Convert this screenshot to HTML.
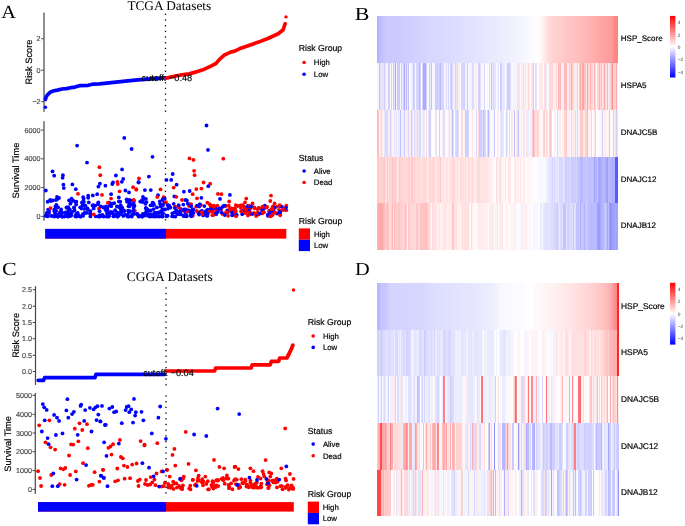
<!DOCTYPE html><html><head><meta charset="utf-8"><style>html,body{margin:0;padding:0;background:#fff;}svg{display:block;will-change:transform;text-rendering:geometricPrecision;}</style></head><body><svg width="685" height="526" viewBox="0 0 685 526">
<rect width="685" height="526" fill="#fff"/>
<defs><filter id="hblur" x="-2%" y="-2%" width="104%" height="104%"><feGaussianBlur stdDeviation="0.45 0"/></filter></defs>
<text transform="translate(1.2,18.3) scale(1.1,1)" font-size="18.5" font-family="Liberation Serif, serif" fill="#000">A</text>
<text x="169.3" y="10" font-size="13.3" font-family="Liberation Serif, serif" fill="#000" text-anchor="middle" >TCGA Datasets</text>
<rect x="43.4" y="12.5" width="1.2" height="99.3" fill="#444"/>
<rect x="41.2" y="38.2" width="2.5" height="1" fill="#444"/>
<text x="40.6" y="41.29" font-size="7.2" font-family="Liberation Sans, sans-serif" fill="#4d4d4d" text-anchor="end"  stroke="#4d4d4d" stroke-width="0.18">2</text>
<rect x="41.2" y="69.7" width="2.5" height="1" fill="#444"/>
<text x="40.6" y="72.79" font-size="7.2" font-family="Liberation Sans, sans-serif" fill="#4d4d4d" text-anchor="end"  stroke="#4d4d4d" stroke-width="0.18">0</text>
<rect x="41.2" y="101.2" width="2.5" height="1" fill="#444"/>
<text x="40.6" y="104.29" font-size="7.2" font-family="Liberation Sans, sans-serif" fill="#4d4d4d" text-anchor="end"  stroke="#4d4d4d" stroke-width="0.18">&#8722;2</text>
<text transform="translate(31.6,62) rotate(-90)" font-size="9.3" font-family="Liberation Sans, sans-serif" fill="#000" stroke="#000" stroke-width="0.18" text-anchor="middle">Risk Score</text>
<g fill="#000"><rect x="164.85" y="13.65" width="1.3" height="1.3"/><rect x="164.85" y="19.35" width="1.3" height="1.3"/><rect x="164.85" y="25.05" width="1.3" height="1.3"/><rect x="164.85" y="30.75" width="1.3" height="1.3"/><rect x="164.85" y="36.45" width="1.3" height="1.3"/><rect x="164.85" y="42.15" width="1.3" height="1.3"/><rect x="164.85" y="47.85" width="1.3" height="1.3"/><rect x="164.85" y="53.55" width="1.3" height="1.3"/><rect x="164.85" y="59.25" width="1.3" height="1.3"/><rect x="164.85" y="64.95" width="1.3" height="1.3"/><rect x="164.85" y="70.65" width="1.3" height="1.3"/><rect x="164.85" y="76.35" width="1.3" height="1.3"/><rect x="164.85" y="82.05" width="1.3" height="1.3"/><rect x="164.85" y="87.75" width="1.3" height="1.3"/><rect x="164.85" y="93.45" width="1.3" height="1.3"/><rect x="164.85" y="99.15" width="1.3" height="1.3"/><rect x="164.85" y="104.85" width="1.3" height="1.3"/><rect x="164.85" y="110.55" width="1.3" height="1.3"/></g>
<polyline points="45.4,99.5 46.1,96.9 47.9,94.3 50.5,92.1 54,90.8 57.5,90.1 61.9,89 66.3,88.6 70.7,87.7 75,87.1 79.4,85.7 88.2,85.3 92.6,84.2 99.6,83.8 116,82.2 135,80.2 154,78.6 164.8,78" fill="none" stroke="#0000ff" stroke-width="3.7" stroke-linejoin="round" stroke-linecap="round"/>
<g fill="#0000ff"><circle cx="45.4" cy="107.2" r="1.7"/></g>
<polyline points="166.3,78.2 171.7,76.8 179.9,75.2 189.2,73.9 197.4,71.5 204.4,69.2 211.4,65.9 216.1,63.4 219.6,59.3 224.2,55.2 230.1,52.3 234.7,51.1 239.4,48.8 248.7,45.5 258.5,42.1 268.4,38.2 278.2,33.7 283.2,29.7 285.1,23.8" fill="none" stroke="#ff0000" stroke-width="3.7" stroke-linejoin="round" stroke-linecap="round"/>
<g fill="#ff0000"><circle cx="286" cy="16.9" r="1.7"/></g>
<text x="166.9" y="81.4" font-size="9.2" font-family="Liberation Sans, sans-serif" fill="#000" text-anchor="middle"  stroke="#000" stroke-width="0.18">cutoff: &#8722;0.48</text>
<rect x="43.4" y="121.2" width="1.2" height="99.5" fill="#444"/>
<rect x="41.2" y="129.5" width="2.5" height="1" fill="#444"/>
<text x="40.6" y="132.59" font-size="7.2" font-family="Liberation Sans, sans-serif" fill="#4d4d4d" text-anchor="end"  stroke="#4d4d4d" stroke-width="0.18">6000</text>
<rect x="41.2" y="158.3" width="2.5" height="1" fill="#444"/>
<text x="40.6" y="161.39" font-size="7.2" font-family="Liberation Sans, sans-serif" fill="#4d4d4d" text-anchor="end"  stroke="#4d4d4d" stroke-width="0.18">4000</text>
<rect x="41.2" y="187.1" width="2.5" height="1" fill="#444"/>
<text x="40.6" y="190.19" font-size="7.2" font-family="Liberation Sans, sans-serif" fill="#4d4d4d" text-anchor="end"  stroke="#4d4d4d" stroke-width="0.18">2000</text>
<rect x="41.2" y="215.9" width="2.5" height="1" fill="#444"/>
<text x="40.6" y="218.99" font-size="7.2" font-family="Liberation Sans, sans-serif" fill="#4d4d4d" text-anchor="end"  stroke="#4d4d4d" stroke-width="0.18">0</text>
<text transform="translate(19.4,170.6) rotate(-90)" font-size="9.3" font-family="Liberation Sans, sans-serif" fill="#000" stroke="#000" stroke-width="0.18" text-anchor="middle">Survival Time</text>
<g><circle cx="70.99" cy="202.09" r="1.9" fill="#0000ff"/><circle cx="161.07" cy="211.08" r="1.9" fill="#0000ff"/><circle cx="83.79" cy="201.75" r="1.9" fill="#0000ff"/><circle cx="120.25" cy="201.75" r="1.9" fill="#0000ff"/><circle cx="217.06" cy="210.34" r="1.9" fill="#0000ff"/><circle cx="158.92" cy="216.5" r="1.9" fill="#0000ff"/><circle cx="128.37" cy="216.58" r="1.9" fill="#0000ff"/><circle cx="212.51" cy="211.67" r="1.9" fill="#ff0000"/><circle cx="98.31" cy="202.37" r="1.9" fill="#0000ff"/><circle cx="256.15" cy="215.99" r="1.9" fill="#ff0000"/><circle cx="76.07" cy="216.6" r="1.9" fill="#0000ff"/><circle cx="222.44" cy="213.88" r="1.9" fill="#ff0000"/><circle cx="176.6" cy="184.7" r="1.9" fill="#0000ff"/><circle cx="199.26" cy="206.53" r="1.9" fill="#0000ff"/><circle cx="81.85" cy="202.6" r="1.9" fill="#0000ff"/><circle cx="83.19" cy="204.08" r="1.9" fill="#0000ff"/><circle cx="134.02" cy="204.96" r="1.9" fill="#0000ff"/><circle cx="234.32" cy="208.55" r="1.9" fill="#ff0000"/><circle cx="182" cy="200" r="1.9" fill="#ff0000"/><circle cx="246.16" cy="210.87" r="1.9" fill="#0000ff"/><circle cx="257.54" cy="213.96" r="1.9" fill="#0000ff"/><circle cx="221.4" cy="194.2" r="1.9" fill="#ff0000"/><circle cx="277" cy="206.7" r="1.9" fill="#ff0000"/><circle cx="232.06" cy="215.3" r="1.9" fill="#0000ff"/><circle cx="229.2" cy="201.5" r="1.9" fill="#ff0000"/><circle cx="137.07" cy="213.95" r="1.9" fill="#0000ff"/><circle cx="61.77" cy="212.44" r="1.9" fill="#0000ff"/><circle cx="185.38" cy="212.36" r="1.9" fill="#0000ff"/><circle cx="118.93" cy="201.39" r="1.9" fill="#0000ff"/><circle cx="177.8" cy="214.03" r="1.9" fill="#0000ff"/><circle cx="274.6" cy="203.5" r="1.9" fill="#ff0000"/><circle cx="249.36" cy="210.85" r="1.9" fill="#ff0000"/><circle cx="120.71" cy="213.89" r="1.9" fill="#0000ff"/><circle cx="108.64" cy="216.55" r="1.9" fill="#0000ff"/><circle cx="163.5" cy="197.1" r="1.9" fill="#ff0000"/><circle cx="145.88" cy="208.31" r="1.9" fill="#0000ff"/><circle cx="68.09" cy="216.53" r="1.9" fill="#0000ff"/><circle cx="156.07" cy="216.35" r="1.9" fill="#0000ff"/><circle cx="240.4" cy="205.35" r="1.9" fill="#ff0000"/><circle cx="60.17" cy="212.19" r="1.9" fill="#0000ff"/><circle cx="154.06" cy="204.74" r="1.9" fill="#0000ff"/><circle cx="80.91" cy="216.52" r="1.9" fill="#0000ff"/><circle cx="83.14" cy="201.31" r="1.9" fill="#0000ff"/><circle cx="267.89" cy="214.61" r="1.9" fill="#0000ff"/><circle cx="74.1" cy="207.35" r="1.9" fill="#0000ff"/><circle cx="68.29" cy="207.2" r="1.9" fill="#0000ff"/><circle cx="109.88" cy="213.76" r="1.9" fill="#0000ff"/><circle cx="76.21" cy="204.55" r="1.9" fill="#0000ff"/><circle cx="129.3" cy="202.2" r="1.9" fill="#ff0000"/><circle cx="283.61" cy="209.42" r="1.9" fill="#ff0000"/><circle cx="249.03" cy="213.1" r="1.9" fill="#ff0000"/><circle cx="269.95" cy="213.79" r="1.9" fill="#ff0000"/><circle cx="68.23" cy="215.68" r="1.9" fill="#0000ff"/><circle cx="118.91" cy="215.35" r="1.9" fill="#0000ff"/><circle cx="93.63" cy="208.42" r="1.9" fill="#0000ff"/><circle cx="143" cy="197" r="1.9" fill="#0000ff"/><circle cx="191.11" cy="204.83" r="1.9" fill="#0000ff"/><circle cx="270.38" cy="215.89" r="1.9" fill="#0000ff"/><circle cx="225.55" cy="205.84" r="1.9" fill="#0000ff"/><circle cx="93.37" cy="205.24" r="1.9" fill="#0000ff"/><circle cx="203.18" cy="215.39" r="1.9" fill="#0000ff"/><circle cx="215.45" cy="208.18" r="1.9" fill="#0000ff"/><circle cx="51.53" cy="216.01" r="1.9" fill="#0000ff"/><circle cx="206.65" cy="212.61" r="1.9" fill="#ff0000"/><circle cx="206.87" cy="215.68" r="1.9" fill="#0000ff"/><circle cx="247.89" cy="205.98" r="1.9" fill="#0000ff"/><circle cx="215.09" cy="208.19" r="1.9" fill="#0000ff"/><circle cx="108.76" cy="216.22" r="1.9" fill="#0000ff"/><circle cx="87.54" cy="208.42" r="1.9" fill="#0000ff"/><circle cx="128.1" cy="210.74" r="1.9" fill="#0000ff"/><circle cx="235.6" cy="215.5" r="1.9" fill="#ff0000"/><circle cx="89.92" cy="213.17" r="1.9" fill="#0000ff"/><circle cx="131.77" cy="204.72" r="1.9" fill="#0000ff"/><circle cx="139" cy="178.4" r="1.9" fill="#ff0000"/><circle cx="75.8" cy="189.2" r="1.9" fill="#0000ff"/><circle cx="88.2" cy="197.8" r="1.9" fill="#0000ff"/><circle cx="54.23" cy="209.75" r="1.9" fill="#0000ff"/><circle cx="82.43" cy="205.52" r="1.9" fill="#0000ff"/><circle cx="171.2" cy="179.9" r="1.9" fill="#0000ff"/><circle cx="263.44" cy="208.9" r="1.9" fill="#0000ff"/><circle cx="59" cy="198" r="1.9" fill="#0000ff"/><circle cx="247.54" cy="210.1" r="1.9" fill="#ff0000"/><circle cx="145.91" cy="207.84" r="1.9" fill="#0000ff"/><circle cx="87.96" cy="209.97" r="1.9" fill="#0000ff"/><circle cx="244.57" cy="207.23" r="1.9" fill="#ff0000"/><circle cx="216.15" cy="214.19" r="1.9" fill="#0000ff"/><circle cx="116.78" cy="215.22" r="1.9" fill="#0000ff"/><circle cx="280.37" cy="206.17" r="1.9" fill="#0000ff"/><circle cx="234.51" cy="212.85" r="1.9" fill="#0000ff"/><circle cx="207.88" cy="213.55" r="1.9" fill="#ff0000"/><circle cx="147.77" cy="214.62" r="1.9" fill="#0000ff"/><circle cx="68.38" cy="210.01" r="1.9" fill="#0000ff"/><circle cx="120.77" cy="205.48" r="1.9" fill="#0000ff"/><circle cx="231.31" cy="208.54" r="1.9" fill="#0000ff"/><circle cx="210.73" cy="206.85" r="1.9" fill="#ff0000"/><circle cx="193.32" cy="209.51" r="1.9" fill="#0000ff"/><circle cx="95.86" cy="216.44" r="1.9" fill="#0000ff"/><circle cx="102.97" cy="215.77" r="1.9" fill="#0000ff"/><circle cx="69.91" cy="209.71" r="1.9" fill="#0000ff"/><circle cx="183.96" cy="216.17" r="1.9" fill="#0000ff"/><circle cx="152.24" cy="205.22" r="1.9" fill="#0000ff"/><circle cx="117.8" cy="184" r="1.9" fill="#ff0000"/><circle cx="160.5" cy="189.4" r="1.9" fill="#ff0000"/><circle cx="56" cy="200" r="1.9" fill="#0000ff"/><circle cx="209.3" cy="211.77" r="1.9" fill="#ff0000"/><circle cx="180.5" cy="208.85" r="1.9" fill="#0000ff"/><circle cx="152.5" cy="156.8" r="1.9" fill="#0000ff"/><circle cx="270.2" cy="211.92" r="1.9" fill="#0000ff"/><circle cx="138.63" cy="216.59" r="1.9" fill="#0000ff"/><circle cx="227.28" cy="210.51" r="1.9" fill="#0000ff"/><circle cx="77.67" cy="212.84" r="1.9" fill="#0000ff"/><circle cx="194.1" cy="170.8" r="1.9" fill="#ff0000"/><circle cx="259.3" cy="208.1" r="1.9" fill="#ff0000"/><circle cx="206.5" cy="125.5" r="1.9" fill="#0000ff"/><circle cx="130.49" cy="200.35" r="1.9" fill="#0000ff"/><circle cx="147.6" cy="209.47" r="1.9" fill="#0000ff"/><circle cx="123.33" cy="215.95" r="1.9" fill="#0000ff"/><circle cx="74.54" cy="210.38" r="1.9" fill="#0000ff"/><circle cx="112.76" cy="212.54" r="1.9" fill="#0000ff"/><circle cx="264" cy="212.33" r="1.9" fill="#ff0000"/><circle cx="242.23" cy="214.15" r="1.9" fill="#0000ff"/><circle cx="121.8" cy="181.8" r="1.9" fill="#0000ff"/><circle cx="140.3" cy="201.58" r="1.9" fill="#0000ff"/><circle cx="183.32" cy="204.56" r="1.9" fill="#0000ff"/><circle cx="57.58" cy="216.55" r="1.9" fill="#0000ff"/><circle cx="117.15" cy="212.3" r="1.9" fill="#0000ff"/><circle cx="80.18" cy="207.28" r="1.9" fill="#0000ff"/><circle cx="124.3" cy="137.9" r="1.9" fill="#0000ff"/><circle cx="191.91" cy="214.84" r="1.9" fill="#0000ff"/><circle cx="147.88" cy="215.75" r="1.9" fill="#0000ff"/><circle cx="281.78" cy="206.67" r="1.9" fill="#0000ff"/><circle cx="124.34" cy="211.05" r="1.9" fill="#0000ff"/><circle cx="98.4" cy="186.6" r="1.9" fill="#0000ff"/><circle cx="119.6" cy="191.3" r="1.9" fill="#ff0000"/><circle cx="272.96" cy="206.74" r="1.9" fill="#0000ff"/><circle cx="118.8" cy="197.4" r="1.9" fill="#0000ff"/><circle cx="186.8" cy="200.5" r="1.9" fill="#0000ff"/><circle cx="273.35" cy="206.52" r="1.9" fill="#ff0000"/><circle cx="58.19" cy="216.58" r="1.9" fill="#0000ff"/><circle cx="49.09" cy="212.99" r="1.9" fill="#0000ff"/><circle cx="47.48" cy="215.45" r="1.9" fill="#0000ff"/><circle cx="107.22" cy="207.43" r="1.9" fill="#0000ff"/><circle cx="246.3" cy="198.6" r="1.9" fill="#ff0000"/><circle cx="187.93" cy="210.43" r="1.9" fill="#0000ff"/><circle cx="113.97" cy="215.98" r="1.9" fill="#0000ff"/><circle cx="193.4" cy="159.9" r="1.9" fill="#ff0000"/><circle cx="56.75" cy="215.12" r="1.9" fill="#0000ff"/><circle cx="282.69" cy="209.69" r="1.9" fill="#ff0000"/><circle cx="213.85" cy="207.47" r="1.9" fill="#ff0000"/><circle cx="109.2" cy="214.1" r="1.9" fill="#0000ff"/><circle cx="211.87" cy="206.01" r="1.9" fill="#ff0000"/><circle cx="257.77" cy="209.18" r="1.9" fill="#ff0000"/><circle cx="76.36" cy="201.71" r="1.9" fill="#0000ff"/><circle cx="263.08" cy="208.74" r="1.9" fill="#0000ff"/><circle cx="264.86" cy="205.6" r="1.9" fill="#0000ff"/><circle cx="196.15" cy="206.64" r="1.9" fill="#ff0000"/><circle cx="99.9" cy="183.7" r="1.9" fill="#0000ff"/><circle cx="217.9" cy="193.9" r="1.9" fill="#ff0000"/><circle cx="144" cy="199" r="1.9" fill="#0000ff"/><circle cx="162.62" cy="216.59" r="1.9" fill="#0000ff"/><circle cx="280" cy="212.8" r="1.9" fill="#0000ff"/><circle cx="78" cy="193.8" r="1.9" fill="#ff0000"/><circle cx="258.71" cy="214.56" r="1.9" fill="#ff0000"/><circle cx="161.53" cy="205.17" r="1.9" fill="#0000ff"/><circle cx="133.86" cy="200.69" r="1.9" fill="#0000ff"/><circle cx="161.22" cy="216.41" r="1.9" fill="#0000ff"/><circle cx="189.7" cy="191" r="1.9" fill="#0000ff"/><circle cx="234.62" cy="212.3" r="1.9" fill="#0000ff"/><circle cx="138.6" cy="182.2" r="1.9" fill="#0000ff"/><circle cx="269.74" cy="210.6" r="1.9" fill="#0000ff"/><circle cx="152.64" cy="202.77" r="1.9" fill="#0000ff"/><circle cx="220" cy="198.9" r="1.9" fill="#0000ff"/><circle cx="272.35" cy="215.24" r="1.9" fill="#ff0000"/><circle cx="131.85" cy="216.53" r="1.9" fill="#0000ff"/><circle cx="178.77" cy="207.39" r="1.9" fill="#ff0000"/><circle cx="83.2" cy="197.1" r="1.9" fill="#0000ff"/><circle cx="215.74" cy="211.49" r="1.9" fill="#ff0000"/><circle cx="125.1" cy="214.75" r="1.9" fill="#0000ff"/><circle cx="196.3" cy="189.1" r="1.9" fill="#ff0000"/><circle cx="76.52" cy="215.45" r="1.9" fill="#ff0000"/><circle cx="55.6" cy="206.6" r="1.9" fill="#ff0000"/><circle cx="243.2" cy="210.64" r="1.9" fill="#0000ff"/><circle cx="111.42" cy="212.11" r="1.9" fill="#0000ff"/><circle cx="168.03" cy="208.72" r="1.9" fill="#0000ff"/><circle cx="258.73" cy="207.78" r="1.9" fill="#ff0000"/><circle cx="271" cy="195.6" r="1.9" fill="#ff0000"/><circle cx="249.83" cy="214.2" r="1.9" fill="#ff0000"/><circle cx="262.06" cy="210.28" r="1.9" fill="#0000ff"/><circle cx="190.3" cy="211.71" r="1.9" fill="#0000ff"/><circle cx="146.31" cy="211.24" r="1.9" fill="#0000ff"/><circle cx="62.27" cy="216.58" r="1.9" fill="#0000ff"/><circle cx="68.7" cy="215.79" r="1.9" fill="#0000ff"/><circle cx="106.19" cy="210.68" r="1.9" fill="#0000ff"/><circle cx="100.3" cy="175.2" r="1.9" fill="#ff0000"/><circle cx="158" cy="195.2" r="1.9" fill="#0000ff"/><circle cx="217.46" cy="210.74" r="1.9" fill="#ff0000"/><circle cx="127.6" cy="214.92" r="1.9" fill="#0000ff"/><circle cx="56.34" cy="204.98" r="1.9" fill="#0000ff"/><circle cx="142.85" cy="213.88" r="1.9" fill="#0000ff"/><circle cx="112.34" cy="213.26" r="1.9" fill="#0000ff"/><circle cx="75.32" cy="216.05" r="1.9" fill="#0000ff"/><circle cx="111.26" cy="206.2" r="1.9" fill="#0000ff"/><circle cx="95.35" cy="205.55" r="1.9" fill="#0000ff"/><circle cx="242.51" cy="205.06" r="1.9" fill="#ff0000"/><circle cx="284.56" cy="209.37" r="1.9" fill="#0000ff"/><circle cx="88.2" cy="195.7" r="1.9" fill="#0000ff"/><circle cx="148.9" cy="176.6" r="1.9" fill="#0000ff"/><circle cx="273.23" cy="209.36" r="1.9" fill="#ff0000"/><circle cx="157.2" cy="197.1" r="1.9" fill="#ff0000"/><circle cx="49.06" cy="210.38" r="1.9" fill="#0000ff"/><circle cx="186.85" cy="211.88" r="1.9" fill="#0000ff"/><circle cx="97.2" cy="194.2" r="1.9" fill="#0000ff"/><circle cx="113.46" cy="216.28" r="1.9" fill="#0000ff"/><circle cx="159.85" cy="201.29" r="1.9" fill="#0000ff"/><circle cx="78.05" cy="214.65" r="1.9" fill="#0000ff"/><circle cx="252.6" cy="203.5" r="1.9" fill="#ff0000"/><circle cx="47.62" cy="215.98" r="1.9" fill="#0000ff"/><circle cx="64.61" cy="212.86" r="1.9" fill="#0000ff"/><circle cx="168.99" cy="205.3" r="1.9" fill="#0000ff"/><circle cx="98.14" cy="204.1" r="1.9" fill="#0000ff"/><circle cx="82.75" cy="214.21" r="1.9" fill="#0000ff"/><circle cx="78.58" cy="216.17" r="1.9" fill="#0000ff"/><circle cx="254.3" cy="207.3" r="1.9" fill="#ff0000"/><circle cx="231.6" cy="210.8" r="1.9" fill="#ff0000"/><circle cx="112.34" cy="203.66" r="1.9" fill="#0000ff"/><circle cx="173.58" cy="216.38" r="1.9" fill="#0000ff"/><circle cx="128.07" cy="216.54" r="1.9" fill="#0000ff"/><circle cx="186.13" cy="215.81" r="1.9" fill="#0000ff"/><circle cx="140.74" cy="216.12" r="1.9" fill="#0000ff"/><circle cx="166.4" cy="179.9" r="1.9" fill="#0000ff"/><circle cx="92.53" cy="205.51" r="1.9" fill="#0000ff"/><circle cx="149.8" cy="216.58" r="1.9" fill="#0000ff"/><circle cx="221.08" cy="209.57" r="1.9" fill="#ff0000"/><circle cx="153.73" cy="209.04" r="1.9" fill="#0000ff"/><circle cx="48.04" cy="209.6" r="1.9" fill="#0000ff"/><circle cx="209.5" cy="204.1" r="1.9" fill="#ff0000"/><circle cx="162.87" cy="199.81" r="1.9" fill="#0000ff"/><circle cx="190.92" cy="204.1" r="1.9" fill="#ff0000"/><circle cx="227.79" cy="212.16" r="1.9" fill="#0000ff"/><circle cx="109.3" cy="202.7" r="1.9" fill="#0000ff"/><circle cx="59.42" cy="213.66" r="1.9" fill="#0000ff"/><circle cx="56.27" cy="210.78" r="1.9" fill="#0000ff"/><circle cx="90.39" cy="216.46" r="1.9" fill="#0000ff"/><circle cx="262.13" cy="213.42" r="1.9" fill="#ff0000"/><circle cx="232.86" cy="214.74" r="1.9" fill="#0000ff"/><circle cx="55.39" cy="213.36" r="1.9" fill="#0000ff"/><circle cx="223.3" cy="158.7" r="1.9" fill="#ff0000"/><circle cx="63.8" cy="188.1" r="1.9" fill="#0000ff"/><circle cx="231.47" cy="208.32" r="1.9" fill="#ff0000"/><circle cx="146.51" cy="202.07" r="1.9" fill="#0000ff"/><circle cx="111.1" cy="194.2" r="1.9" fill="#0000ff"/><circle cx="156.26" cy="216.47" r="1.9" fill="#0000ff"/><circle cx="90.4" cy="213.77" r="1.9" fill="#0000ff"/><circle cx="264.49" cy="206.62" r="1.9" fill="#0000ff"/><circle cx="185.4" cy="200" r="1.9" fill="#0000ff"/><circle cx="136.4" cy="189.4" r="1.9" fill="#ff0000"/><circle cx="70.68" cy="214.04" r="1.9" fill="#0000ff"/><circle cx="129.27" cy="203.92" r="1.9" fill="#0000ff"/><circle cx="285.92" cy="207.22" r="1.9" fill="#ff0000"/><circle cx="99.01" cy="208.53" r="1.9" fill="#ff0000"/><circle cx="64.32" cy="216.6" r="1.9" fill="#0000ff"/><circle cx="73.99" cy="207.92" r="1.9" fill="#0000ff"/><circle cx="267.86" cy="215.76" r="1.9" fill="#0000ff"/><circle cx="201.4" cy="188.6" r="1.9" fill="#ff0000"/><circle cx="201.95" cy="210.88" r="1.9" fill="#0000ff"/><circle cx="267.1" cy="206.89" r="1.9" fill="#ff0000"/><circle cx="207.28" cy="213.33" r="1.9" fill="#ff0000"/><circle cx="134.9" cy="210.79" r="1.9" fill="#ff0000"/><circle cx="114.16" cy="203.2" r="1.9" fill="#0000ff"/><circle cx="128.83" cy="212.01" r="1.9" fill="#0000ff"/><circle cx="222.79" cy="206.75" r="1.9" fill="#0000ff"/><circle cx="115.9" cy="175.5" r="1.9" fill="#0000ff"/><circle cx="111.23" cy="212.24" r="1.9" fill="#0000ff"/><circle cx="87" cy="162.6" r="1.9" fill="#0000ff"/><circle cx="164.2" cy="202.77" r="1.9" fill="#0000ff"/><circle cx="142.24" cy="216.52" r="1.9" fill="#0000ff"/><circle cx="62.6" cy="177.8" r="1.9" fill="#0000ff"/><circle cx="153.8" cy="216.49" r="1.9" fill="#0000ff"/><circle cx="286.34" cy="210.2" r="1.9" fill="#ff0000"/><circle cx="156.95" cy="207.46" r="1.9" fill="#0000ff"/><circle cx="133.1" cy="187.2" r="1.9" fill="#ff0000"/><circle cx="150.8" cy="190.1" r="1.9" fill="#0000ff"/><circle cx="62.9" cy="175.2" r="1.9" fill="#0000ff"/><circle cx="192.91" cy="215.83" r="1.9" fill="#ff0000"/><circle cx="175.36" cy="216.55" r="1.9" fill="#0000ff"/><circle cx="192.23" cy="210.85" r="1.9" fill="#0000ff"/><circle cx="136.2" cy="189.5" r="1.9" fill="#ff0000"/><circle cx="72.4" cy="184.4" r="1.9" fill="#0000ff"/><circle cx="207.35" cy="215.69" r="1.9" fill="#0000ff"/><circle cx="250.44" cy="208.22" r="1.9" fill="#ff0000"/><circle cx="270.27" cy="213.22" r="1.9" fill="#0000ff"/><circle cx="103.75" cy="216.59" r="1.9" fill="#0000ff"/><circle cx="245.64" cy="208.11" r="1.9" fill="#0000ff"/><circle cx="274.68" cy="207.65" r="1.9" fill="#0000ff"/><circle cx="153.37" cy="214.99" r="1.9" fill="#0000ff"/><circle cx="69.71" cy="216.16" r="1.9" fill="#0000ff"/><circle cx="136.94" cy="213.88" r="1.9" fill="#0000ff"/><circle cx="133.57" cy="202.09" r="1.9" fill="#0000ff"/><circle cx="199.61" cy="204.44" r="1.9" fill="#0000ff"/><circle cx="132.52" cy="214.12" r="1.9" fill="#0000ff"/><circle cx="48" cy="215.4" r="1.9" fill="#ff0000"/><circle cx="161.34" cy="212.09" r="1.9" fill="#0000ff"/><circle cx="57" cy="197" r="1.9" fill="#0000ff"/><circle cx="256.79" cy="213.88" r="1.9" fill="#0000ff"/><circle cx="45.57" cy="215.92" r="1.9" fill="#0000ff"/><circle cx="236.79" cy="214.98" r="1.9" fill="#0000ff"/><circle cx="75.44" cy="216" r="1.9" fill="#0000ff"/><circle cx="141.82" cy="201.61" r="1.9" fill="#0000ff"/><circle cx="221.73" cy="212.59" r="1.9" fill="#0000ff"/><circle cx="249.37" cy="211.22" r="1.9" fill="#0000ff"/><circle cx="120.18" cy="214.2" r="1.9" fill="#0000ff"/><circle cx="279.01" cy="209.85" r="1.9" fill="#ff0000"/><circle cx="172.13" cy="216.32" r="1.9" fill="#0000ff"/><circle cx="109.54" cy="212.32" r="1.9" fill="#0000ff"/><circle cx="138.53" cy="215.44" r="1.9" fill="#0000ff"/><circle cx="233.77" cy="212.31" r="1.9" fill="#ff0000"/><circle cx="257.61" cy="212.58" r="1.9" fill="#ff0000"/><circle cx="54.49" cy="211.52" r="1.9" fill="#0000ff"/><circle cx="277.08" cy="213.48" r="1.9" fill="#0000ff"/><circle cx="115.18" cy="214.98" r="1.9" fill="#0000ff"/><circle cx="270.3" cy="201" r="1.9" fill="#ff0000"/><circle cx="70.38" cy="203.71" r="1.9" fill="#0000ff"/><circle cx="142.19" cy="216.54" r="1.9" fill="#0000ff"/><circle cx="219.29" cy="208.1" r="1.9" fill="#0000ff"/><circle cx="99.35" cy="215.4" r="1.9" fill="#0000ff"/><circle cx="232.9" cy="209.94" r="1.9" fill="#ff0000"/><circle cx="269.07" cy="211.32" r="1.9" fill="#ff0000"/><circle cx="127.04" cy="201.71" r="1.9" fill="#0000ff"/><circle cx="273.18" cy="210.35" r="1.9" fill="#0000ff"/><circle cx="167.57" cy="205.09" r="1.9" fill="#0000ff"/><circle cx="245.48" cy="213.11" r="1.9" fill="#ff0000"/><circle cx="120.69" cy="213.27" r="1.9" fill="#0000ff"/><circle cx="162.67" cy="199.35" r="1.9" fill="#0000ff"/><circle cx="71.08" cy="213.76" r="1.9" fill="#0000ff"/><circle cx="225.25" cy="206.08" r="1.9" fill="#ff0000"/><circle cx="272.3" cy="213.77" r="1.9" fill="#ff0000"/><circle cx="70.94" cy="215.44" r="1.9" fill="#0000ff"/><circle cx="200.92" cy="205.09" r="1.9" fill="#ff0000"/><circle cx="212.4" cy="208.04" r="1.9" fill="#ff0000"/><circle cx="109.67" cy="205.54" r="1.9" fill="#0000ff"/><circle cx="235.79" cy="211.13" r="1.9" fill="#ff0000"/><circle cx="217.26" cy="205.58" r="1.9" fill="#ff0000"/><circle cx="237.82" cy="206" r="1.9" fill="#ff0000"/><circle cx="113.87" cy="216.34" r="1.9" fill="#0000ff"/><circle cx="205.46" cy="211.51" r="1.9" fill="#0000ff"/><circle cx="76.51" cy="216.47" r="1.9" fill="#0000ff"/><circle cx="254.87" cy="213.9" r="1.9" fill="#ff0000"/><circle cx="177.06" cy="213.98" r="1.9" fill="#ff0000"/><circle cx="83.18" cy="215.78" r="1.9" fill="#0000ff"/><circle cx="50.89" cy="201.05" r="1.9" fill="#0000ff"/><circle cx="68.82" cy="216.19" r="1.9" fill="#0000ff"/><circle cx="271.5" cy="211.28" r="1.9" fill="#0000ff"/><circle cx="155.12" cy="215.96" r="1.9" fill="#0000ff"/><circle cx="212.32" cy="215.21" r="1.9" fill="#ff0000"/><circle cx="112.3" cy="184" r="1.9" fill="#0000ff"/><circle cx="53.72" cy="215.79" r="1.9" fill="#0000ff"/><circle cx="235.8" cy="205.1" r="1.9" fill="#ff0000"/><circle cx="150.69" cy="214.17" r="1.9" fill="#0000ff"/><circle cx="212.59" cy="208.32" r="1.9" fill="#0000ff"/><circle cx="102.45" cy="214.98" r="1.9" fill="#0000ff"/><circle cx="162.93" cy="205.13" r="1.9" fill="#0000ff"/><circle cx="144.94" cy="213.65" r="1.9" fill="#0000ff"/><circle cx="62.29" cy="216.27" r="1.9" fill="#0000ff"/><circle cx="249.52" cy="205.99" r="1.9" fill="#ff0000"/><circle cx="133.85" cy="213.88" r="1.9" fill="#0000ff"/><circle cx="92.8" cy="195.4" r="1.9" fill="#0000ff"/><circle cx="117.4" cy="181.8" r="1.9" fill="#ff0000"/><circle cx="247.85" cy="207.85" r="1.9" fill="#0000ff"/><circle cx="102" cy="194.9" r="1.9" fill="#ff0000"/><circle cx="83.61" cy="198.52" r="1.9" fill="#0000ff"/><circle cx="245" cy="202.4" r="1.9" fill="#ff0000"/><circle cx="120.78" cy="209.16" r="1.9" fill="#0000ff"/><circle cx="58.03" cy="207.23" r="1.9" fill="#0000ff"/><circle cx="153.15" cy="203.05" r="1.9" fill="#0000ff"/><circle cx="75.48" cy="201.9" r="1.9" fill="#0000ff"/><circle cx="266.33" cy="207.63" r="1.9" fill="#ff0000"/><circle cx="70.98" cy="215.55" r="1.9" fill="#0000ff"/><circle cx="105.4" cy="185.7" r="1.9" fill="#0000ff"/><circle cx="188.98" cy="210.37" r="1.9" fill="#0000ff"/><circle cx="189" cy="205.9" r="1.9" fill="#ff0000"/><circle cx="65.71" cy="212.46" r="1.9" fill="#0000ff"/><circle cx="210.05" cy="209.41" r="1.9" fill="#0000ff"/><circle cx="280.22" cy="215.26" r="1.9" fill="#ff0000"/><circle cx="85.53" cy="205.63" r="1.9" fill="#0000ff"/><circle cx="207.41" cy="209.56" r="1.9" fill="#0000ff"/><circle cx="80.04" cy="216.53" r="1.9" fill="#0000ff"/><circle cx="105.58" cy="208.41" r="1.9" fill="#0000ff"/><circle cx="141.08" cy="216.15" r="1.9" fill="#0000ff"/><circle cx="162.65" cy="213.99" r="1.9" fill="#0000ff"/><circle cx="162.67" cy="209.11" r="1.9" fill="#0000ff"/><circle cx="193.35" cy="213.02" r="1.9" fill="#0000ff"/><circle cx="54.42" cy="216.59" r="1.9" fill="#0000ff"/><circle cx="125.4" cy="190.5" r="1.9" fill="#0000ff"/><circle cx="199.92" cy="204.3" r="1.9" fill="#0000ff"/><circle cx="210.85" cy="205.28" r="1.9" fill="#ff0000"/><circle cx="259.97" cy="213.28" r="1.9" fill="#0000ff"/><circle cx="226.09" cy="212.24" r="1.9" fill="#ff0000"/><circle cx="201.08" cy="211.78" r="1.9" fill="#ff0000"/><circle cx="150.92" cy="210.33" r="1.9" fill="#0000ff"/><circle cx="213.74" cy="214.83" r="1.9" fill="#ff0000"/><circle cx="107.54" cy="209.5" r="1.9" fill="#0000ff"/><circle cx="46.79" cy="212.86" r="1.9" fill="#0000ff"/><circle cx="245.84" cy="208.72" r="1.9" fill="#0000ff"/><circle cx="100.72" cy="206.3" r="1.9" fill="#0000ff"/><circle cx="119.04" cy="207.02" r="1.9" fill="#0000ff"/><circle cx="67.55" cy="215.96" r="1.9" fill="#0000ff"/><circle cx="164.99" cy="209.46" r="1.9" fill="#0000ff"/><circle cx="63.4" cy="184.7" r="1.9" fill="#0000ff"/><circle cx="123.64" cy="210.07" r="1.9" fill="#0000ff"/><circle cx="172.7" cy="174" r="1.9" fill="#0000ff"/><circle cx="213.79" cy="206.77" r="1.9" fill="#ff0000"/><circle cx="71.96" cy="211.89" r="1.9" fill="#0000ff"/><circle cx="181.66" cy="210.66" r="1.9" fill="#ff0000"/><circle cx="117.31" cy="216.6" r="1.9" fill="#0000ff"/><circle cx="180.94" cy="214.3" r="1.9" fill="#0000ff"/><circle cx="154.28" cy="212.89" r="1.9" fill="#0000ff"/><circle cx="99.4" cy="167.2" r="1.9" fill="#ff0000"/><circle cx="197.05" cy="205.53" r="1.9" fill="#0000ff"/><circle cx="81.47" cy="208.59" r="1.9" fill="#0000ff"/><circle cx="164.72" cy="198.66" r="1.9" fill="#0000ff"/><circle cx="189.5" cy="158.4" r="1.9" fill="#ff0000"/><circle cx="275.02" cy="212.63" r="1.9" fill="#ff0000"/><circle cx="229.95" cy="208.72" r="1.9" fill="#ff0000"/><circle cx="190.7" cy="214.57" r="1.9" fill="#0000ff"/><circle cx="145.53" cy="203.77" r="1.9" fill="#0000ff"/><circle cx="170.48" cy="207.51" r="1.9" fill="#0000ff"/><circle cx="242.9" cy="205.6" r="1.9" fill="#ff0000"/><circle cx="127.3" cy="215.99" r="1.9" fill="#0000ff"/><circle cx="208" cy="149.9" r="1.9" fill="#0000ff"/><circle cx="283.81" cy="209.49" r="1.9" fill="#0000ff"/><circle cx="210.2" cy="183.7" r="1.9" fill="#ff0000"/><circle cx="272.3" cy="209.2" r="1.9" fill="#0000ff"/><circle cx="52.5" cy="171.4" r="1.9" fill="#0000ff"/><circle cx="141.98" cy="200.04" r="1.9" fill="#0000ff"/><circle cx="270.12" cy="212.33" r="1.9" fill="#0000ff"/><circle cx="209.25" cy="211.58" r="1.9" fill="#ff0000"/><circle cx="254.58" cy="208.3" r="1.9" fill="#ff0000"/><circle cx="247.55" cy="209.71" r="1.9" fill="#ff0000"/><circle cx="162.85" cy="213.18" r="1.9" fill="#0000ff"/><circle cx="145.91" cy="198.87" r="1.9" fill="#0000ff"/><circle cx="184.27" cy="209.4" r="1.9" fill="#0000ff"/><circle cx="68.99" cy="200.34" r="1.9" fill="#0000ff"/><circle cx="253.91" cy="212.79" r="1.9" fill="#ff0000"/><circle cx="204.35" cy="206.08" r="1.9" fill="#0000ff"/><circle cx="200.95" cy="211.35" r="1.9" fill="#0000ff"/><circle cx="173.71" cy="203.84" r="1.9" fill="#0000ff"/><circle cx="148.68" cy="210.98" r="1.9" fill="#0000ff"/><circle cx="183.44" cy="209.89" r="1.9" fill="#0000ff"/><circle cx="272.2" cy="209.15" r="1.9" fill="#ff0000"/><circle cx="116.91" cy="206.45" r="1.9" fill="#0000ff"/><circle cx="247.61" cy="210.3" r="1.9" fill="#0000ff"/><circle cx="168.4" cy="205.58" r="1.9" fill="#0000ff"/><circle cx="138.5" cy="182.5" r="1.9" fill="#0000ff"/><circle cx="123.2" cy="178.9" r="1.9" fill="#0000ff"/><circle cx="76.17" cy="213.94" r="1.9" fill="#0000ff"/><circle cx="122.17" cy="207.58" r="1.9" fill="#0000ff"/><circle cx="164.42" cy="209.56" r="1.9" fill="#0000ff"/><circle cx="233.39" cy="209.36" r="1.9" fill="#ff0000"/><circle cx="77.1" cy="145.6" r="1.9" fill="#0000ff"/><circle cx="86.34" cy="212.91" r="1.9" fill="#0000ff"/><circle cx="279.92" cy="211.74" r="1.9" fill="#0000ff"/><circle cx="158.52" cy="212.51" r="1.9" fill="#0000ff"/><circle cx="201.62" cy="212.31" r="1.9" fill="#ff0000"/><circle cx="207.15" cy="213.23" r="1.9" fill="#0000ff"/><circle cx="224.02" cy="205.61" r="1.9" fill="#0000ff"/><circle cx="199.06" cy="214.51" r="1.9" fill="#0000ff"/><circle cx="59.6" cy="215.64" r="1.9" fill="#0000ff"/><circle cx="230.85" cy="210.38" r="1.9" fill="#ff0000"/><circle cx="55.91" cy="214.81" r="1.9" fill="#0000ff"/><circle cx="129.3" cy="206.38" r="1.9" fill="#0000ff"/><circle cx="201.4" cy="197.8" r="1.9" fill="#0000ff"/><circle cx="155.94" cy="212.96" r="1.9" fill="#0000ff"/><circle cx="247.94" cy="215.46" r="1.9" fill="#ff0000"/><circle cx="192.45" cy="209.49" r="1.9" fill="#0000ff"/><circle cx="220.6" cy="208.64" r="1.9" fill="#0000ff"/><circle cx="280.55" cy="211.21" r="1.9" fill="#ff0000"/><circle cx="228.06" cy="215.75" r="1.9" fill="#ff0000"/><circle cx="179.85" cy="214.35" r="1.9" fill="#0000ff"/><circle cx="100.15" cy="215.37" r="1.9" fill="#0000ff"/><circle cx="227.25" cy="212.55" r="1.9" fill="#ff0000"/><circle cx="47.64" cy="201.74" r="1.9" fill="#0000ff"/><circle cx="229.9" cy="194.9" r="1.9" fill="#0000ff"/><circle cx="131.6" cy="149" r="1.9" fill="#0000ff"/><circle cx="133.34" cy="210.81" r="1.9" fill="#0000ff"/><circle cx="98.14" cy="203.97" r="1.9" fill="#0000ff"/><circle cx="271.53" cy="209.26" r="1.9" fill="#ff0000"/><circle cx="217.88" cy="211.88" r="1.9" fill="#0000ff"/><circle cx="61.02" cy="213.16" r="1.9" fill="#0000ff"/><circle cx="115.13" cy="210.21" r="1.9" fill="#0000ff"/><circle cx="194.6" cy="175.2" r="1.9" fill="#ff0000"/><circle cx="55.51" cy="206.7" r="1.9" fill="#0000ff"/><circle cx="216.19" cy="213.48" r="1.9" fill="#0000ff"/><circle cx="263.33" cy="212.3" r="1.9" fill="#ff0000"/><circle cx="133.58" cy="207.95" r="1.9" fill="#0000ff"/><circle cx="57.49" cy="198.9" r="1.9" fill="#0000ff"/><circle cx="183.48" cy="215.73" r="1.9" fill="#0000ff"/><circle cx="45.8" cy="190.5" r="1.9" fill="#0000ff"/><circle cx="105.93" cy="206.48" r="1.9" fill="#0000ff"/><circle cx="62.33" cy="216.57" r="1.9" fill="#0000ff"/><circle cx="262.6" cy="206.73" r="1.9" fill="#ff0000"/><circle cx="150.58" cy="205.37" r="1.9" fill="#0000ff"/><circle cx="177.57" cy="214.19" r="1.9" fill="#0000ff"/><circle cx="174.48" cy="212.29" r="1.9" fill="#0000ff"/><circle cx="67.57" cy="212.16" r="1.9" fill="#0000ff"/><circle cx="146.67" cy="214.14" r="1.9" fill="#0000ff"/><circle cx="50.5" cy="208.1" r="1.9" fill="#ff0000"/><circle cx="198.08" cy="212.35" r="1.9" fill="#0000ff"/><circle cx="61.15" cy="209.42" r="1.9" fill="#0000ff"/><circle cx="186.39" cy="216.27" r="1.9" fill="#0000ff"/><circle cx="175.03" cy="206.65" r="1.9" fill="#ff0000"/><circle cx="52.9" cy="200.29" r="1.9" fill="#0000ff"/><circle cx="129.27" cy="199.89" r="1.9" fill="#0000ff"/><circle cx="187" cy="211.53" r="1.9" fill="#ff0000"/><circle cx="55.08" cy="209.52" r="1.9" fill="#0000ff"/><circle cx="130.84" cy="216.11" r="1.9" fill="#0000ff"/><circle cx="180.03" cy="211.59" r="1.9" fill="#0000ff"/><circle cx="67.16" cy="213.15" r="1.9" fill="#0000ff"/><circle cx="60.67" cy="213.47" r="1.9" fill="#0000ff"/><circle cx="186.82" cy="215.92" r="1.9" fill="#0000ff"/><circle cx="106.75" cy="216.6" r="1.9" fill="#0000ff"/><circle cx="120.28" cy="212.49" r="1.9" fill="#0000ff"/><circle cx="251.11" cy="206.51" r="1.9" fill="#0000ff"/><circle cx="178.65" cy="205.22" r="1.9" fill="#0000ff"/><circle cx="249.7" cy="212.3" r="1.9" fill="#ff0000"/><circle cx="236.06" cy="216.33" r="1.9" fill="#ff0000"/><circle cx="286.36" cy="205.63" r="1.9" fill="#ff0000"/><circle cx="142.98" cy="202.07" r="1.9" fill="#0000ff"/><circle cx="174.92" cy="208.11" r="1.9" fill="#0000ff"/><circle cx="147.23" cy="210.15" r="1.9" fill="#0000ff"/><circle cx="130.18" cy="211.03" r="1.9" fill="#0000ff"/><circle cx="191.07" cy="206.18" r="1.9" fill="#0000ff"/><circle cx="107.08" cy="213.52" r="1.9" fill="#0000ff"/><circle cx="161.23" cy="211.94" r="1.9" fill="#0000ff"/><circle cx="103.13" cy="207.24" r="1.9" fill="#0000ff"/><circle cx="113" cy="182.5" r="1.9" fill="#0000ff"/><circle cx="174.4" cy="196.4" r="1.9" fill="#0000ff"/><circle cx="231.99" cy="212.57" r="1.9" fill="#0000ff"/><circle cx="118.93" cy="206.53" r="1.9" fill="#0000ff"/><circle cx="129" cy="192.4" r="1.9" fill="#0000ff"/><circle cx="191.19" cy="216.33" r="1.9" fill="#0000ff"/><circle cx="187.88" cy="203.68" r="1.9" fill="#0000ff"/><circle cx="246.02" cy="210.1" r="1.9" fill="#ff0000"/><circle cx="69.22" cy="213.51" r="1.9" fill="#0000ff"/><circle cx="160.12" cy="212.66" r="1.9" fill="#0000ff"/><circle cx="108.88" cy="213.42" r="1.9" fill="#0000ff"/><circle cx="203.6" cy="182.5" r="1.9" fill="#ff0000"/><circle cx="202.8" cy="214.12" r="1.9" fill="#ff0000"/><circle cx="71.57" cy="198.56" r="1.9" fill="#0000ff"/><circle cx="111.1" cy="198.6" r="1.9" fill="#ff0000"/><circle cx="105.22" cy="208.98" r="1.9" fill="#0000ff"/><circle cx="197" cy="198.3" r="1.9" fill="#ff0000"/><circle cx="284.72" cy="209.14" r="1.9" fill="#0000ff"/><circle cx="179.97" cy="213.01" r="1.9" fill="#0000ff"/><circle cx="121.8" cy="211.84" r="1.9" fill="#0000ff"/><circle cx="50.12" cy="199.89" r="1.9" fill="#0000ff"/><circle cx="185.71" cy="209.37" r="1.9" fill="#0000ff"/><circle cx="151.56" cy="216.33" r="1.9" fill="#0000ff"/><circle cx="139.9" cy="216.37" r="1.9" fill="#0000ff"/><circle cx="240.88" cy="208.02" r="1.9" fill="#ff0000"/><circle cx="158.34" cy="213" r="1.9" fill="#0000ff"/><circle cx="244.76" cy="208.76" r="1.9" fill="#ff0000"/><circle cx="173.7" cy="187.6" r="1.9" fill="#ff0000"/><circle cx="167.6" cy="215.77" r="1.9" fill="#0000ff"/><circle cx="176.39" cy="210.6" r="1.9" fill="#0000ff"/><circle cx="196.73" cy="210.9" r="1.9" fill="#ff0000"/><circle cx="160.71" cy="206.48" r="1.9" fill="#0000ff"/><circle cx="192.7" cy="194.2" r="1.9" fill="#ff0000"/><circle cx="137.84" cy="214.85" r="1.9" fill="#0000ff"/><circle cx="129.71" cy="203.39" r="1.9" fill="#0000ff"/><circle cx="280.06" cy="212.04" r="1.9" fill="#0000ff"/><circle cx="90.53" cy="211.07" r="1.9" fill="#0000ff"/><circle cx="213.8" cy="205.6" r="1.9" fill="#ff0000"/><circle cx="272.69" cy="214.05" r="1.9" fill="#ff0000"/><circle cx="285.7" cy="207.8" r="1.9" fill="#0000ff"/><circle cx="183.9" cy="191.7" r="1.9" fill="#0000ff"/><circle cx="66.46" cy="207.51" r="1.9" fill="#0000ff"/><circle cx="117.82" cy="216.59" r="1.9" fill="#0000ff"/><circle cx="224.76" cy="215.01" r="1.9" fill="#0000ff"/><circle cx="159.99" cy="203.82" r="1.9" fill="#0000ff"/><circle cx="166.38" cy="216.26" r="1.9" fill="#0000ff"/><circle cx="121.83" cy="209.88" r="1.9" fill="#0000ff"/><circle cx="191.37" cy="215.09" r="1.9" fill="#0000ff"/><circle cx="99.56" cy="211.25" r="1.9" fill="#0000ff"/><circle cx="93.79" cy="214.5" r="1.9" fill="#ff0000"/><circle cx="270.33" cy="216.31" r="1.9" fill="#ff0000"/><circle cx="99.85" cy="216.59" r="1.9" fill="#0000ff"/><circle cx="102.28" cy="216.11" r="1.9" fill="#0000ff"/><circle cx="228.8" cy="205.74" r="1.9" fill="#ff0000"/><circle cx="128.95" cy="212.43" r="1.9" fill="#0000ff"/><circle cx="88.78" cy="202.4" r="1.9" fill="#0000ff"/><circle cx="47.78" cy="216.33" r="1.9" fill="#0000ff"/><circle cx="133.7" cy="200" r="1.9" fill="#ff0000"/><circle cx="176.3" cy="196.8" r="1.9" fill="#ff0000"/><circle cx="84.56" cy="212.94" r="1.9" fill="#0000ff"/><circle cx="121.85" cy="211.96" r="1.9" fill="#0000ff"/><circle cx="107.9" cy="202.7" r="1.9" fill="#ff0000"/><circle cx="126.6" cy="199.3" r="1.9" fill="#0000ff"/><circle cx="241.12" cy="211.38" r="1.9" fill="#ff0000"/><circle cx="205.18" cy="213.18" r="1.9" fill="#0000ff"/><circle cx="98.76" cy="216.55" r="1.9" fill="#0000ff"/><circle cx="134.46" cy="205.92" r="1.9" fill="#0000ff"/><circle cx="122.1" cy="169.4" r="1.9" fill="#0000ff"/><circle cx="172.37" cy="213.33" r="1.9" fill="#0000ff"/><circle cx="283.94" cy="209.27" r="1.9" fill="#ff0000"/><circle cx="128.53" cy="206.22" r="1.9" fill="#0000ff"/><circle cx="279.57" cy="205.08" r="1.9" fill="#ff0000"/><circle cx="84.57" cy="208.89" r="1.9" fill="#0000ff"/><circle cx="272.6" cy="208.69" r="1.9" fill="#ff0000"/><circle cx="67.35" cy="216.24" r="1.9" fill="#0000ff"/><circle cx="54.2" cy="175.7" r="1.9" fill="#0000ff"/><circle cx="235.06" cy="208.19" r="1.9" fill="#ff0000"/><circle cx="46.77" cy="214.54" r="1.9" fill="#0000ff"/><circle cx="208.3" cy="186.2" r="1.9" fill="#0000ff"/><circle cx="144.65" cy="215.72" r="1.9" fill="#0000ff"/><circle cx="73.24" cy="200.54" r="1.9" fill="#0000ff"/><circle cx="66.56" cy="214.37" r="1.9" fill="#0000ff"/><circle cx="207.3" cy="202.7" r="1.9" fill="#ff0000"/><circle cx="178.06" cy="211.57" r="1.9" fill="#0000ff"/><circle cx="218.66" cy="209.25" r="1.9" fill="#0000ff"/><circle cx="166" cy="202.2" r="1.9" fill="#ff0000"/><circle cx="252.04" cy="214.11" r="1.9" fill="#0000ff"/><circle cx="144.9" cy="190.1" r="1.9" fill="#0000ff"/></g>
<g fill="#000"><rect x="164.85" y="122.25" width="1.3" height="1.3"/><rect x="164.85" y="127.95" width="1.3" height="1.3"/><rect x="164.85" y="133.65" width="1.3" height="1.3"/><rect x="164.85" y="139.35" width="1.3" height="1.3"/><rect x="164.85" y="145.05" width="1.3" height="1.3"/><rect x="164.85" y="150.75" width="1.3" height="1.3"/><rect x="164.85" y="156.45" width="1.3" height="1.3"/><rect x="164.85" y="162.15" width="1.3" height="1.3"/><rect x="164.85" y="167.85" width="1.3" height="1.3"/><rect x="164.85" y="173.55" width="1.3" height="1.3"/><rect x="164.85" y="179.25" width="1.3" height="1.3"/><rect x="164.85" y="184.95" width="1.3" height="1.3"/><rect x="164.85" y="190.65" width="1.3" height="1.3"/><rect x="164.85" y="196.35" width="1.3" height="1.3"/><rect x="164.85" y="202.05" width="1.3" height="1.3"/><rect x="164.85" y="207.75" width="1.3" height="1.3"/><rect x="164.85" y="213.45" width="1.3" height="1.3"/><rect x="164.85" y="219.15" width="1.3" height="1.3"/></g>
<rect x="45.3" y="228.9" width="241.0" height="9.7" fill="#ff0000"/>
<rect x="45.3" y="228.9" width="120.7" height="9.7" fill="#0000ff"/>
<text x="298.7" y="51.2" font-size="8.7" font-family="Liberation Sans, sans-serif" fill="#000" text-anchor="start"  stroke="#000" stroke-width="0.18">Risk Group</text>
<circle cx="304.1" cy="62.5" r="1.8" fill="#ff0000"/>
<text x="313.8" y="65.3" font-size="7.8" font-family="Liberation Sans, sans-serif" fill="#000" text-anchor="start"  stroke="#000" stroke-width="0.18">High</text>
<circle cx="304.1" cy="74.2" r="1.8" fill="#0000ff"/>
<text x="313.8" y="77" font-size="7.8" font-family="Liberation Sans, sans-serif" fill="#000" text-anchor="start"  stroke="#000" stroke-width="0.18">Low</text>
<text x="298.7" y="160.8" font-size="8.7" font-family="Liberation Sans, sans-serif" fill="#000" text-anchor="start"  stroke="#000" stroke-width="0.18">Status</text>
<circle cx="304.1" cy="171" r="1.8" fill="#0000ff"/>
<text x="313.8" y="173.8" font-size="7.8" font-family="Liberation Sans, sans-serif" fill="#000" text-anchor="start"  stroke="#000" stroke-width="0.18">Alive</text>
<circle cx="304.1" cy="182.5" r="1.8" fill="#ff0000"/>
<text x="313.8" y="185.3" font-size="7.8" font-family="Liberation Sans, sans-serif" fill="#000" text-anchor="start"  stroke="#000" stroke-width="0.18">Dead</text>
<text x="298.8" y="223.8" font-size="8.7" font-family="Liberation Sans, sans-serif" fill="#000" text-anchor="start"  stroke="#000" stroke-width="0.18">Risk Group</text>
<rect x="298.8" y="228.4" width="11.2" height="11.35" fill="#ff0000"/>
<rect x="298.8" y="239.75" width="11.2" height="11.35" fill="#0000ff"/>
<text x="313.9" y="236.88" font-size="7.8" font-family="Liberation Sans, sans-serif" fill="#000" text-anchor="start"  stroke="#000" stroke-width="0.18">High</text>
<text x="313.9" y="248.23" font-size="7.8" font-family="Liberation Sans, sans-serif" fill="#000" text-anchor="start"  stroke="#000" stroke-width="0.18">Low</text>
<text transform="translate(1.9,275.2) scale(1.19,1)" font-size="18.5" font-family="Liberation Serif, serif" fill="#000">C</text>
<text x="169.8" y="281.3" font-size="13.4" font-family="Liberation Serif, serif" fill="#000" text-anchor="middle" >CGGA Datasets</text>
<rect x="34.9" y="286.2" width="1.2" height="98.7" fill="#444"/>
<rect x="32.7" y="289.2" width="2.5" height="1" fill="#444"/>
<text x="32.1" y="292.29" font-size="7.2" font-family="Liberation Sans, sans-serif" fill="#4d4d4d" text-anchor="end"  stroke="#4d4d4d" stroke-width="0.18">2.5</text>
<rect x="32.7" y="305.7" width="2.5" height="1" fill="#444"/>
<text x="32.1" y="308.79" font-size="7.2" font-family="Liberation Sans, sans-serif" fill="#4d4d4d" text-anchor="end"  stroke="#4d4d4d" stroke-width="0.18">2.0</text>
<rect x="32.7" y="322" width="2.5" height="1" fill="#444"/>
<text x="32.1" y="325.09" font-size="7.2" font-family="Liberation Sans, sans-serif" fill="#4d4d4d" text-anchor="end"  stroke="#4d4d4d" stroke-width="0.18">1.5</text>
<rect x="32.7" y="338.2" width="2.5" height="1" fill="#444"/>
<text x="32.1" y="341.29" font-size="7.2" font-family="Liberation Sans, sans-serif" fill="#4d4d4d" text-anchor="end"  stroke="#4d4d4d" stroke-width="0.18">1.0</text>
<rect x="32.7" y="354.8" width="2.5" height="1" fill="#444"/>
<text x="32.1" y="357.89" font-size="7.2" font-family="Liberation Sans, sans-serif" fill="#4d4d4d" text-anchor="end"  stroke="#4d4d4d" stroke-width="0.18">0.5</text>
<rect x="32.7" y="371" width="2.5" height="1" fill="#444"/>
<text x="32.1" y="374.09" font-size="7.2" font-family="Liberation Sans, sans-serif" fill="#4d4d4d" text-anchor="end"  stroke="#4d4d4d" stroke-width="0.18">0.0</text>
<text transform="translate(19.3,335.4) rotate(-90)" font-size="9.3" font-family="Liberation Sans, sans-serif" fill="#000" stroke="#000" stroke-width="0.18" text-anchor="middle">Risk Score</text>
<g fill="#000"><rect x="165.35" y="287.25" width="1.3" height="1.3"/><rect x="165.35" y="292.95" width="1.3" height="1.3"/><rect x="165.35" y="298.65" width="1.3" height="1.3"/><rect x="165.35" y="304.35" width="1.3" height="1.3"/><rect x="165.35" y="310.05" width="1.3" height="1.3"/><rect x="165.35" y="315.75" width="1.3" height="1.3"/><rect x="165.35" y="321.45" width="1.3" height="1.3"/><rect x="165.35" y="327.15" width="1.3" height="1.3"/><rect x="165.35" y="332.85" width="1.3" height="1.3"/><rect x="165.35" y="338.55" width="1.3" height="1.3"/><rect x="165.35" y="344.25" width="1.3" height="1.3"/><rect x="165.35" y="349.95" width="1.3" height="1.3"/><rect x="165.35" y="355.65" width="1.3" height="1.3"/><rect x="165.35" y="361.35" width="1.3" height="1.3"/><rect x="165.35" y="367.05" width="1.3" height="1.3"/><rect x="165.35" y="372.75" width="1.3" height="1.3"/><rect x="165.35" y="378.45" width="1.3" height="1.3"/><rect x="165.35" y="384.15" width="1.3" height="1.3"/></g>
<polyline points="38.2,380.3 43.6,380.3 44.6,377.6 95,377.6 96,374.3 164.8,374.3" fill="none" stroke="#0000ff" stroke-width="3.7" stroke-linejoin="round" stroke-linecap="round"/>
<polyline points="166.6,371 214.6,371 215.6,368 251.2,368 252.2,364.8 270.3,364.8 271.3,361.3 278.7,361.3 279.7,358 287,358 288.6,354.6" fill="none" stroke="#ff0000" stroke-width="3.7" stroke-linejoin="round" stroke-linecap="round"/>
<g fill="#ff0000"><circle cx="288.6" cy="354.6" r="1.95"/><circle cx="289.4" cy="353" r="1.95"/><circle cx="290.1" cy="351.4" r="1.95"/><circle cx="290.9" cy="349.9" r="1.95"/><circle cx="291.6" cy="348.5" r="1.95"/><circle cx="292.2" cy="346.9" r="1.95"/><circle cx="292.8" cy="345.3" r="1.95"/></g>
<g fill="#ff0000"><circle cx="293.5" cy="290" r="1.7"/></g>
<text x="168.5" y="376.2" font-size="9.2" font-family="Liberation Sans, sans-serif" fill="#000" text-anchor="middle"  stroke="#000" stroke-width="0.18">cutoff: &#8722;0.04</text>
<rect x="34.7" y="393" width="1.2" height="100.9" fill="#444"/>
<rect x="32.5" y="394.8" width="2.5" height="1" fill="#444"/>
<text x="31.9" y="397.89" font-size="7.2" font-family="Liberation Sans, sans-serif" fill="#4d4d4d" text-anchor="end"  stroke="#4d4d4d" stroke-width="0.18">5000</text>
<rect x="32.5" y="413.9" width="2.5" height="1" fill="#444"/>
<text x="31.9" y="416.99" font-size="7.2" font-family="Liberation Sans, sans-serif" fill="#4d4d4d" text-anchor="end"  stroke="#4d4d4d" stroke-width="0.18">4000</text>
<rect x="32.5" y="432.5" width="2.5" height="1" fill="#444"/>
<text x="31.9" y="435.59" font-size="7.2" font-family="Liberation Sans, sans-serif" fill="#4d4d4d" text-anchor="end"  stroke="#4d4d4d" stroke-width="0.18">3000</text>
<rect x="32.5" y="451.2" width="2.5" height="1" fill="#444"/>
<text x="31.9" y="454.29" font-size="7.2" font-family="Liberation Sans, sans-serif" fill="#4d4d4d" text-anchor="end"  stroke="#4d4d4d" stroke-width="0.18">2000</text>
<rect x="32.5" y="470.1" width="2.5" height="1" fill="#444"/>
<text x="31.9" y="473.19" font-size="7.2" font-family="Liberation Sans, sans-serif" fill="#4d4d4d" text-anchor="end"  stroke="#4d4d4d" stroke-width="0.18">1000</text>
<rect x="32.5" y="488.9" width="2.5" height="1" fill="#444"/>
<text x="31.9" y="491.99" font-size="7.2" font-family="Liberation Sans, sans-serif" fill="#4d4d4d" text-anchor="end"  stroke="#4d4d4d" stroke-width="0.18">0</text>
<text transform="translate(11.2,443.9) rotate(-90)" font-size="9.3" font-family="Liberation Sans, sans-serif" fill="#000" stroke="#000" stroke-width="0.18" text-anchor="middle">Survival Time</text>
<g><circle cx="216.36" cy="480.17" r="1.9" fill="#ff0000"/><circle cx="71.1" cy="444.4" r="1.9" fill="#ff0000"/><circle cx="252.01" cy="487.04" r="1.9" fill="#ff0000"/><circle cx="156.5" cy="473.5" r="1.9" fill="#ff0000"/><circle cx="212.58" cy="481.24" r="1.9" fill="#ff0000"/><circle cx="180.44" cy="488.01" r="1.9" fill="#ff0000"/><circle cx="228.4" cy="478.53" r="1.9" fill="#ff0000"/><circle cx="51.2" cy="475" r="1.9" fill="#ff0000"/><circle cx="261.19" cy="487.25" r="1.9" fill="#ff0000"/><circle cx="293.19" cy="488.27" r="1.9" fill="#ff0000"/><circle cx="207.75" cy="481.23" r="1.9" fill="#ff0000"/><circle cx="189.24" cy="488.41" r="1.9" fill="#ff0000"/><circle cx="83.1" cy="463.2" r="1.9" fill="#ff0000"/><circle cx="202.51" cy="482.45" r="1.9" fill="#ff0000"/><circle cx="147.6" cy="485" r="1.9" fill="#ff0000"/><circle cx="217.71" cy="480.69" r="1.9" fill="#ff0000"/><circle cx="152.3" cy="482.4" r="1.9" fill="#ff0000"/><circle cx="275.59" cy="481.04" r="1.9" fill="#ff0000"/><circle cx="111.5" cy="454.6" r="1.9" fill="#ff0000"/><circle cx="266.97" cy="484.15" r="1.9" fill="#ff0000"/><circle cx="224.67" cy="483.65" r="1.9" fill="#ff0000"/><circle cx="181.5" cy="480.3" r="1.9" fill="#ff0000"/><circle cx="138.5" cy="486" r="1.9" fill="#ff0000"/><circle cx="108.4" cy="447.8" r="1.9" fill="#ff0000"/><circle cx="168.5" cy="485" r="1.9" fill="#ff0000"/><circle cx="258" cy="476.8" r="1.9" fill="#ff0000"/><circle cx="55.1" cy="449.6" r="1.9" fill="#ff0000"/><circle cx="182.9" cy="485.42" r="1.9" fill="#ff0000"/><circle cx="75.8" cy="471.4" r="1.9" fill="#ff0000"/><circle cx="263.5" cy="474" r="1.9" fill="#ff0000"/><circle cx="245.27" cy="479.75" r="1.9" fill="#ff0000"/><circle cx="118" cy="480.3" r="1.9" fill="#ff0000"/><circle cx="172.5" cy="454.9" r="1.9" fill="#ff0000"/><circle cx="242.36" cy="483" r="1.9" fill="#ff0000"/><circle cx="223.1" cy="477.9" r="1.9" fill="#ff0000"/><circle cx="63.3" cy="469.3" r="1.9" fill="#ff0000"/><circle cx="228.5" cy="485" r="1.9" fill="#ff0000"/><circle cx="289.9" cy="474" r="1.9" fill="#ff0000"/><circle cx="120.9" cy="457" r="1.9" fill="#ff0000"/><circle cx="144.5" cy="445.4" r="1.9" fill="#ff0000"/><circle cx="271.3" cy="473.5" r="1.9" fill="#ff0000"/><circle cx="190.45" cy="489.45" r="1.9" fill="#ff0000"/><circle cx="259.07" cy="487.65" r="1.9" fill="#ff0000"/><circle cx="224.1" cy="468.3" r="1.9" fill="#ff0000"/><circle cx="255.14" cy="483.54" r="1.9" fill="#ff0000"/><circle cx="239.07" cy="484.93" r="1.9" fill="#ff0000"/><circle cx="82.3" cy="430" r="1.9" fill="#ff0000"/><circle cx="205.3" cy="476.6" r="1.9" fill="#ff0000"/><circle cx="70.1" cy="475" r="1.9" fill="#ff0000"/><circle cx="198" cy="477.9" r="1.9" fill="#ff0000"/><circle cx="206.37" cy="483.89" r="1.9" fill="#ff0000"/><circle cx="64.6" cy="484.8" r="1.9" fill="#ff0000"/><circle cx="243.28" cy="483.24" r="1.9" fill="#ff0000"/><circle cx="119.9" cy="440" r="1.9" fill="#ff0000"/><circle cx="202.19" cy="479.18" r="1.9" fill="#ff0000"/><circle cx="87.8" cy="448.2" r="1.9" fill="#ff0000"/><circle cx="137.9" cy="481" r="1.9" fill="#ff0000"/><circle cx="144.5" cy="444.6" r="1.9" fill="#ff0000"/><circle cx="269.49" cy="485.21" r="1.9" fill="#ff0000"/><circle cx="265.6" cy="460.1" r="1.9" fill="#ff0000"/><circle cx="250.42" cy="482.68" r="1.9" fill="#ff0000"/><circle cx="218.07" cy="479.97" r="1.9" fill="#ff0000"/><circle cx="253.5" cy="471.2" r="1.9" fill="#ff0000"/><circle cx="274.02" cy="480.4" r="1.9" fill="#ff0000"/><circle cx="164.9" cy="482.7" r="1.9" fill="#ff0000"/><circle cx="238.4" cy="469.1" r="1.9" fill="#ff0000"/><circle cx="287.36" cy="486.02" r="1.9" fill="#ff0000"/><circle cx="281.95" cy="486.03" r="1.9" fill="#ff0000"/><circle cx="115.2" cy="481.3" r="1.9" fill="#ff0000"/><circle cx="50.5" cy="447.3" r="1.9" fill="#ff0000"/><circle cx="213.31" cy="482.52" r="1.9" fill="#ff0000"/><circle cx="171.67" cy="485.76" r="1.9" fill="#ff0000"/><circle cx="161.7" cy="486.6" r="1.9" fill="#ff0000"/><circle cx="229.01" cy="488.26" r="1.9" fill="#ff0000"/><circle cx="124.6" cy="478.7" r="1.9" fill="#ff0000"/><circle cx="117.3" cy="468.5" r="1.9" fill="#ff0000"/><circle cx="290.24" cy="488.12" r="1.9" fill="#ff0000"/><circle cx="136.6" cy="463.5" r="1.9" fill="#ff0000"/><circle cx="203.33" cy="481.48" r="1.9" fill="#ff0000"/><circle cx="65.3" cy="468" r="1.9" fill="#ff0000"/><circle cx="163.8" cy="486" r="1.9" fill="#ff0000"/><circle cx="272.11" cy="481.08" r="1.9" fill="#ff0000"/><circle cx="40" cy="478" r="1.9" fill="#ff0000"/><circle cx="260.73" cy="486.13" r="1.9" fill="#ff0000"/><circle cx="208.1" cy="489.39" r="1.9" fill="#ff0000"/><circle cx="241.36" cy="479.15" r="1.9" fill="#ff0000"/><circle cx="180.76" cy="478.64" r="1.9" fill="#ff0000"/><circle cx="190.3" cy="485.64" r="1.9" fill="#ff0000"/><circle cx="79.5" cy="423.3" r="1.9" fill="#ff0000"/><circle cx="216.33" cy="485.5" r="1.9" fill="#ff0000"/><circle cx="174.32" cy="483.49" r="1.9" fill="#ff0000"/><circle cx="87" cy="424.2" r="1.9" fill="#ff0000"/><circle cx="282.52" cy="489.34" r="1.9" fill="#ff0000"/><circle cx="245.46" cy="481.1" r="1.9" fill="#ff0000"/><circle cx="277.5" cy="481.7" r="1.9" fill="#ff0000"/><circle cx="254.32" cy="484.95" r="1.9" fill="#ff0000"/><circle cx="99.4" cy="481.6" r="1.9" fill="#ff0000"/><circle cx="268.66" cy="480.29" r="1.9" fill="#ff0000"/><circle cx="201.72" cy="482.08" r="1.9" fill="#ff0000"/><circle cx="183.09" cy="478.61" r="1.9" fill="#ff0000"/><circle cx="213.46" cy="488.49" r="1.9" fill="#ff0000"/><circle cx="223.29" cy="480.35" r="1.9" fill="#ff0000"/><circle cx="231.12" cy="483.3" r="1.9" fill="#ff0000"/><circle cx="113.1" cy="444.2" r="1.9" fill="#ff0000"/><circle cx="236.76" cy="479.55" r="1.9" fill="#ff0000"/><circle cx="198.7" cy="475.6" r="1.9" fill="#ff0000"/><circle cx="78.4" cy="441.3" r="1.9" fill="#ff0000"/><circle cx="182.08" cy="488.77" r="1.9" fill="#ff0000"/><circle cx="150.7" cy="477.1" r="1.9" fill="#ff0000"/><circle cx="188.5" cy="463.9" r="1.9" fill="#ff0000"/><circle cx="260.57" cy="478.62" r="1.9" fill="#ff0000"/><circle cx="285.54" cy="478.62" r="1.9" fill="#ff0000"/><circle cx="285.56" cy="486.81" r="1.9" fill="#ff0000"/><circle cx="256.57" cy="486.82" r="1.9" fill="#ff0000"/><circle cx="173.19" cy="481.68" r="1.9" fill="#ff0000"/><circle cx="292.66" cy="487.96" r="1.9" fill="#ff0000"/><circle cx="253.39" cy="487.63" r="1.9" fill="#ff0000"/><circle cx="181.91" cy="487.58" r="1.9" fill="#ff0000"/><circle cx="193" cy="479.83" r="1.9" fill="#ff0000"/><circle cx="285.31" cy="487.91" r="1.9" fill="#ff0000"/><circle cx="235.4" cy="466.7" r="1.9" fill="#ff0000"/><circle cx="157.3" cy="443.2" r="1.9" fill="#ff0000"/><circle cx="91" cy="485" r="1.9" fill="#ff0000"/><circle cx="182.04" cy="489.13" r="1.9" fill="#ff0000"/><circle cx="174.4" cy="448.9" r="1.9" fill="#ff0000"/><circle cx="176.96" cy="487.57" r="1.9" fill="#ff0000"/><circle cx="167.1" cy="469.8" r="1.9" fill="#ff0000"/><circle cx="41.1" cy="486" r="1.9" fill="#ff0000"/><circle cx="211.96" cy="486.5" r="1.9" fill="#ff0000"/><circle cx="167" cy="469.8" r="1.9" fill="#ff0000"/><circle cx="123.9" cy="465.6" r="1.9" fill="#ff0000"/><circle cx="38.1" cy="471.2" r="1.9" fill="#ff0000"/><circle cx="73.2" cy="444.6" r="1.9" fill="#ff0000"/><circle cx="250.43" cy="480.6" r="1.9" fill="#ff0000"/><circle cx="226.9" cy="475.4" r="1.9" fill="#ff0000"/><circle cx="235.22" cy="479.03" r="1.9" fill="#ff0000"/><circle cx="132.2" cy="464.6" r="1.9" fill="#ff0000"/><circle cx="276.92" cy="487.42" r="1.9" fill="#ff0000"/><circle cx="219.4" cy="467" r="1.9" fill="#ff0000"/><circle cx="247.61" cy="485.4" r="1.9" fill="#ff0000"/><circle cx="268.3" cy="483.92" r="1.9" fill="#ff0000"/><circle cx="215.85" cy="487.05" r="1.9" fill="#ff0000"/><circle cx="208.92" cy="489.31" r="1.9" fill="#ff0000"/><circle cx="176.34" cy="483.44" r="1.9" fill="#ff0000"/><circle cx="292.21" cy="488.48" r="1.9" fill="#ff0000"/><circle cx="273.71" cy="482.39" r="1.9" fill="#ff0000"/><circle cx="154.4" cy="479.6" r="1.9" fill="#ff0000"/><circle cx="226.52" cy="478.58" r="1.9" fill="#ff0000"/><circle cx="276.84" cy="480.34" r="1.9" fill="#ff0000"/><circle cx="287.7" cy="485.13" r="1.9" fill="#ff0000"/><circle cx="269.2" cy="472.4" r="1.9" fill="#ff0000"/><circle cx="203.03" cy="485.25" r="1.9" fill="#ff0000"/><circle cx="218.23" cy="486.03" r="1.9" fill="#ff0000"/><circle cx="110.5" cy="446.5" r="1.9" fill="#ff0000"/><circle cx="168.2" cy="484.02" r="1.9" fill="#ff0000"/><circle cx="246.41" cy="486.56" r="1.9" fill="#ff0000"/><circle cx="175.3" cy="465.6" r="1.9" fill="#ff0000"/><circle cx="39.2" cy="425.3" r="1.9" fill="#ff0000"/><circle cx="240.26" cy="487.08" r="1.9" fill="#ff0000"/><circle cx="286.09" cy="480.39" r="1.9" fill="#ff0000"/><circle cx="45.5" cy="442.3" r="1.9" fill="#ff0000"/><circle cx="155.5" cy="485.2" r="1.9" fill="#ff0000"/><circle cx="268.62" cy="487.97" r="1.9" fill="#ff0000"/><circle cx="195.9" cy="484.25" r="1.9" fill="#ff0000"/><circle cx="74.8" cy="428.7" r="1.9" fill="#ff0000"/><circle cx="280.37" cy="486.17" r="1.9" fill="#ff0000"/><circle cx="197.71" cy="480.72" r="1.9" fill="#ff0000"/><circle cx="161.7" cy="471.4" r="1.9" fill="#ff0000"/><circle cx="146" cy="480" r="1.9" fill="#ff0000"/><circle cx="150.2" cy="484.5" r="1.9" fill="#ff0000"/><circle cx="232.43" cy="489.24" r="1.9" fill="#ff0000"/><circle cx="293.2" cy="488.88" r="1.9" fill="#ff0000"/><circle cx="261.39" cy="483.54" r="1.9" fill="#ff0000"/><circle cx="169.7" cy="476.6" r="1.9" fill="#ff0000"/><circle cx="270.3" cy="476.6" r="1.9" fill="#ff0000"/><circle cx="192.68" cy="479.97" r="1.9" fill="#ff0000"/><circle cx="288.83" cy="489.48" r="1.9" fill="#ff0000"/><circle cx="229.37" cy="487" r="1.9" fill="#ff0000"/><circle cx="194.89" cy="485.07" r="1.9" fill="#ff0000"/><circle cx="251.51" cy="484.95" r="1.9" fill="#ff0000"/><circle cx="264.3" cy="476.4" r="1.9" fill="#ff0000"/><circle cx="285.2" cy="428.4" r="1.9" fill="#ff0000"/><circle cx="235.91" cy="484.24" r="1.9" fill="#ff0000"/><circle cx="256.78" cy="482.68" r="1.9" fill="#ff0000"/><circle cx="250.4" cy="468.3" r="1.9" fill="#ff0000"/><circle cx="221.62" cy="478.91" r="1.9" fill="#ff0000"/><circle cx="254.61" cy="484.57" r="1.9" fill="#ff0000"/><circle cx="88.9" cy="485.8" r="1.9" fill="#ff0000"/><circle cx="94.6" cy="472.2" r="1.9" fill="#ff0000"/><circle cx="275.76" cy="482.62" r="1.9" fill="#ff0000"/><circle cx="178.96" cy="485.88" r="1.9" fill="#ff0000"/><circle cx="238.87" cy="488.01" r="1.9" fill="#ff0000"/><circle cx="234.6" cy="467" r="1.9" fill="#ff0000"/><circle cx="173.51" cy="488.89" r="1.9" fill="#ff0000"/><circle cx="247.2" cy="485.2" r="1.9" fill="#ff0000"/><circle cx="293.6" cy="478.9" r="1.9" fill="#ff0000"/><circle cx="60.6" cy="468.3" r="1.9" fill="#ff0000"/><circle cx="195.9" cy="470.3" r="1.9" fill="#ff0000"/><circle cx="276.8" cy="478.56" r="1.9" fill="#ff0000"/><circle cx="213.46" cy="486.72" r="1.9" fill="#ff0000"/><circle cx="185.7" cy="431.9" r="1.9" fill="#ff0000"/><circle cx="170.4" cy="487.73" r="1.9" fill="#ff0000"/><circle cx="214" cy="459.9" r="1.9" fill="#ff0000"/><circle cx="130.1" cy="478.2" r="1.9" fill="#ff0000"/><circle cx="267.62" cy="481.44" r="1.9" fill="#ff0000"/><circle cx="59.6" cy="484.2" r="1.9" fill="#ff0000"/><circle cx="103.1" cy="469.8" r="1.9" fill="#ff0000"/><circle cx="211.49" cy="484.82" r="1.9" fill="#ff0000"/><circle cx="262.6" cy="471.2" r="1.9" fill="#ff0000"/><circle cx="281.3" cy="468.3" r="1.9" fill="#ff0000"/><circle cx="139.8" cy="479.6" r="1.9" fill="#ff0000"/><circle cx="248.77" cy="487.24" r="1.9" fill="#ff0000"/><circle cx="183.8" cy="476.6" r="1.9" fill="#ff0000"/><circle cx="272.54" cy="480.71" r="1.9" fill="#ff0000"/><circle cx="246.67" cy="484.64" r="1.9" fill="#ff0000"/><circle cx="198.84" cy="480.64" r="1.9" fill="#ff0000"/><circle cx="127.4" cy="467" r="1.9" fill="#ff0000"/><circle cx="69" cy="455.5" r="1.9" fill="#ff0000"/><circle cx="168.33" cy="487.27" r="1.9" fill="#ff0000"/><circle cx="145" cy="484" r="1.9" fill="#ff0000"/><circle cx="256.67" cy="487.63" r="1.9" fill="#ff0000"/><circle cx="92.8" cy="484.8" r="1.9" fill="#ff0000"/><circle cx="140.6" cy="441.1" r="1.9" fill="#ff0000"/><circle cx="233.96" cy="480.61" r="1.9" fill="#ff0000"/><circle cx="122.8" cy="458.3" r="1.9" fill="#ff0000"/><circle cx="291.58" cy="485.28" r="1.9" fill="#ff0000"/><circle cx="214.43" cy="486.17" r="1.9" fill="#ff0000"/><circle cx="49.4" cy="420.3" r="1.9" fill="#ff0000"/><circle cx="268.19" cy="487.92" r="1.9" fill="#ff0000"/><circle cx="103" cy="469.8" r="1.9" fill="#ff0000"/><circle cx="67.4" cy="399.2" r="1.9" fill="#0000ff"/><circle cx="42.8" cy="404.1" r="1.9" fill="#0000ff"/><circle cx="44.2" cy="407.3" r="1.9" fill="#0000ff"/><circle cx="46.7" cy="409.9" r="1.9" fill="#0000ff"/><circle cx="54.1" cy="414.9" r="1.9" fill="#0000ff"/><circle cx="57" cy="417.7" r="1.9" fill="#0000ff"/><circle cx="59.1" cy="420.9" r="1.9" fill="#0000ff"/><circle cx="44.7" cy="420.3" r="1.9" fill="#0000ff"/><circle cx="66.4" cy="410.4" r="1.9" fill="#0000ff"/><circle cx="68.3" cy="417.7" r="1.9" fill="#0000ff"/><circle cx="72.1" cy="414.1" r="1.9" fill="#0000ff"/><circle cx="73.9" cy="411.8" r="1.9" fill="#0000ff"/><circle cx="81.2" cy="404.6" r="1.9" fill="#0000ff"/><circle cx="80.5" cy="405.9" r="1.9" fill="#0000ff"/><circle cx="85.2" cy="410.1" r="1.9" fill="#0000ff"/><circle cx="89.9" cy="407.8" r="1.9" fill="#0000ff"/><circle cx="93.6" cy="409.4" r="1.9" fill="#0000ff"/><circle cx="95.5" cy="407.3" r="1.9" fill="#0000ff"/><circle cx="97.5" cy="406.2" r="1.9" fill="#0000ff"/><circle cx="102" cy="405.9" r="1.9" fill="#0000ff"/><circle cx="98.3" cy="414.6" r="1.9" fill="#0000ff"/><circle cx="96.5" cy="420.1" r="1.9" fill="#0000ff"/><circle cx="100.2" cy="421.4" r="1.9" fill="#0000ff"/><circle cx="84.2" cy="420.9" r="1.9" fill="#0000ff"/><circle cx="41.8" cy="431.5" r="1.9" fill="#0000ff"/><circle cx="55.9" cy="435" r="1.9" fill="#0000ff"/><circle cx="62.5" cy="433.4" r="1.9" fill="#0000ff"/><circle cx="77.7" cy="434.8" r="1.9" fill="#0000ff"/><circle cx="91.5" cy="431.5" r="1.9" fill="#0000ff"/><circle cx="47.6" cy="438.1" r="1.9" fill="#0000ff"/><circle cx="48.6" cy="444.2" r="1.9" fill="#0000ff"/><circle cx="104.1" cy="442.3" r="1.9" fill="#0000ff"/><circle cx="104.9" cy="425" r="1.9" fill="#0000ff"/><circle cx="109.4" cy="408.6" r="1.9" fill="#0000ff"/><circle cx="112.3" cy="407" r="1.9" fill="#0000ff"/><circle cx="114.1" cy="412.2" r="1.9" fill="#0000ff"/><circle cx="116.2" cy="411.5" r="1.9" fill="#0000ff"/><circle cx="134" cy="398.9" r="1.9" fill="#0000ff"/><circle cx="125.6" cy="410.1" r="1.9" fill="#0000ff"/><circle cx="126.7" cy="407" r="1.9" fill="#0000ff"/><circle cx="128.5" cy="406.2" r="1.9" fill="#0000ff"/><circle cx="131.2" cy="409.4" r="1.9" fill="#0000ff"/><circle cx="129.3" cy="412.2" r="1.9" fill="#0000ff"/><circle cx="135.8" cy="412.2" r="1.9" fill="#0000ff"/><circle cx="135.1" cy="415.6" r="1.9" fill="#0000ff"/><circle cx="141.5" cy="411.8" r="1.9" fill="#0000ff"/><circle cx="143.4" cy="420.3" r="1.9" fill="#0000ff"/><circle cx="133" cy="422.6" r="1.9" fill="#0000ff"/><circle cx="121.8" cy="423.2" r="1.9" fill="#0000ff"/><circle cx="105.8" cy="424.8" r="1.9" fill="#0000ff"/><circle cx="100.5" cy="421.4" r="1.9" fill="#0000ff"/><circle cx="160.2" cy="406.5" r="1.9" fill="#0000ff"/><circle cx="158.4" cy="417.7" r="1.9" fill="#0000ff"/><circle cx="151.8" cy="433.4" r="1.9" fill="#0000ff"/><circle cx="165.9" cy="438.8" r="1.9" fill="#0000ff"/><circle cx="118.8" cy="443.6" r="1.9" fill="#0000ff"/><circle cx="53.3" cy="473.5" r="1.9" fill="#0000ff"/><circle cx="52.3" cy="486.2" r="1.9" fill="#0000ff"/><circle cx="57.8" cy="486.2" r="1.9" fill="#0000ff"/><circle cx="76.6" cy="479.6" r="1.9" fill="#0000ff"/><circle cx="86.1" cy="465.1" r="1.9" fill="#0000ff"/><circle cx="100.9" cy="475.8" r="1.9" fill="#0000ff"/><circle cx="103.5" cy="477.7" r="1.9" fill="#0000ff"/><circle cx="106.5" cy="455.9" r="1.9" fill="#0000ff"/><circle cx="142.4" cy="463.2" r="1.9" fill="#0000ff"/><circle cx="149" cy="467.7" r="1.9" fill="#0000ff"/><circle cx="101" cy="475.6" r="1.9" fill="#0000ff"/><circle cx="104" cy="477.9" r="1.9" fill="#0000ff"/><circle cx="107.5" cy="486.2" r="1.9" fill="#0000ff"/><circle cx="153.6" cy="476.4" r="1.9" fill="#0000ff"/><circle cx="163" cy="471.4" r="1.9" fill="#0000ff"/><circle cx="159.1" cy="486.6" r="1.9" fill="#0000ff"/><circle cx="217.6" cy="408.6" r="1.9" fill="#0000ff"/><circle cx="194.1" cy="434.5" r="1.9" fill="#0000ff"/><circle cx="206.3" cy="436" r="1.9" fill="#0000ff"/><circle cx="239.2" cy="414.1" r="1.9" fill="#0000ff"/><circle cx="180" cy="478.9" r="1.9" fill="#0000ff"/><circle cx="196.7" cy="485.8" r="1.9" fill="#0000ff"/><circle cx="286.3" cy="466.4" r="1.9" fill="#0000ff"/><circle cx="249.4" cy="477.7" r="1.9" fill="#0000ff"/><circle cx="257" cy="480" r="1.9" fill="#0000ff"/><circle cx="266.4" cy="478.9" r="1.9" fill="#0000ff"/><circle cx="268.2" cy="483.4" r="1.9" fill="#0000ff"/><circle cx="279.2" cy="479.6" r="1.9" fill="#0000ff"/><circle cx="237.3" cy="485" r="1.9" fill="#0000ff"/></g>
<g fill="#000"><rect x="165.35" y="395.35" width="1.3" height="1.3"/><rect x="165.35" y="401.05" width="1.3" height="1.3"/><rect x="165.35" y="406.75" width="1.3" height="1.3"/><rect x="165.35" y="412.45" width="1.3" height="1.3"/><rect x="165.35" y="418.15" width="1.3" height="1.3"/><rect x="165.35" y="423.85" width="1.3" height="1.3"/><rect x="165.35" y="429.55" width="1.3" height="1.3"/><rect x="165.35" y="435.25" width="1.3" height="1.3"/><rect x="165.35" y="440.95" width="1.3" height="1.3"/><rect x="165.35" y="446.65" width="1.3" height="1.3"/><rect x="165.35" y="452.35" width="1.3" height="1.3"/><rect x="165.35" y="458.05" width="1.3" height="1.3"/><rect x="165.35" y="463.75" width="1.3" height="1.3"/><rect x="165.35" y="469.45" width="1.3" height="1.3"/><rect x="165.35" y="475.15" width="1.3" height="1.3"/><rect x="165.35" y="480.85" width="1.3" height="1.3"/><rect x="165.35" y="486.55" width="1.3" height="1.3"/><rect x="165.35" y="492.25" width="1.3" height="1.3"/></g>
<rect x="38.0" y="502.1" width="255.8" height="9.5" fill="#ff0000"/>
<rect x="38.0" y="502.1" width="128.1" height="9.5" fill="#0000ff"/>
<text x="307.8" y="324.9" font-size="8.7" font-family="Liberation Sans, sans-serif" fill="#000" text-anchor="start"  stroke="#000" stroke-width="0.18">Risk Group</text>
<circle cx="313.2" cy="336" r="1.8" fill="#ff0000"/>
<text x="322.9" y="338.8" font-size="7.8" font-family="Liberation Sans, sans-serif" fill="#000" text-anchor="start"  stroke="#000" stroke-width="0.18">High</text>
<circle cx="313.2" cy="347.4" r="1.8" fill="#0000ff"/>
<text x="322.9" y="350.2" font-size="7.8" font-family="Liberation Sans, sans-serif" fill="#000" text-anchor="start"  stroke="#000" stroke-width="0.18">Low</text>
<text x="307.8" y="433.5" font-size="8.7" font-family="Liberation Sans, sans-serif" fill="#000" text-anchor="start"  stroke="#000" stroke-width="0.18">Status</text>
<circle cx="313.2" cy="444.1" r="1.8" fill="#0000ff"/>
<text x="322.9" y="446.9" font-size="7.8" font-family="Liberation Sans, sans-serif" fill="#000" text-anchor="start"  stroke="#000" stroke-width="0.18">Alive</text>
<circle cx="313.2" cy="455.7" r="1.8" fill="#ff0000"/>
<text x="322.9" y="458.5" font-size="7.8" font-family="Liberation Sans, sans-serif" fill="#000" text-anchor="start"  stroke="#000" stroke-width="0.18">Dead</text>
<text x="307.8" y="496.5" font-size="8.7" font-family="Liberation Sans, sans-serif" fill="#000" text-anchor="start"  stroke="#000" stroke-width="0.18">Risk Group</text>
<rect x="307.8" y="501.6" width="11.2" height="11.35" fill="#ff0000"/>
<rect x="307.8" y="512.95" width="11.2" height="11.35" fill="#0000ff"/>
<text x="322.7" y="510.08" font-size="7.8" font-family="Liberation Sans, sans-serif" fill="#000" text-anchor="start"  stroke="#000" stroke-width="0.18">High</text>
<text x="322.7" y="521.42" font-size="7.8" font-family="Liberation Sans, sans-serif" fill="#000" text-anchor="start"  stroke="#000" stroke-width="0.18">Low</text>
<text transform="translate(354.7,19.5) scale(1.19,1)" font-size="18.5" font-family="Liberation Serif, serif" fill="#000">B</text>
<g shape-rendering="crispEdges" filter="url(#hblur)"><rect x="377" y="15.8" width="1.03" height="46.93" fill="#afafff"/><rect x="378" y="15.8" width="1.03" height="46.93" fill="#b7b7ff"/><rect x="379" y="15.8" width="1.03" height="46.93" fill="#bbbbff"/><rect x="380" y="15.8" width="1.03" height="46.93" fill="#bebeff"/><rect x="381" y="15.8" width="1.03" height="46.93" fill="#c1c1ff"/><rect x="382" y="15.8" width="1.03" height="46.93" fill="#c3c3ff"/><rect x="383" y="15.8" width="1.03" height="46.93" fill="#c5c5ff"/><rect x="383.99" y="15.8" width="1.03" height="46.93" fill="#c7c7ff"/><rect x="384.99" y="15.8" width="2.03" height="46.93" fill="#c9c9ff"/><rect x="386.99" y="15.8" width="11.02" height="46.93" fill="#cacaff"/><rect x="397.98" y="15.8" width="4.03" height="46.93" fill="#cbcbff"/><rect x="401.98" y="15.8" width="2.03" height="46.93" fill="#ccccff"/><rect x="403.98" y="15.8" width="2.03" height="46.93" fill="#cdcdff"/><rect x="405.98" y="15.8" width="2.03" height="46.93" fill="#ceceff"/><rect x="407.97" y="15.8" width="3.03" height="46.93" fill="#cfcfff"/><rect x="410.97" y="15.8" width="2.03" height="46.93" fill="#d0d0ff"/><rect x="412.97" y="15.8" width="2.03" height="46.93" fill="#d1d1ff"/><rect x="414.97" y="15.8" width="2.03" height="46.93" fill="#d2d2ff"/><rect x="416.97" y="15.8" width="3.03" height="46.93" fill="#d3d3ff"/><rect x="419.96" y="15.8" width="3.03" height="46.93" fill="#d4d4ff"/><rect x="422.96" y="15.8" width="4.03" height="46.93" fill="#d5d5ff"/><rect x="426.96" y="15.8" width="4.03" height="46.93" fill="#d6d6ff"/><rect x="430.96" y="15.8" width="4.03" height="46.93" fill="#d7d7ff"/><rect x="434.95" y="15.8" width="4.03" height="46.93" fill="#d8d8ff"/><rect x="438.95" y="15.8" width="4.03" height="46.93" fill="#d9d9ff"/><rect x="442.95" y="15.8" width="4.03" height="46.93" fill="#dadaff"/><rect x="446.94" y="15.8" width="4.03" height="46.93" fill="#dbdbff"/><rect x="450.94" y="15.8" width="4.03" height="46.93" fill="#dcdcff"/><rect x="454.94" y="15.8" width="4.03" height="46.93" fill="#ddddff"/><rect x="458.93" y="15.8" width="3.03" height="46.93" fill="#dedeff"/><rect x="461.93" y="15.8" width="3.03" height="46.93" fill="#dfdfff"/><rect x="464.93" y="15.8" width="3.03" height="46.93" fill="#e0e0ff"/><rect x="467.92" y="15.8" width="3.03" height="46.93" fill="#e1e1ff"/><rect x="470.92" y="15.8" width="3.03" height="46.93" fill="#e2e2ff"/><rect x="473.92" y="15.8" width="3.03" height="46.93" fill="#e3e3ff"/><rect x="476.92" y="15.8" width="3.03" height="46.93" fill="#e4e4ff"/><rect x="479.91" y="15.8" width="3.03" height="46.93" fill="#e5e5ff"/><rect x="482.91" y="15.8" width="3.03" height="46.93" fill="#e6e6ff"/><rect x="485.91" y="15.8" width="2.03" height="46.93" fill="#e7e7ff"/><rect x="487.91" y="15.8" width="3.03" height="46.93" fill="#e8e8ff"/><rect x="490.91" y="15.8" width="3.03" height="46.93" fill="#e9e9ff"/><rect x="493.9" y="15.8" width="3.03" height="46.93" fill="#eaeaff"/><rect x="496.9" y="15.8" width="2.03" height="46.93" fill="#ebebff"/><rect x="498.9" y="15.8" width="3.03" height="46.93" fill="#ececff"/><rect x="501.9" y="15.8" width="2.03" height="46.93" fill="#ededff"/><rect x="503.89" y="15.8" width="3.03" height="46.93" fill="#eeeeff"/><rect x="506.89" y="15.8" width="3.03" height="46.93" fill="#efefff"/><rect x="509.89" y="15.8" width="2.03" height="46.93" fill="#f0f0ff"/><rect x="511.89" y="15.8" width="2.03" height="46.93" fill="#f1f1ff"/><rect x="513.89" y="15.8" width="2.03" height="46.93" fill="#f2f2ff"/><rect x="515.88" y="15.8" width="2.03" height="46.93" fill="#f3f3ff"/><rect x="517.88" y="15.8" width="3.03" height="46.93" fill="#f4f4ff"/><rect x="520.88" y="15.8" width="2.03" height="46.93" fill="#f5f5ff"/><rect x="522.88" y="15.8" width="2.03" height="46.93" fill="#f6f6ff"/><rect x="524.88" y="15.8" width="2.03" height="46.93" fill="#f7f7ff"/><rect x="526.88" y="15.8" width="1.03" height="46.93" fill="#f8f8ff"/><rect x="527.87" y="15.8" width="2.03" height="46.93" fill="#f9f9ff"/><rect x="529.87" y="15.8" width="2.03" height="46.93" fill="#fafaff"/><rect x="531.87" y="15.8" width="1.03" height="46.93" fill="#fbfbff"/><rect x="532.87" y="15.8" width="2.03" height="46.93" fill="#fcfcff"/><rect x="534.87" y="15.8" width="1.03" height="46.93" fill="#fdfdff"/><rect x="535.87" y="15.8" width="1.03" height="46.93" fill="#fefeff"/><rect x="536.87" y="15.8" width="1.03" height="46.93" fill="#ffffff"/><rect x="537.87" y="15.8" width="1.03" height="46.93" fill="#fffefe"/><rect x="538.87" y="15.8" width="1.03" height="46.93" fill="#fffbfb"/><rect x="539.86" y="15.8" width="1.03" height="46.93" fill="#fff8f8"/><rect x="540.86" y="15.8" width="1.03" height="46.93" fill="#fff5f5"/><rect x="541.86" y="15.8" width="1.03" height="46.93" fill="#fff2f2"/><rect x="542.86" y="15.8" width="1.03" height="46.93" fill="#ffeeee"/><rect x="543.86" y="15.8" width="1.03" height="46.93" fill="#ffeaea"/><rect x="544.86" y="15.8" width="1.03" height="46.93" fill="#ffe6e6"/><rect x="545.86" y="15.8" width="1.03" height="46.93" fill="#ffe2e2"/><rect x="546.86" y="15.8" width="1.03" height="46.93" fill="#ffdede"/><rect x="547.86" y="15.8" width="1.03" height="46.93" fill="#ffdbdb"/><rect x="548.86" y="15.8" width="1.03" height="46.93" fill="#ffd9d9"/><rect x="549.86" y="15.8" width="1.03" height="46.93" fill="#ffd6d6"/><rect x="550.86" y="15.8" width="1.03" height="46.93" fill="#ffd4d4"/><rect x="551.85" y="15.8" width="1.03" height="46.93" fill="#ffd2d2"/><rect x="552.85" y="15.8" width="1.03" height="46.93" fill="#ffd1d1"/><rect x="553.85" y="15.8" width="2.03" height="46.93" fill="#ffd0d0"/><rect x="555.85" y="15.8" width="2.03" height="46.93" fill="#ffcfcf"/><rect x="557.85" y="15.8" width="2.03" height="46.93" fill="#ffcece"/><rect x="559.85" y="15.8" width="1.03" height="46.93" fill="#ffcdcd"/><rect x="560.85" y="15.8" width="1.03" height="46.93" fill="#ffcccc"/><rect x="561.85" y="15.8" width="1.03" height="46.93" fill="#ffcbcb"/><rect x="562.85" y="15.8" width="1.03" height="46.93" fill="#ffcaca"/><rect x="563.84" y="15.8" width="1.03" height="46.93" fill="#ffc8c8"/><rect x="564.84" y="15.8" width="1.03" height="46.93" fill="#ffc7c7"/><rect x="565.84" y="15.8" width="1.03" height="46.93" fill="#ffc6c6"/><rect x="566.84" y="15.8" width="2.03" height="46.93" fill="#ffc5c5"/><rect x="568.84" y="15.8" width="1.03" height="46.93" fill="#ffc4c4"/><rect x="569.84" y="15.8" width="2.03" height="46.93" fill="#ffc3c3"/><rect x="571.84" y="15.8" width="1.03" height="46.93" fill="#ffc2c2"/><rect x="572.84" y="15.8" width="2.03" height="46.93" fill="#ffc1c1"/><rect x="574.84" y="15.8" width="1.03" height="46.93" fill="#ffc0c0"/><rect x="575.83" y="15.8" width="2.03" height="46.93" fill="#ffbfbf"/><rect x="577.83" y="15.8" width="1.03" height="46.93" fill="#ffbebe"/><rect x="578.83" y="15.8" width="1.03" height="46.93" fill="#ffbdbd"/><rect x="579.83" y="15.8" width="1.03" height="46.93" fill="#ffbcbc"/><rect x="580.83" y="15.8" width="1.03" height="46.93" fill="#ffbbbb"/><rect x="581.83" y="15.8" width="1.03" height="46.93" fill="#ffbaba"/><rect x="582.83" y="15.8" width="1.03" height="46.93" fill="#ffb9b9"/><rect x="583.83" y="15.8" width="1.03" height="46.93" fill="#ffb8b8"/><rect x="584.83" y="15.8" width="1.03" height="46.93" fill="#ffb6b6"/><rect x="585.83" y="15.8" width="1.03" height="46.93" fill="#ffb5b5"/><rect x="586.83" y="15.8" width="1.03" height="46.93" fill="#ffb4b4"/><rect x="587.82" y="15.8" width="1.03" height="46.93" fill="#ffb3b3"/><rect x="588.82" y="15.8" width="1.03" height="46.93" fill="#ffb2b2"/><rect x="589.82" y="15.8" width="1.03" height="46.93" fill="#ffb0b0"/><rect x="590.82" y="15.8" width="1.03" height="46.93" fill="#ffafaf"/><rect x="591.82" y="15.8" width="1.03" height="46.93" fill="#ffaeae"/><rect x="592.82" y="15.8" width="1.03" height="46.93" fill="#ffadad"/><rect x="593.82" y="15.8" width="1.03" height="46.93" fill="#ffacac"/><rect x="594.82" y="15.8" width="1.03" height="46.93" fill="#ffabab"/><rect x="595.82" y="15.8" width="1.03" height="46.93" fill="#ffaaaa"/><rect x="596.82" y="15.8" width="1.03" height="46.93" fill="#ffa8a8"/><rect x="597.82" y="15.8" width="1.03" height="46.93" fill="#ffa7a7"/><rect x="598.82" y="15.8" width="1.03" height="46.93" fill="#ffa6a6"/><rect x="599.81" y="15.8" width="1.03" height="46.93" fill="#ffa5a5"/><rect x="600.81" y="15.8" width="1.03" height="46.93" fill="#ffa4a4"/><rect x="601.81" y="15.8" width="1.03" height="46.93" fill="#ffa3a3"/><rect x="602.81" y="15.8" width="1.03" height="46.93" fill="#ffa2a2"/><rect x="603.81" y="15.8" width="1.03" height="46.93" fill="#ffa1a1"/><rect x="604.81" y="15.8" width="1.03" height="46.93" fill="#ffa0a0"/><rect x="605.81" y="15.8" width="1.03" height="46.93" fill="#ff9f9f"/><rect x="606.81" y="15.8" width="1.03" height="46.93" fill="#ff9e9e"/><rect x="607.81" y="15.8" width="1.03" height="46.93" fill="#ff9d9d"/><rect x="608.81" y="15.8" width="1.03" height="46.93" fill="#ff9c9c"/><rect x="609.81" y="15.8" width="1.03" height="46.93" fill="#ff9b9b"/><rect x="610.81" y="15.8" width="1.03" height="46.93" fill="#ff9a9a"/><rect x="611.8" y="15.8" width="1.03" height="46.93" fill="#ff9797"/><rect x="612.8" y="15.8" width="1.03" height="46.93" fill="#ff9191"/><rect x="613.8" y="15.8" width="1.03" height="46.93" fill="#ff8b8b"/><rect x="614.8" y="15.8" width="1.03" height="46.93" fill="#ff8686"/><rect x="615.8" y="15.8" width="1.03" height="46.93" fill="#ff8484"/><rect x="616.8" y="15.8" width="1.03" height="46.93" fill="#ff8181"/></g>
<g shape-rendering="crispEdges" filter="url(#hblur)"><rect x="377" y="62.7" width="1.03" height="46.93" fill="#f5f5ff"/><rect x="378" y="62.7" width="1.03" height="46.93" fill="#f8f8ff"/><rect x="379" y="62.7" width="1.03" height="46.93" fill="#c1c1ff"/><rect x="380" y="62.7" width="3.03" height="46.93" fill="#e4e4ff"/><rect x="383" y="62.7" width="1.03" height="46.93" fill="#e5e5ff"/><rect x="383.99" y="62.7" width="1.03" height="46.93" fill="#cfcfff"/><rect x="384.99" y="62.7" width="1.03" height="46.93" fill="#e5e5ff"/><rect x="385.99" y="62.7" width="2.03" height="46.93" fill="#fff0f0"/><rect x="387.99" y="62.7" width="2.03" height="46.93" fill="#d0d0ff"/><rect x="389.99" y="62.7" width="1.03" height="46.93" fill="#fdfdff"/><rect x="390.99" y="62.7" width="1.03" height="46.93" fill="#d0d0ff"/><rect x="391.99" y="62.7" width="1.03" height="46.93" fill="#f5f5ff"/><rect x="392.99" y="62.7" width="1.03" height="46.93" fill="#d1d1ff"/><rect x="393.99" y="62.7" width="1.03" height="46.93" fill="#e6e6ff"/><rect x="394.99" y="62.7" width="1.03" height="46.93" fill="#a6a6ff"/><rect x="395.98" y="62.7" width="1.03" height="46.93" fill="#fff8f8"/><rect x="396.98" y="62.7" width="1.03" height="46.93" fill="#c3c3ff"/><rect x="397.98" y="62.7" width="1.03" height="46.93" fill="#d1d1ff"/><rect x="398.98" y="62.7" width="1.03" height="46.93" fill="#cacaff"/><rect x="399.98" y="62.7" width="1.03" height="46.93" fill="#f6f6ff"/><rect x="400.98" y="62.7" width="1.03" height="46.93" fill="#d2d2ff"/><rect x="401.98" y="62.7" width="1.03" height="46.93" fill="#e9e9ff"/><rect x="402.98" y="62.7" width="1.03" height="46.93" fill="#d2d2ff"/><rect x="403.98" y="62.7" width="1.03" height="46.93" fill="#aaaaff"/><rect x="404.98" y="62.7" width="1.03" height="46.93" fill="#e8e8ff"/><rect x="405.98" y="62.7" width="1.03" height="46.93" fill="#babaff"/><rect x="406.98" y="62.7" width="1.03" height="46.93" fill="#e9e9ff"/><rect x="407.97" y="62.7" width="1.03" height="46.93" fill="#c0c0ff"/><rect x="408.97" y="62.7" width="1.03" height="46.93" fill="#ffffff"/><rect x="409.97" y="62.7" width="1.03" height="46.93" fill="#fafaff"/><rect x="410.97" y="62.7" width="1.03" height="46.93" fill="#efefff"/><rect x="411.97" y="62.7" width="1.03" height="46.93" fill="#eaeaff"/><rect x="412.97" y="62.7" width="1.03" height="46.93" fill="#cdcdff"/><rect x="413.97" y="62.7" width="1.03" height="46.93" fill="#d0d0ff"/><rect x="414.97" y="62.7" width="1.03" height="46.93" fill="#fff8f8"/><rect x="415.97" y="62.7" width="2.03" height="46.93" fill="#d4d4ff"/><rect x="417.97" y="62.7" width="1.03" height="46.93" fill="#d5d5ff"/><rect x="418.97" y="62.7" width="1.03" height="46.93" fill="#b6b6ff"/><rect x="419.96" y="62.7" width="1.03" height="46.93" fill="#d5d5ff"/><rect x="420.96" y="62.7" width="1.03" height="46.93" fill="#fbfbff"/><rect x="421.96" y="62.7" width="1.03" height="46.93" fill="#d5d5ff"/><rect x="422.96" y="62.7" width="2.03" height="46.93" fill="#acacff"/><rect x="424.96" y="62.7" width="1.03" height="46.93" fill="#adadff"/><rect x="425.96" y="62.7" width="1.03" height="46.93" fill="#d1d1ff"/><rect x="426.96" y="62.7" width="1.03" height="46.93" fill="#fbfbff"/><rect x="427.96" y="62.7" width="1.03" height="46.93" fill="#fcfcff"/><rect x="428.96" y="62.7" width="1.03" height="46.93" fill="#cdcdff"/><rect x="429.96" y="62.7" width="1.03" height="46.93" fill="#ececff"/><rect x="430.96" y="62.7" width="1.03" height="46.93" fill="#c0c0ff"/><rect x="431.95" y="62.7" width="2.03" height="46.93" fill="#f6f6ff"/><rect x="433.95" y="62.7" width="1.03" height="46.93" fill="#f7f7ff"/><rect x="434.95" y="62.7" width="2.03" height="46.93" fill="#cdcdff"/><rect x="436.95" y="62.7" width="1.03" height="46.93" fill="#ceceff"/><rect x="437.95" y="62.7" width="1.03" height="46.93" fill="#d1d1ff"/><rect x="438.95" y="62.7" width="1.03" height="46.93" fill="#ceceff"/><rect x="439.95" y="62.7" width="1.03" height="46.93" fill="#bbbbff"/><rect x="440.95" y="62.7" width="3.03" height="46.93" fill="#d6d6ff"/><rect x="443.94" y="62.7" width="1.03" height="46.93" fill="#fff3f3"/><rect x="444.94" y="62.7" width="1.03" height="46.93" fill="#f6f6ff"/><rect x="445.94" y="62.7" width="1.03" height="46.93" fill="#d9d9ff"/><rect x="446.94" y="62.7" width="1.03" height="46.93" fill="#f5f5ff"/><rect x="447.94" y="62.7" width="1.03" height="46.93" fill="#d9d9ff"/><rect x="448.94" y="62.7" width="1.03" height="46.93" fill="#f1f1ff"/><rect x="449.94" y="62.7" width="1.03" height="46.93" fill="#d3d3ff"/><rect x="450.94" y="62.7" width="1.03" height="46.93" fill="#cbcbff"/><rect x="451.94" y="62.7" width="1.03" height="46.93" fill="#dadaff"/><rect x="452.94" y="62.7" width="2.03" height="46.93" fill="#f0f0ff"/><rect x="454.94" y="62.7" width="1.03" height="46.93" fill="#d5d5ff"/><rect x="455.93" y="62.7" width="1.03" height="46.93" fill="#ffe1e1"/><rect x="456.93" y="62.7" width="1.03" height="46.93" fill="#dbdbff"/><rect x="457.93" y="62.7" width="2.03" height="46.93" fill="#f1f1ff"/><rect x="459.93" y="62.7" width="1.03" height="46.93" fill="#fcfcff"/><rect x="460.93" y="62.7" width="1.03" height="46.93" fill="#d0d0ff"/><rect x="461.93" y="62.7" width="1.03" height="46.93" fill="#dcdcff"/><rect x="462.93" y="62.7" width="1.03" height="46.93" fill="#d1d1ff"/><rect x="463.93" y="62.7" width="1.03" height="46.93" fill="#cfcfff"/><rect x="464.93" y="62.7" width="1.03" height="46.93" fill="#fff6f6"/><rect x="465.93" y="62.7" width="1.03" height="46.93" fill="#f3f3ff"/><rect x="466.93" y="62.7" width="1.03" height="46.93" fill="#c9c9ff"/><rect x="467.92" y="62.7" width="1.03" height="46.93" fill="#f9f9ff"/><rect x="468.92" y="62.7" width="3.03" height="46.93" fill="#f4f4ff"/><rect x="471.92" y="62.7" width="1.03" height="46.93" fill="#dbdbff"/><rect x="472.92" y="62.7" width="1.03" height="46.93" fill="#dcdcff"/><rect x="473.92" y="62.7" width="2.03" height="46.93" fill="#f5f5ff"/><rect x="475.92" y="62.7" width="1.03" height="46.93" fill="#ffe6e6"/><rect x="476.92" y="62.7" width="1.03" height="46.93" fill="#fff9f9"/><rect x="477.92" y="62.7" width="2.03" height="46.93" fill="#d0d0ff"/><rect x="479.91" y="62.7" width="1.03" height="46.93" fill="#e1e1ff"/><rect x="480.91" y="62.7" width="1.03" height="46.93" fill="#f8f8ff"/><rect x="481.91" y="62.7" width="2.03" height="46.93" fill="#f7f7ff"/><rect x="483.91" y="62.7" width="1.03" height="46.93" fill="#dadaff"/><rect x="484.91" y="62.7" width="1.03" height="46.93" fill="#f8f8ff"/><rect x="485.91" y="62.7" width="1.03" height="46.93" fill="#fcfcff"/><rect x="486.91" y="62.7" width="1.03" height="46.93" fill="#f8f8ff"/><rect x="487.91" y="62.7" width="1.03" height="46.93" fill="#f9f9ff"/><rect x="488.91" y="62.7" width="1.03" height="46.93" fill="#dbdbff"/><rect x="489.91" y="62.7" width="1.03" height="46.93" fill="#fff5f5"/><rect x="490.91" y="62.7" width="1.03" height="46.93" fill="#c4c4ff"/><rect x="491.9" y="62.7" width="1.03" height="46.93" fill="#e4e4ff"/><rect x="492.9" y="62.7" width="1.03" height="46.93" fill="#d8d8ff"/><rect x="493.9" y="62.7" width="1.03" height="46.93" fill="#e4e4ff"/><rect x="494.9" y="62.7" width="1.03" height="46.93" fill="#e5e5ff"/><rect x="495.9" y="62.7" width="1.03" height="46.93" fill="#fbfbff"/><rect x="496.9" y="62.7" width="1.03" height="46.93" fill="#ffeaea"/><rect x="497.9" y="62.7" width="1.03" height="46.93" fill="#e4e4ff"/><rect x="498.9" y="62.7" width="1.03" height="46.93" fill="#fffefe"/><rect x="499.9" y="62.7" width="1.03" height="46.93" fill="#c8c8ff"/><rect x="500.9" y="62.7" width="1.03" height="46.93" fill="#d2d2ff"/><rect x="501.9" y="62.7" width="1.03" height="46.93" fill="#e9e9ff"/><rect x="502.9" y="62.7" width="2.03" height="46.93" fill="#eaeaff"/><rect x="504.89" y="62.7" width="1.03" height="46.93" fill="#fffcfc"/><rect x="505.89" y="62.7" width="1.03" height="46.93" fill="#ebebff"/><rect x="506.89" y="62.7" width="2.03" height="46.93" fill="#cdcdff"/><rect x="508.89" y="62.7" width="1.03" height="46.93" fill="#ceceff"/><rect x="509.89" y="62.7" width="1.03" height="46.93" fill="#dfdfff"/><rect x="510.89" y="62.7" width="1.03" height="46.93" fill="#fff6f6"/><rect x="511.89" y="62.7" width="1.03" height="46.93" fill="#fff9f9"/><rect x="512.89" y="62.7" width="1.03" height="46.93" fill="#ffeeee"/><rect x="513.89" y="62.7" width="1.03" height="46.93" fill="#f1f1ff"/><rect x="514.89" y="62.7" width="1.03" height="46.93" fill="#fff7f7"/><rect x="515.88" y="62.7" width="1.03" height="46.93" fill="#f2f2ff"/><rect x="516.88" y="62.7" width="1.03" height="46.93" fill="#ffdfdf"/><rect x="517.88" y="62.7" width="1.03" height="46.93" fill="#ffdede"/><rect x="518.88" y="62.7" width="1.03" height="46.93" fill="#ffe2e2"/><rect x="519.88" y="62.7" width="1.03" height="46.93" fill="#f4f4ff"/><rect x="520.88" y="62.7" width="1.03" height="46.93" fill="#f5f5ff"/><rect x="521.88" y="62.7" width="1.03" height="46.93" fill="#ffe7e7"/><rect x="522.88" y="62.7" width="1.03" height="46.93" fill="#ffdada"/><rect x="523.88" y="62.7" width="1.03" height="46.93" fill="#fff1f1"/><rect x="524.88" y="62.7" width="1.03" height="46.93" fill="#e9e9ff"/><rect x="525.88" y="62.7" width="1.03" height="46.93" fill="#f8f8ff"/><rect x="526.88" y="62.7" width="1.03" height="46.93" fill="#f1f1ff"/><rect x="527.87" y="62.7" width="1.03" height="46.93" fill="#ffd4d4"/><rect x="528.87" y="62.7" width="1.03" height="46.93" fill="#ffeeee"/><rect x="529.87" y="62.7" width="1.03" height="46.93" fill="#fbfbff"/><rect x="530.87" y="62.7" width="2.03" height="46.93" fill="#ffe4e4"/><rect x="532.87" y="62.7" width="1.03" height="46.93" fill="#ffbebe"/><rect x="533.87" y="62.7" width="1.03" height="46.93" fill="#fdfdff"/><rect x="534.87" y="62.7" width="1.03" height="46.93" fill="#dcdcff"/><rect x="535.87" y="62.7" width="1.03" height="46.93" fill="#e1e1ff"/><rect x="536.87" y="62.7" width="1.03" height="46.93" fill="#fffefe"/><rect x="537.87" y="62.7" width="1.03" height="46.93" fill="#fdfdff"/><rect x="538.87" y="62.7" width="1.03" height="46.93" fill="#ffe7e7"/><rect x="539.86" y="62.7" width="1.03" height="46.93" fill="#ffe6e6"/><rect x="540.86" y="62.7" width="1.03" height="46.93" fill="#f0f0ff"/><rect x="541.86" y="62.7" width="1.03" height="46.93" fill="#ffe4e4"/><rect x="542.86" y="62.7" width="1.03" height="46.93" fill="#fffdfd"/><rect x="543.86" y="62.7" width="1.03" height="46.93" fill="#ffe1e1"/><rect x="544.86" y="62.7" width="1.03" height="46.93" fill="#ffd2d2"/><rect x="545.86" y="62.7" width="1.03" height="46.93" fill="#ededff"/><rect x="546.86" y="62.7" width="1.03" height="46.93" fill="#f8f8ff"/><rect x="547.86" y="62.7" width="1.03" height="46.93" fill="#fff5f5"/><rect x="548.86" y="62.7" width="1.03" height="46.93" fill="#ffd9d9"/><rect x="549.86" y="62.7" width="1.03" height="46.93" fill="#ffd8d8"/><rect x="550.86" y="62.7" width="1.03" height="46.93" fill="#ffd7d7"/><rect x="551.85" y="62.7" width="1.03" height="46.93" fill="#ffdbdb"/><rect x="552.85" y="62.7" width="1.03" height="46.93" fill="#fff0f0"/><rect x="553.85" y="62.7" width="1.03" height="46.93" fill="#ffefef"/><rect x="554.85" y="62.7" width="1.03" height="46.93" fill="#ffeeee"/><rect x="555.85" y="62.7" width="1.03" height="46.93" fill="#ffd8d8"/><rect x="556.85" y="62.7" width="1.03" height="46.93" fill="#ffecec"/><rect x="557.85" y="62.7" width="1.03" height="46.93" fill="#ffb2b2"/><rect x="558.85" y="62.7" width="1.03" height="46.93" fill="#ffc7c7"/><rect x="559.85" y="62.7" width="1.03" height="46.93" fill="#ffb7b7"/><rect x="560.85" y="62.7" width="1.03" height="46.93" fill="#ffe9e9"/><rect x="561.85" y="62.7" width="1.03" height="46.93" fill="#f0f0ff"/><rect x="562.85" y="62.7" width="1.03" height="46.93" fill="#ffe7e7"/><rect x="563.84" y="62.7" width="1.03" height="46.93" fill="#ffbdbd"/><rect x="564.84" y="62.7" width="1.03" height="46.93" fill="#ffbcbc"/><rect x="565.84" y="62.7" width="1.03" height="46.93" fill="#ffb4b4"/><rect x="566.84" y="62.7" width="1.03" height="46.93" fill="#fff0f0"/><rect x="567.84" y="62.7" width="1.03" height="46.93" fill="#ffeeee"/><rect x="568.84" y="62.7" width="1.03" height="46.93" fill="#ffc8c8"/><rect x="569.84" y="62.7" width="1.03" height="46.93" fill="#ffe1e1"/><rect x="570.84" y="62.7" width="1.03" height="46.93" fill="#ffadad"/><rect x="571.84" y="62.7" width="1.03" height="46.93" fill="#ffc8c8"/><rect x="572.84" y="62.7" width="1.03" height="46.93" fill="#ffe0e0"/><rect x="573.84" y="62.7" width="1.03" height="46.93" fill="#ffeaea"/><rect x="574.84" y="62.7" width="2.03" height="46.93" fill="#ffeded"/><rect x="576.83" y="62.7" width="1.03" height="46.93" fill="#ffc9c9"/><rect x="577.83" y="62.7" width="1.03" height="46.93" fill="#fffafa"/><rect x="578.83" y="62.7" width="1.03" height="46.93" fill="#ffc8c8"/><rect x="579.83" y="62.7" width="1.03" height="46.93" fill="#ffb2b2"/><rect x="580.83" y="62.7" width="1.03" height="46.93" fill="#ffc8c8"/><rect x="581.83" y="62.7" width="1.03" height="46.93" fill="#ffaaaa"/><rect x="582.83" y="62.7" width="1.03" height="46.93" fill="#ffa2a2"/><rect x="583.83" y="62.7" width="2.03" height="46.93" fill="#ffc6c6"/><rect x="585.83" y="62.7" width="1.03" height="46.93" fill="#ffe3e3"/><rect x="586.83" y="62.7" width="1.03" height="46.93" fill="#ffa7a7"/><rect x="587.82" y="62.7" width="1.03" height="46.93" fill="#ffdbdb"/><rect x="588.82" y="62.7" width="1.03" height="46.93" fill="#ffdcdc"/><rect x="589.82" y="62.7" width="1.03" height="46.93" fill="#ffaeae"/><rect x="590.82" y="62.7" width="1.03" height="46.93" fill="#ffdada"/><rect x="591.82" y="62.7" width="1.03" height="46.93" fill="#ffd9d9"/><rect x="592.82" y="62.7" width="1.03" height="46.93" fill="#ffeeee"/><rect x="593.82" y="62.7" width="1.03" height="46.93" fill="#ffaeae"/><rect x="594.82" y="62.7" width="1.03" height="46.93" fill="#ffdfdf"/><rect x="595.82" y="62.7" width="1.03" height="46.93" fill="#fff4f4"/><rect x="596.82" y="62.7" width="1.03" height="46.93" fill="#ffd8d8"/><rect x="597.82" y="62.7" width="1.03" height="46.93" fill="#ffd7d7"/><rect x="598.82" y="62.7" width="1.03" height="46.93" fill="#ffb2b2"/><rect x="599.81" y="62.7" width="1.03" height="46.93" fill="#ffd7d7"/><rect x="600.81" y="62.7" width="1.03" height="46.93" fill="#ffc1c1"/><rect x="601.81" y="62.7" width="1.03" height="46.93" fill="#ffe0e0"/><rect x="602.81" y="62.7" width="1.03" height="46.93" fill="#ffd6d6"/><rect x="603.81" y="62.7" width="1.03" height="46.93" fill="#ffabab"/><rect x="604.81" y="62.7" width="1.03" height="46.93" fill="#ffd7d7"/><rect x="605.81" y="62.7" width="1.03" height="46.93" fill="#ffe2e2"/><rect x="606.81" y="62.7" width="1.03" height="46.93" fill="#ffb7b7"/><rect x="607.81" y="62.7" width="1.03" height="46.93" fill="#f1f1ff"/><rect x="608.81" y="62.7" width="1.03" height="46.93" fill="#ffdcdc"/><rect x="609.81" y="62.7" width="1.03" height="46.93" fill="#ffd4d4"/><rect x="610.81" y="62.7" width="1.03" height="46.93" fill="#ffbebe"/><rect x="611.8" y="62.7" width="1.03" height="46.93" fill="#ff9090"/><rect x="612.8" y="62.7" width="3.03" height="46.93" fill="#ffd3d3"/><rect x="615.8" y="62.7" width="1.03" height="46.93" fill="#ffa9a9"/><rect x="616.8" y="62.7" width="1.03" height="46.93" fill="#fff1f1"/></g>
<g shape-rendering="crispEdges" filter="url(#hblur)"><rect x="377" y="109.6" width="1.03" height="46.93" fill="#ffbebe"/><rect x="378" y="109.6" width="1.03" height="46.93" fill="#ffbfbf"/><rect x="379" y="109.6" width="1.03" height="46.93" fill="#f2f2ff"/><rect x="380" y="109.6" width="1.03" height="46.93" fill="#ffe4e4"/><rect x="381" y="109.6" width="1.03" height="46.93" fill="#ffd3d3"/><rect x="382" y="109.6" width="2.03" height="46.93" fill="#ffefef"/><rect x="383.99" y="109.6" width="1.03" height="46.93" fill="#e4e4ff"/><rect x="384.99" y="109.6" width="1.03" height="46.93" fill="#dedeff"/><rect x="385.99" y="109.6" width="1.03" height="46.93" fill="#d8d8ff"/><rect x="386.99" y="109.6" width="1.03" height="46.93" fill="#ffd2d2"/><rect x="387.99" y="109.6" width="1.03" height="46.93" fill="#ffeded"/><rect x="388.99" y="109.6" width="1.03" height="46.93" fill="#efefff"/><rect x="389.99" y="109.6" width="1.03" height="46.93" fill="#d1d1ff"/><rect x="390.99" y="109.6" width="1.03" height="46.93" fill="#ffe6e6"/><rect x="391.99" y="109.6" width="1.03" height="46.93" fill="#fff2f2"/><rect x="392.99" y="109.6" width="1.03" height="46.93" fill="#ffefef"/><rect x="393.99" y="109.6" width="1.03" height="46.93" fill="#ebebff"/><rect x="394.99" y="109.6" width="1.03" height="46.93" fill="#ffe8e8"/><rect x="395.98" y="109.6" width="1.03" height="46.93" fill="#e5e5ff"/><rect x="396.98" y="109.6" width="1.03" height="46.93" fill="#fff3f3"/><rect x="397.98" y="109.6" width="1.03" height="46.93" fill="#e7e7ff"/><rect x="398.98" y="109.6" width="1.03" height="46.93" fill="#ffe7e7"/><rect x="399.98" y="109.6" width="1.03" height="46.93" fill="#c1c1ff"/><rect x="400.98" y="109.6" width="1.03" height="46.93" fill="#ffecec"/><rect x="401.98" y="109.6" width="1.03" height="46.93" fill="#efefff"/><rect x="402.98" y="109.6" width="1.03" height="46.93" fill="#ececff"/><rect x="403.98" y="109.6" width="1.03" height="46.93" fill="#ceceff"/><rect x="404.98" y="109.6" width="1.03" height="46.93" fill="#efefff"/><rect x="405.98" y="109.6" width="1.03" height="46.93" fill="#fff0f0"/><rect x="406.98" y="109.6" width="1.03" height="46.93" fill="#ededff"/><rect x="407.97" y="109.6" width="1.03" height="46.93" fill="#d6d6ff"/><rect x="408.97" y="109.6" width="1.03" height="46.93" fill="#fff7f7"/><rect x="409.97" y="109.6" width="1.03" height="46.93" fill="#ffeaea"/><rect x="410.97" y="109.6" width="1.03" height="46.93" fill="#cdcdff"/><rect x="411.97" y="109.6" width="1.03" height="46.93" fill="#e4e4ff"/><rect x="412.97" y="109.6" width="1.03" height="46.93" fill="#fff8f8"/><rect x="413.97" y="109.6" width="1.03" height="46.93" fill="#dcdcff"/><rect x="414.97" y="109.6" width="2.03" height="46.93" fill="#ebebff"/><rect x="416.97" y="109.6" width="1.03" height="46.93" fill="#dadaff"/><rect x="417.97" y="109.6" width="1.03" height="46.93" fill="#ffe6e6"/><rect x="418.97" y="109.6" width="1.03" height="46.93" fill="#d9d9ff"/><rect x="419.96" y="109.6" width="1.03" height="46.93" fill="#d8d8ff"/><rect x="420.96" y="109.6" width="1.03" height="46.93" fill="#fffbfb"/><rect x="421.96" y="109.6" width="3.03" height="46.93" fill="#e9e9ff"/><rect x="424.96" y="109.6" width="1.03" height="46.93" fill="#fffcfc"/><rect x="425.96" y="109.6" width="1.03" height="46.93" fill="#ffd6d6"/><rect x="426.96" y="109.6" width="1.03" height="46.93" fill="#fffdfd"/><rect x="427.96" y="109.6" width="1.03" height="46.93" fill="#e5e5ff"/><rect x="428.96" y="109.6" width="2.03" height="46.93" fill="#d0d0ff"/><rect x="430.96" y="109.6" width="1.03" height="46.93" fill="#fff8f8"/><rect x="431.95" y="109.6" width="3.03" height="46.93" fill="#ffffff"/><rect x="434.95" y="109.6" width="2.03" height="46.93" fill="#e5e5ff"/><rect x="436.95" y="109.6" width="2.03" height="46.93" fill="#fefeff"/><rect x="438.95" y="109.6" width="1.03" height="46.93" fill="#ffc3c3"/><rect x="439.95" y="109.6" width="2.03" height="46.93" fill="#fff9f9"/><rect x="441.95" y="109.6" width="1.03" height="46.93" fill="#ffeded"/><rect x="442.95" y="109.6" width="1.03" height="46.93" fill="#e2e2ff"/><rect x="443.94" y="109.6" width="1.03" height="46.93" fill="#d9d9ff"/><rect x="444.94" y="109.6" width="1.03" height="46.93" fill="#fbfbff"/><rect x="445.94" y="109.6" width="1.03" height="46.93" fill="#fffdfd"/><rect x="446.94" y="109.6" width="1.03" height="46.93" fill="#fbfbff"/><rect x="447.94" y="109.6" width="1.03" height="46.93" fill="#ffecec"/><rect x="448.94" y="109.6" width="1.03" height="46.93" fill="#ffdcdc"/><rect x="449.94" y="109.6" width="1.03" height="46.93" fill="#fafaff"/><rect x="450.94" y="109.6" width="1.03" height="46.93" fill="#e0e0ff"/><rect x="451.94" y="109.6" width="1.03" height="46.93" fill="#c1c1ff"/><rect x="452.94" y="109.6" width="1.03" height="46.93" fill="#e1e1ff"/><rect x="453.94" y="109.6" width="1.03" height="46.93" fill="#fefeff"/><rect x="454.94" y="109.6" width="1.03" height="46.93" fill="#ddddff"/><rect x="455.93" y="109.6" width="1.03" height="46.93" fill="#d7d7ff"/><rect x="456.93" y="109.6" width="1.03" height="46.93" fill="#cdcdff"/><rect x="457.93" y="109.6" width="1.03" height="46.93" fill="#e1e1ff"/><rect x="458.93" y="109.6" width="2.03" height="46.93" fill="#fbfbff"/><rect x="460.93" y="109.6" width="2.03" height="46.93" fill="#ffd8d8"/><rect x="462.93" y="109.6" width="1.03" height="46.93" fill="#fbfbff"/><rect x="463.93" y="109.6" width="1.03" height="46.93" fill="#fff4f4"/><rect x="464.93" y="109.6" width="2.03" height="46.93" fill="#ceceff"/><rect x="466.93" y="109.6" width="2.03" height="46.93" fill="#d3d3ff"/><rect x="468.92" y="109.6" width="1.03" height="46.93" fill="#fdfdff"/><rect x="469.92" y="109.6" width="1.03" height="46.93" fill="#ffffff"/><rect x="470.92" y="109.6" width="1.03" height="46.93" fill="#fff6f6"/><rect x="471.92" y="109.6" width="1.03" height="46.93" fill="#ffe5e5"/><rect x="472.92" y="109.6" width="2.03" height="46.93" fill="#fbfbff"/><rect x="474.92" y="109.6" width="1.03" height="46.93" fill="#fcfcff"/><rect x="475.92" y="109.6" width="1.03" height="46.93" fill="#d9d9ff"/><rect x="476.92" y="109.6" width="1.03" height="46.93" fill="#fcfcff"/><rect x="477.92" y="109.6" width="1.03" height="46.93" fill="#ffd8d8"/><rect x="478.92" y="109.6" width="1.03" height="46.93" fill="#cbcbff"/><rect x="479.91" y="109.6" width="2.03" height="46.93" fill="#ceceff"/><rect x="481.91" y="109.6" width="1.03" height="46.93" fill="#e2e2ff"/><rect x="482.91" y="109.6" width="1.03" height="46.93" fill="#bdbdff"/><rect x="483.91" y="109.6" width="1.03" height="46.93" fill="#d3d3ff"/><rect x="484.91" y="109.6" width="1.03" height="46.93" fill="#ffcece"/><rect x="485.91" y="109.6" width="1.03" height="46.93" fill="#fcfcff"/><rect x="486.91" y="109.6" width="1.03" height="46.93" fill="#dadaff"/><rect x="487.91" y="109.6" width="1.03" height="46.93" fill="#b9b9ff"/><rect x="488.91" y="109.6" width="1.03" height="46.93" fill="#e3e3ff"/><rect x="489.91" y="109.6" width="1.03" height="46.93" fill="#fdfdff"/><rect x="490.91" y="109.6" width="1.03" height="46.93" fill="#fff9f9"/><rect x="491.9" y="109.6" width="2.03" height="46.93" fill="#fff8f8"/><rect x="493.9" y="109.6" width="1.03" height="46.93" fill="#c7c7ff"/><rect x="494.9" y="109.6" width="2.03" height="46.93" fill="#fefeff"/><rect x="496.9" y="109.6" width="1.03" height="46.93" fill="#ffecec"/><rect x="497.9" y="109.6" width="1.03" height="46.93" fill="#ffebeb"/><rect x="498.9" y="109.6" width="1.03" height="46.93" fill="#ffffff"/><rect x="499.9" y="109.6" width="1.03" height="46.93" fill="#e6e6ff"/><rect x="500.9" y="109.6" width="1.03" height="46.93" fill="#dcdcff"/><rect x="501.9" y="109.6" width="2.03" height="46.93" fill="#e6e6ff"/><rect x="503.89" y="109.6" width="1.03" height="46.93" fill="#fffefe"/><rect x="504.89" y="109.6" width="1.03" height="46.93" fill="#fff5f5"/><rect x="505.89" y="109.6" width="1.03" height="46.93" fill="#d6d6ff"/><rect x="506.89" y="109.6" width="1.03" height="46.93" fill="#ffe5e5"/><rect x="507.89" y="109.6" width="1.03" height="46.93" fill="#fffdfd"/><rect x="508.89" y="109.6" width="1.03" height="46.93" fill="#ddddff"/><rect x="509.89" y="109.6" width="1.03" height="46.93" fill="#fffcfc"/><rect x="510.89" y="109.6" width="1.03" height="46.93" fill="#e8e8ff"/><rect x="511.89" y="109.6" width="1.03" height="46.93" fill="#ffeaea"/><rect x="512.89" y="109.6" width="1.03" height="46.93" fill="#fff5f5"/><rect x="513.89" y="109.6" width="1.03" height="46.93" fill="#bebeff"/><rect x="514.89" y="109.6" width="1.03" height="46.93" fill="#fffbfb"/><rect x="515.88" y="109.6" width="1.03" height="46.93" fill="#ffeaea"/><rect x="516.88" y="109.6" width="1.03" height="46.93" fill="#dedeff"/><rect x="517.88" y="109.6" width="1.03" height="46.93" fill="#c3c3ff"/><rect x="518.88" y="109.6" width="1.03" height="46.93" fill="#fff3f3"/><rect x="519.88" y="109.6" width="1.03" height="46.93" fill="#fff9f9"/><rect x="520.88" y="109.6" width="1.03" height="46.93" fill="#ebebff"/><rect x="521.88" y="109.6" width="1.03" height="46.93" fill="#fff9f9"/><rect x="522.88" y="109.6" width="1.03" height="46.93" fill="#ffe1e1"/><rect x="523.88" y="109.6" width="1.03" height="46.93" fill="#ececff"/><rect x="524.88" y="109.6" width="1.03" height="46.93" fill="#fff9f9"/><rect x="525.88" y="109.6" width="1.03" height="46.93" fill="#ffdfdf"/><rect x="526.88" y="109.6" width="1.03" height="46.93" fill="#ececff"/><rect x="527.87" y="109.6" width="1.03" height="46.93" fill="#ededff"/><rect x="528.87" y="109.6" width="1.03" height="46.93" fill="#fff8f8"/><rect x="529.87" y="109.6" width="1.03" height="46.93" fill="#eeeeff"/><rect x="530.87" y="109.6" width="1.03" height="46.93" fill="#f1f1ff"/><rect x="531.87" y="109.6" width="1.03" height="46.93" fill="#ffc7c7"/><rect x="532.87" y="109.6" width="1.03" height="46.93" fill="#c0c0ff"/><rect x="533.87" y="109.6" width="1.03" height="46.93" fill="#ffc8c8"/><rect x="534.87" y="109.6" width="1.03" height="46.93" fill="#ffe3e3"/><rect x="535.87" y="109.6" width="1.03" height="46.93" fill="#ffe0e0"/><rect x="536.87" y="109.6" width="1.03" height="46.93" fill="#ffdddd"/><rect x="537.87" y="109.6" width="1.03" height="46.93" fill="#ffd5d5"/><rect x="538.87" y="109.6" width="1.03" height="46.93" fill="#fff4f4"/><rect x="539.86" y="109.6" width="1.03" height="46.93" fill="#fff2f2"/><rect x="540.86" y="109.6" width="1.03" height="46.93" fill="#ffffff"/><rect x="541.86" y="109.6" width="1.03" height="46.93" fill="#fff4f4"/><rect x="542.86" y="109.6" width="1.03" height="46.93" fill="#dfdfff"/><rect x="543.86" y="109.6" width="1.03" height="46.93" fill="#ffcece"/><rect x="544.86" y="109.6" width="1.03" height="46.93" fill="#fff1f1"/><rect x="545.86" y="109.6" width="1.03" height="46.93" fill="#ffd7d7"/><rect x="546.86" y="109.6" width="1.03" height="46.93" fill="#e8e8ff"/><rect x="547.86" y="109.6" width="1.03" height="46.93" fill="#fbfbff"/><rect x="548.86" y="109.6" width="1.03" height="46.93" fill="#ffcece"/><rect x="549.86" y="109.6" width="1.03" height="46.93" fill="#ffc7c7"/><rect x="550.86" y="109.6" width="1.03" height="46.93" fill="#ffd6d6"/><rect x="551.85" y="109.6" width="2.03" height="46.93" fill="#fffefe"/><rect x="553.85" y="109.6" width="1.03" height="46.93" fill="#f6f6ff"/><rect x="554.85" y="109.6" width="1.03" height="46.93" fill="#f1f1ff"/><rect x="555.85" y="109.6" width="1.03" height="46.93" fill="#fafaff"/><rect x="556.85" y="109.6" width="1.03" height="46.93" fill="#ffd0d0"/><rect x="557.85" y="109.6" width="1.03" height="46.93" fill="#f5f5ff"/><rect x="558.85" y="109.6" width="1.03" height="46.93" fill="#ffefef"/><rect x="559.85" y="109.6" width="1.03" height="46.93" fill="#ffeeee"/><rect x="560.85" y="109.6" width="1.03" height="46.93" fill="#fff5f5"/><rect x="561.85" y="109.6" width="1.03" height="46.93" fill="#fff2f2"/><rect x="562.85" y="109.6" width="1.03" height="46.93" fill="#fff1f1"/><rect x="563.84" y="109.6" width="2.03" height="46.93" fill="#ffd3d3"/><rect x="565.84" y="109.6" width="1.03" height="46.93" fill="#ffc5c5"/><rect x="566.84" y="109.6" width="2.03" height="46.93" fill="#fff1f1"/><rect x="568.84" y="109.6" width="1.03" height="46.93" fill="#fff0f0"/><rect x="569.84" y="109.6" width="1.03" height="46.93" fill="#f9f9ff"/><rect x="570.84" y="109.6" width="1.03" height="46.93" fill="#ffd2d2"/><rect x="571.84" y="109.6" width="2.03" height="46.93" fill="#ffebeb"/><rect x="573.84" y="109.6" width="1.03" height="46.93" fill="#ffeaea"/><rect x="574.84" y="109.6" width="1.03" height="46.93" fill="#ffd1d1"/><rect x="575.83" y="109.6" width="1.03" height="46.93" fill="#f4f4ff"/><rect x="576.83" y="109.6" width="1.03" height="46.93" fill="#ffd0d0"/><rect x="577.83" y="109.6" width="1.03" height="46.93" fill="#f0f0ff"/><rect x="578.83" y="109.6" width="1.03" height="46.93" fill="#fff2f2"/><rect x="579.83" y="109.6" width="3.03" height="46.93" fill="#ffc9c9"/><rect x="582.83" y="109.6" width="2.03" height="46.93" fill="#ffe8e8"/><rect x="584.83" y="109.6" width="1.03" height="46.93" fill="#ffcfcf"/><rect x="585.83" y="109.6" width="1.03" height="46.93" fill="#ffd1d1"/><rect x="586.83" y="109.6" width="1.03" height="46.93" fill="#ffbbbb"/><rect x="587.82" y="109.6" width="1.03" height="46.93" fill="#fff1f1"/><rect x="588.82" y="109.6" width="1.03" height="46.93" fill="#f5f5ff"/><rect x="589.82" y="109.6" width="1.03" height="46.93" fill="#fff3f3"/><rect x="590.82" y="109.6" width="1.03" height="46.93" fill="#ffd3d3"/><rect x="591.82" y="109.6" width="1.03" height="46.93" fill="#fffdfd"/><rect x="592.82" y="109.6" width="1.03" height="46.93" fill="#fafaff"/><rect x="593.82" y="109.6" width="1.03" height="46.93" fill="#ffe2e2"/><rect x="594.82" y="109.6" width="1.03" height="46.93" fill="#ffcfcf"/><rect x="595.82" y="109.6" width="1.03" height="46.93" fill="#ffffff"/><rect x="596.82" y="109.6" width="1.03" height="46.93" fill="#fdfdff"/><rect x="597.82" y="109.6" width="1.03" height="46.93" fill="#fbfbff"/><rect x="598.82" y="109.6" width="1.03" height="46.93" fill="#f9f9ff"/><rect x="599.81" y="109.6" width="1.03" height="46.93" fill="#f7f7ff"/><rect x="600.81" y="109.6" width="1.03" height="46.93" fill="#ffefef"/><rect x="601.81" y="109.6" width="1.03" height="46.93" fill="#d1d1ff"/><rect x="602.81" y="109.6" width="1.03" height="46.93" fill="#f4f4ff"/><rect x="603.81" y="109.6" width="1.03" height="46.93" fill="#ffeaea"/><rect x="604.81" y="109.6" width="1.03" height="46.93" fill="#f1f1ff"/><rect x="605.81" y="109.6" width="1.03" height="46.93" fill="#fff4f4"/><rect x="606.81" y="109.6" width="1.03" height="46.93" fill="#fff5f5"/><rect x="607.81" y="109.6" width="1.03" height="46.93" fill="#ffefef"/><rect x="608.81" y="109.6" width="1.03" height="46.93" fill="#d0d0ff"/><rect x="609.81" y="109.6" width="1.03" height="46.93" fill="#fff9f9"/><rect x="610.81" y="109.6" width="1.03" height="46.93" fill="#fffafa"/><rect x="611.8" y="109.6" width="1.03" height="46.93" fill="#fffbfb"/><rect x="612.8" y="109.6" width="1.03" height="46.93" fill="#d4d4ff"/><rect x="613.8" y="109.6" width="1.03" height="46.93" fill="#ffeaea"/><rect x="614.8" y="109.6" width="1.03" height="46.93" fill="#e6e6ff"/><rect x="615.8" y="109.6" width="1.03" height="46.93" fill="#d0d0ff"/><rect x="616.8" y="109.6" width="1.03" height="46.93" fill="#e4e4ff"/></g>
<g shape-rendering="crispEdges" filter="url(#hblur)"><rect x="377" y="156.5" width="1.03" height="46.63" fill="#ffcece"/><rect x="378" y="156.5" width="1.03" height="46.63" fill="#ffc4c4"/><rect x="379" y="156.5" width="1.03" height="46.63" fill="#ffd1d1"/><rect x="380" y="156.5" width="3.03" height="46.63" fill="#ffd2d2"/><rect x="383" y="156.5" width="1.03" height="46.63" fill="#ffcbcb"/><rect x="383.99" y="156.5" width="1.03" height="46.63" fill="#ffc3c3"/><rect x="384.99" y="156.5" width="2.03" height="46.63" fill="#ffdfdf"/><rect x="386.99" y="156.5" width="1.03" height="46.63" fill="#ffc6c6"/><rect x="387.99" y="156.5" width="1.03" height="46.63" fill="#ffe0e0"/><rect x="388.99" y="156.5" width="1.03" height="46.63" fill="#ffd3d3"/><rect x="389.99" y="156.5" width="2.03" height="46.63" fill="#ffd4d4"/><rect x="391.99" y="156.5" width="1.03" height="46.63" fill="#ffc3c3"/><rect x="392.99" y="156.5" width="2.03" height="46.63" fill="#ffcece"/><rect x="394.99" y="156.5" width="1.03" height="46.63" fill="#ffcfcf"/><rect x="395.98" y="156.5" width="1.03" height="46.63" fill="#ffd6d6"/><rect x="396.98" y="156.5" width="1.03" height="46.63" fill="#ffe5e5"/><rect x="397.98" y="156.5" width="1.03" height="46.63" fill="#ffe0e0"/><rect x="398.98" y="156.5" width="1.03" height="46.63" fill="#ffcaca"/><rect x="399.98" y="156.5" width="2.03" height="46.63" fill="#ffd1d1"/><rect x="401.98" y="156.5" width="3.03" height="46.63" fill="#ffd7d7"/><rect x="404.98" y="156.5" width="1.03" height="46.63" fill="#ffe0e0"/><rect x="405.98" y="156.5" width="1.03" height="46.63" fill="#ffd0d0"/><rect x="406.98" y="156.5" width="1.03" height="46.63" fill="#ffdcdc"/><rect x="407.97" y="156.5" width="1.03" height="46.63" fill="#ffd0d0"/><rect x="408.97" y="156.5" width="1.03" height="46.63" fill="#ffcbcb"/><rect x="409.97" y="156.5" width="1.03" height="46.63" fill="#ffdede"/><rect x="410.97" y="156.5" width="2.03" height="46.63" fill="#ffc9c9"/><rect x="412.97" y="156.5" width="1.03" height="46.63" fill="#ffd7d7"/><rect x="413.97" y="156.5" width="1.03" height="46.63" fill="#ffcdcd"/><rect x="414.97" y="156.5" width="3.03" height="46.63" fill="#ffdede"/><rect x="417.97" y="156.5" width="1.03" height="46.63" fill="#ffd8d8"/><rect x="418.97" y="156.5" width="1.03" height="46.63" fill="#ffd4d4"/><rect x="419.96" y="156.5" width="1.03" height="46.63" fill="#ffe0e0"/><rect x="420.96" y="156.5" width="1.03" height="46.63" fill="#ffe1e1"/><rect x="421.96" y="156.5" width="2.03" height="46.63" fill="#ffd8d8"/><rect x="423.96" y="156.5" width="2.03" height="46.63" fill="#ffd7d7"/><rect x="425.96" y="156.5" width="1.03" height="46.63" fill="#ffd8d8"/><rect x="426.96" y="156.5" width="1.03" height="46.63" fill="#ffecec"/><rect x="427.96" y="156.5" width="1.03" height="46.63" fill="#ffe3e3"/><rect x="428.96" y="156.5" width="1.03" height="46.63" fill="#ffd2d2"/><rect x="429.96" y="156.5" width="2.03" height="46.63" fill="#ffdcdc"/><rect x="431.95" y="156.5" width="3.03" height="46.63" fill="#ffd5d5"/><rect x="434.95" y="156.5" width="1.03" height="46.63" fill="#fff1f1"/><rect x="435.95" y="156.5" width="2.03" height="46.63" fill="#ffe1e1"/><rect x="437.95" y="156.5" width="1.03" height="46.63" fill="#ffdbdb"/><rect x="438.95" y="156.5" width="1.03" height="46.63" fill="#ffdada"/><rect x="439.95" y="156.5" width="1.03" height="46.63" fill="#ffcaca"/><rect x="440.95" y="156.5" width="1.03" height="46.63" fill="#ffe2e2"/><rect x="441.95" y="156.5" width="1.03" height="46.63" fill="#ffeaea"/><rect x="442.95" y="156.5" width="1.03" height="46.63" fill="#ffdfdf"/><rect x="443.94" y="156.5" width="2.03" height="46.63" fill="#ffeded"/><rect x="445.94" y="156.5" width="1.03" height="46.63" fill="#ffdfdf"/><rect x="446.94" y="156.5" width="1.03" height="46.63" fill="#ffe5e5"/><rect x="447.94" y="156.5" width="2.03" height="46.63" fill="#ffeaea"/><rect x="449.94" y="156.5" width="1.03" height="46.63" fill="#ffe1e1"/><rect x="450.94" y="156.5" width="1.03" height="46.63" fill="#ffe3e3"/><rect x="451.94" y="156.5" width="3.03" height="46.63" fill="#ffd8d8"/><rect x="454.94" y="156.5" width="1.03" height="46.63" fill="#ffe7e7"/><rect x="455.93" y="156.5" width="1.03" height="46.63" fill="#ffe8e8"/><rect x="456.93" y="156.5" width="2.03" height="46.63" fill="#ffe5e5"/><rect x="458.93" y="156.5" width="1.03" height="46.63" fill="#ffefef"/><rect x="459.93" y="156.5" width="1.03" height="46.63" fill="#ffd9d9"/><rect x="460.93" y="156.5" width="3.03" height="46.63" fill="#ffe1e1"/><rect x="463.93" y="156.5" width="1.03" height="46.63" fill="#ffe6e6"/><rect x="464.93" y="156.5" width="1.03" height="46.63" fill="#ffdbdb"/><rect x="465.93" y="156.5" width="1.03" height="46.63" fill="#ffeaea"/><rect x="466.93" y="156.5" width="1.03" height="46.63" fill="#ffe8e8"/><rect x="467.92" y="156.5" width="1.03" height="46.63" fill="#ffd9d9"/><rect x="468.92" y="156.5" width="3.03" height="46.63" fill="#ffe2e2"/><rect x="471.92" y="156.5" width="1.03" height="46.63" fill="#ffd5d5"/><rect x="472.92" y="156.5" width="1.03" height="46.63" fill="#ffe8e8"/><rect x="473.92" y="156.5" width="2.03" height="46.63" fill="#ffe9e9"/><rect x="475.92" y="156.5" width="1.03" height="46.63" fill="#ffecec"/><rect x="476.92" y="156.5" width="3.03" height="46.63" fill="#ffdada"/><rect x="479.91" y="156.5" width="1.03" height="46.63" fill="#ffe0e0"/><rect x="480.91" y="156.5" width="1.03" height="46.63" fill="#ffe7e7"/><rect x="481.91" y="156.5" width="3.03" height="46.63" fill="#ffe4e4"/><rect x="484.91" y="156.5" width="1.03" height="46.63" fill="#ffe6e6"/><rect x="485.91" y="156.5" width="1.03" height="46.63" fill="#ffe3e3"/><rect x="486.91" y="156.5" width="2.03" height="46.63" fill="#ffe7e7"/><rect x="488.91" y="156.5" width="1.03" height="46.63" fill="#fff2f2"/><rect x="489.91" y="156.5" width="1.03" height="46.63" fill="#ffe5e5"/><rect x="490.91" y="156.5" width="3.03" height="46.63" fill="#fff3f3"/><rect x="493.9" y="156.5" width="1.03" height="46.63" fill="#fffcfc"/><rect x="494.9" y="156.5" width="1.03" height="46.63" fill="#fffdfd"/><rect x="495.9" y="156.5" width="1.03" height="46.63" fill="#ffe1e1"/><rect x="496.9" y="156.5" width="1.03" height="46.63" fill="#ffe6e6"/><rect x="497.9" y="156.5" width="1.03" height="46.63" fill="#fff8f8"/><rect x="498.9" y="156.5" width="2.03" height="46.63" fill="#ffdfdf"/><rect x="500.9" y="156.5" width="1.03" height="46.63" fill="#ffefef"/><rect x="501.9" y="156.5" width="2.03" height="46.63" fill="#fff4f4"/><rect x="503.89" y="156.5" width="1.03" height="46.63" fill="#fff9f9"/><rect x="504.89" y="156.5" width="1.03" height="46.63" fill="#ffe4e4"/><rect x="505.89" y="156.5" width="2.03" height="46.63" fill="#fffefe"/><rect x="507.89" y="156.5" width="1.03" height="46.63" fill="#ffdfdf"/><rect x="508.89" y="156.5" width="1.03" height="46.63" fill="#ffecec"/><rect x="509.89" y="156.5" width="1.03" height="46.63" fill="#ffe3e3"/><rect x="510.89" y="156.5" width="1.03" height="46.63" fill="#fffefe"/><rect x="511.89" y="156.5" width="2.03" height="46.63" fill="#ffffff"/><rect x="513.89" y="156.5" width="2.03" height="46.63" fill="#ffeded"/><rect x="515.88" y="156.5" width="1.03" height="46.63" fill="#ffeeee"/><rect x="516.88" y="156.5" width="1.03" height="46.63" fill="#f6f6ff"/><rect x="517.88" y="156.5" width="1.03" height="46.63" fill="#ffebeb"/><rect x="518.88" y="156.5" width="1.03" height="46.63" fill="#fff7f7"/><rect x="519.88" y="156.5" width="1.03" height="46.63" fill="#ffe6e6"/><rect x="520.88" y="156.5" width="1.03" height="46.63" fill="#fffbfb"/><rect x="521.88" y="156.5" width="1.03" height="46.63" fill="#fff3f3"/><rect x="522.88" y="156.5" width="1.03" height="46.63" fill="#fff1f1"/><rect x="523.88" y="156.5" width="1.03" height="46.63" fill="#ffebeb"/><rect x="524.88" y="156.5" width="1.03" height="46.63" fill="#fff9f9"/><rect x="525.88" y="156.5" width="1.03" height="46.63" fill="#fffbfb"/><rect x="526.88" y="156.5" width="2.03" height="46.63" fill="#fff4f4"/><rect x="528.87" y="156.5" width="1.03" height="46.63" fill="#fff5f5"/><rect x="529.87" y="156.5" width="1.03" height="46.63" fill="#fffafa"/><rect x="530.87" y="156.5" width="1.03" height="46.63" fill="#fff5f5"/><rect x="531.87" y="156.5" width="1.03" height="46.63" fill="#fffbfb"/><rect x="532.87" y="156.5" width="1.03" height="46.63" fill="#fffdfd"/><rect x="533.87" y="156.5" width="1.03" height="46.63" fill="#fffefe"/><rect x="534.87" y="156.5" width="1.03" height="46.63" fill="#fdfdff"/><rect x="535.87" y="156.5" width="1.03" height="46.63" fill="#fffdfd"/><rect x="536.87" y="156.5" width="1.03" height="46.63" fill="#fafaff"/><rect x="537.87" y="156.5" width="1.03" height="46.63" fill="#f7f7ff"/><rect x="538.87" y="156.5" width="1.03" height="46.63" fill="#fffefe"/><rect x="539.86" y="156.5" width="1.03" height="46.63" fill="#f3f3ff"/><rect x="540.86" y="156.5" width="1.03" height="46.63" fill="#fafaff"/><rect x="541.86" y="156.5" width="1.03" height="46.63" fill="#f8f8ff"/><rect x="542.86" y="156.5" width="1.03" height="46.63" fill="#f6f6ff"/><rect x="543.86" y="156.5" width="1.03" height="46.63" fill="#fefeff"/><rect x="544.86" y="156.5" width="1.03" height="46.63" fill="#eeeeff"/><rect x="545.86" y="156.5" width="1.03" height="46.63" fill="#f6f6ff"/><rect x="546.86" y="156.5" width="1.03" height="46.63" fill="#ededff"/><rect x="547.86" y="156.5" width="1.03" height="46.63" fill="#e7e7ff"/><rect x="548.86" y="156.5" width="1.03" height="46.63" fill="#e5e5ff"/><rect x="549.86" y="156.5" width="1.03" height="46.63" fill="#e3e3ff"/><rect x="550.86" y="156.5" width="1.03" height="46.63" fill="#e2e2ff"/><rect x="551.85" y="156.5" width="1.03" height="46.63" fill="#d5d5ff"/><rect x="552.85" y="156.5" width="1.03" height="46.63" fill="#e2e2ff"/><rect x="553.85" y="156.5" width="1.03" height="46.63" fill="#dbdbff"/><rect x="554.85" y="156.5" width="1.03" height="46.63" fill="#e2e2ff"/><rect x="555.85" y="156.5" width="1.03" height="46.63" fill="#e7e7ff"/><rect x="556.85" y="156.5" width="1.03" height="46.63" fill="#e2e2ff"/><rect x="557.85" y="156.5" width="1.03" height="46.63" fill="#e5e5ff"/><rect x="558.85" y="156.5" width="1.03" height="46.63" fill="#d9d9ff"/><rect x="559.85" y="156.5" width="1.03" height="46.63" fill="#dadaff"/><rect x="560.85" y="156.5" width="1.03" height="46.63" fill="#d9d9ff"/><rect x="561.85" y="156.5" width="1.03" height="46.63" fill="#d8d8ff"/><rect x="562.85" y="156.5" width="1.03" height="46.63" fill="#e2e2ff"/><rect x="563.84" y="156.5" width="1.03" height="46.63" fill="#e3e3ff"/><rect x="564.84" y="156.5" width="1.03" height="46.63" fill="#ccccff"/><rect x="565.84" y="156.5" width="1.03" height="46.63" fill="#d1d1ff"/><rect x="566.84" y="156.5" width="1.03" height="46.63" fill="#d2d2ff"/><rect x="567.84" y="156.5" width="1.03" height="46.63" fill="#d1d1ff"/><rect x="568.84" y="156.5" width="1.03" height="46.63" fill="#d3d3ff"/><rect x="569.84" y="156.5" width="1.03" height="46.63" fill="#dadaff"/><rect x="570.84" y="156.5" width="1.03" height="46.63" fill="#cbcbff"/><rect x="571.84" y="156.5" width="1.03" height="46.63" fill="#c7c7ff"/><rect x="572.84" y="156.5" width="1.03" height="46.63" fill="#cfcfff"/><rect x="573.84" y="156.5" width="1.03" height="46.63" fill="#ceceff"/><rect x="574.84" y="156.5" width="1.03" height="46.63" fill="#cacaff"/><rect x="575.83" y="156.5" width="1.03" height="46.63" fill="#d6d6ff"/><rect x="576.83" y="156.5" width="1.03" height="46.63" fill="#c7c7ff"/><rect x="577.83" y="156.5" width="1.03" height="46.63" fill="#c6c6ff"/><rect x="578.83" y="156.5" width="1.03" height="46.63" fill="#c5c5ff"/><rect x="579.83" y="156.5" width="2.03" height="46.63" fill="#b9b9ff"/><rect x="581.83" y="156.5" width="1.03" height="46.63" fill="#b8b8ff"/><rect x="582.83" y="156.5" width="1.03" height="46.63" fill="#c4c4ff"/><rect x="583.83" y="156.5" width="1.03" height="46.63" fill="#c3c3ff"/><rect x="584.83" y="156.5" width="1.03" height="46.63" fill="#c2c2ff"/><rect x="585.83" y="156.5" width="1.03" height="46.63" fill="#cacaff"/><rect x="586.83" y="156.5" width="1.03" height="46.63" fill="#c4c4ff"/><rect x="587.82" y="156.5" width="1.03" height="46.63" fill="#c1c1ff"/><rect x="588.82" y="156.5" width="1.03" height="46.63" fill="#c0c0ff"/><rect x="589.82" y="156.5" width="1.03" height="46.63" fill="#bfbfff"/><rect x="590.82" y="156.5" width="2.03" height="46.63" fill="#c4c4ff"/><rect x="592.82" y="156.5" width="1.03" height="46.63" fill="#babaff"/><rect x="593.82" y="156.5" width="1.03" height="46.63" fill="#a6a6ff"/><rect x="594.82" y="156.5" width="1.03" height="46.63" fill="#b3b3ff"/><rect x="595.82" y="156.5" width="1.03" height="46.63" fill="#b2b2ff"/><rect x="596.82" y="156.5" width="1.03" height="46.63" fill="#c6c6ff"/><rect x="597.82" y="156.5" width="1.03" height="46.63" fill="#a5a5ff"/><rect x="598.82" y="156.5" width="1.03" height="46.63" fill="#a6a6ff"/><rect x="599.81" y="156.5" width="1.03" height="46.63" fill="#adadff"/><rect x="600.81" y="156.5" width="1.03" height="46.63" fill="#acacff"/><rect x="601.81" y="156.5" width="1.03" height="46.63" fill="#b9b9ff"/><rect x="602.81" y="156.5" width="1.03" height="46.63" fill="#b8b8ff"/><rect x="603.81" y="156.5" width="1.03" height="46.63" fill="#b7b7ff"/><rect x="604.81" y="156.5" width="1.03" height="46.63" fill="#afafff"/><rect x="605.81" y="156.5" width="1.03" height="46.63" fill="#aaaaff"/><rect x="606.81" y="156.5" width="1.03" height="46.63" fill="#9a9aff"/><rect x="607.81" y="156.5" width="1.03" height="46.63" fill="#b8b8ff"/><rect x="608.81" y="156.5" width="1.03" height="46.63" fill="#b6b6ff"/><rect x="609.81" y="156.5" width="2.03" height="46.63" fill="#b5b5ff"/><rect x="611.8" y="156.5" width="1.03" height="46.63" fill="#aaaaff"/><rect x="612.8" y="156.5" width="1.03" height="46.63" fill="#b4b4ff"/><rect x="613.8" y="156.5" width="1.03" height="46.63" fill="#b3b3ff"/><rect x="614.8" y="156.5" width="3.03" height="46.63" fill="#5959ff"/></g>
<g shape-rendering="crispEdges" filter="url(#hblur)"><rect x="377" y="203.1" width="1.03" height="46.93" fill="#ffb2b2"/><rect x="378" y="203.1" width="2.03" height="46.93" fill="#ffaeae"/><rect x="380" y="203.1" width="2.03" height="46.93" fill="#ffa6a6"/><rect x="382" y="203.1" width="2.03" height="46.93" fill="#ffb1b1"/><rect x="383.99" y="203.1" width="1.03" height="46.93" fill="#ffbdbd"/><rect x="384.99" y="203.1" width="1.03" height="46.93" fill="#ffd7d7"/><rect x="385.99" y="203.1" width="2.03" height="46.93" fill="#ffbfbf"/><rect x="387.99" y="203.1" width="1.03" height="46.93" fill="#ffc4c4"/><rect x="388.99" y="203.1" width="2.03" height="46.93" fill="#ffdddd"/><rect x="390.99" y="203.1" width="1.03" height="46.93" fill="#ffd2d2"/><rect x="391.99" y="203.1" width="1.03" height="46.93" fill="#ffb9b9"/><rect x="392.99" y="203.1" width="1.03" height="46.93" fill="#ffdbdb"/><rect x="393.99" y="203.1" width="1.03" height="46.93" fill="#ffbfbf"/><rect x="394.99" y="203.1" width="3.03" height="46.93" fill="#ffcdcd"/><rect x="397.98" y="203.1" width="1.03" height="46.93" fill="#ffc6c6"/><rect x="398.98" y="203.1" width="1.03" height="46.93" fill="#ffc5c5"/><rect x="399.98" y="203.1" width="2.03" height="46.93" fill="#ffcdcd"/><rect x="401.98" y="203.1" width="2.03" height="46.93" fill="#ffd5d5"/><rect x="403.98" y="203.1" width="1.03" height="46.93" fill="#ffcaca"/><rect x="404.98" y="203.1" width="2.03" height="46.93" fill="#ffc7c7"/><rect x="406.98" y="203.1" width="1.03" height="46.93" fill="#fff1f1"/><rect x="407.97" y="203.1" width="1.03" height="46.93" fill="#ffc7c7"/><rect x="408.97" y="203.1" width="1.03" height="46.93" fill="#ffd2d2"/><rect x="409.97" y="203.1" width="2.03" height="46.93" fill="#ffd6d6"/><rect x="411.97" y="203.1" width="1.03" height="46.93" fill="#ffd8d8"/><rect x="412.97" y="203.1" width="1.03" height="46.93" fill="#ffd9d9"/><rect x="413.97" y="203.1" width="1.03" height="46.93" fill="#ffdada"/><rect x="414.97" y="203.1" width="1.03" height="46.93" fill="#ffd8d8"/><rect x="415.97" y="203.1" width="2.03" height="46.93" fill="#ffc7c7"/><rect x="417.97" y="203.1" width="1.03" height="46.93" fill="#ffd5d5"/><rect x="418.97" y="203.1" width="1.03" height="46.93" fill="#ffdbdb"/><rect x="419.96" y="203.1" width="2.03" height="46.93" fill="#ffc3c3"/><rect x="421.96" y="203.1" width="2.03" height="46.93" fill="#ffc4c4"/><rect x="423.96" y="203.1" width="1.03" height="46.93" fill="#ffc5c5"/><rect x="424.96" y="203.1" width="2.03" height="46.93" fill="#ffbfbf"/><rect x="426.96" y="203.1" width="1.03" height="46.93" fill="#ffc6c6"/><rect x="427.96" y="203.1" width="1.03" height="46.93" fill="#ffd8d8"/><rect x="428.96" y="203.1" width="1.03" height="46.93" fill="#ffdddd"/><rect x="429.96" y="203.1" width="1.03" height="46.93" fill="#ffe5e5"/><rect x="430.96" y="203.1" width="1.03" height="46.93" fill="#fffafa"/><rect x="431.95" y="203.1" width="1.03" height="46.93" fill="#ffd9d9"/><rect x="432.95" y="203.1" width="1.03" height="46.93" fill="#ffe8e8"/><rect x="433.95" y="203.1" width="2.03" height="46.93" fill="#ffe0e0"/><rect x="435.95" y="203.1" width="1.03" height="46.93" fill="#ffebeb"/><rect x="436.95" y="203.1" width="1.03" height="46.93" fill="#ffeaea"/><rect x="437.95" y="203.1" width="1.03" height="46.93" fill="#fff0f0"/><rect x="438.95" y="203.1" width="1.03" height="46.93" fill="#ffe4e4"/><rect x="439.95" y="203.1" width="2.03" height="46.93" fill="#fff1f1"/><rect x="441.95" y="203.1" width="2.03" height="46.93" fill="#ffecec"/><rect x="443.94" y="203.1" width="1.03" height="46.93" fill="#ffe1e1"/><rect x="444.94" y="203.1" width="2.03" height="46.93" fill="#ffe5e5"/><rect x="446.94" y="203.1" width="1.03" height="46.93" fill="#fff4f4"/><rect x="447.94" y="203.1" width="3.03" height="46.93" fill="#ffebeb"/><rect x="450.94" y="203.1" width="1.03" height="46.93" fill="#fff1f1"/><rect x="451.94" y="203.1" width="2.03" height="46.93" fill="#ffc6c6"/><rect x="453.94" y="203.1" width="2.03" height="46.93" fill="#ffe7e7"/><rect x="455.93" y="203.1" width="1.03" height="46.93" fill="#ffdede"/><rect x="456.93" y="203.1" width="2.03" height="46.93" fill="#ffefef"/><rect x="458.93" y="203.1" width="2.03" height="46.93" fill="#fff1f1"/><rect x="460.93" y="203.1" width="1.03" height="46.93" fill="#ffe9e9"/><rect x="461.93" y="203.1" width="1.03" height="46.93" fill="#ffdddd"/><rect x="462.93" y="203.1" width="1.03" height="46.93" fill="#ffeaea"/><rect x="463.93" y="203.1" width="2.03" height="46.93" fill="#ffe0e0"/><rect x="465.93" y="203.1" width="1.03" height="46.93" fill="#ffe1e1"/><rect x="466.93" y="203.1" width="2.03" height="46.93" fill="#ffdfdf"/><rect x="468.92" y="203.1" width="2.03" height="46.93" fill="#fff6f6"/><rect x="470.92" y="203.1" width="1.03" height="46.93" fill="#ffdfdf"/><rect x="471.92" y="203.1" width="2.03" height="46.93" fill="#fff1f1"/><rect x="473.92" y="203.1" width="1.03" height="46.93" fill="#fff5f5"/><rect x="474.92" y="203.1" width="1.03" height="46.93" fill="#fffbfb"/><rect x="475.92" y="203.1" width="1.03" height="46.93" fill="#fffafa"/><rect x="476.92" y="203.1" width="1.03" height="46.93" fill="#ffeeee"/><rect x="477.92" y="203.1" width="1.03" height="46.93" fill="#ffefef"/><rect x="478.92" y="203.1" width="1.03" height="46.93" fill="#ffe8e8"/><rect x="479.91" y="203.1" width="1.03" height="46.93" fill="#ffeded"/><rect x="480.91" y="203.1" width="1.03" height="46.93" fill="#ffeeee"/><rect x="481.91" y="203.1" width="5.03" height="46.93" fill="#ffefef"/><rect x="486.91" y="203.1" width="1.03" height="46.93" fill="#fff1f1"/><rect x="487.91" y="203.1" width="1.03" height="46.93" fill="#fff8f8"/><rect x="488.91" y="203.1" width="1.03" height="46.93" fill="#ffecec"/><rect x="489.91" y="203.1" width="1.03" height="46.93" fill="#ffeded"/><rect x="490.91" y="203.1" width="1.03" height="46.93" fill="#ffe8e8"/><rect x="491.9" y="203.1" width="1.03" height="46.93" fill="#ffe9e9"/><rect x="492.9" y="203.1" width="1.03" height="46.93" fill="#ffe8e8"/><rect x="493.9" y="203.1" width="1.03" height="46.93" fill="#ffffff"/><rect x="494.9" y="203.1" width="1.03" height="46.93" fill="#ffeaea"/><rect x="495.9" y="203.1" width="1.03" height="46.93" fill="#fff4f4"/><rect x="496.9" y="203.1" width="1.03" height="46.93" fill="#ffe2e2"/><rect x="497.9" y="203.1" width="1.03" height="46.93" fill="#fffafa"/><rect x="498.9" y="203.1" width="1.03" height="46.93" fill="#ffeded"/><rect x="499.9" y="203.1" width="1.03" height="46.93" fill="#ffefef"/><rect x="500.9" y="203.1" width="2.03" height="46.93" fill="#ffe7e7"/><rect x="502.9" y="203.1" width="1.03" height="46.93" fill="#fffbfb"/><rect x="503.89" y="203.1" width="2.03" height="46.93" fill="#fffcfc"/><rect x="505.89" y="203.1" width="1.03" height="46.93" fill="#ffebeb"/><rect x="506.89" y="203.1" width="1.03" height="46.93" fill="#fff7f7"/><rect x="507.89" y="203.1" width="2.03" height="46.93" fill="#fff8f8"/><rect x="509.89" y="203.1" width="1.03" height="46.93" fill="#fffafa"/><rect x="510.89" y="203.1" width="1.03" height="46.93" fill="#fff2f2"/><rect x="511.89" y="203.1" width="1.03" height="46.93" fill="#fff3f3"/><rect x="512.89" y="203.1" width="2.03" height="46.93" fill="#f5f5ff"/><rect x="514.89" y="203.1" width="1.03" height="46.93" fill="#f4f4ff"/><rect x="515.88" y="203.1" width="1.03" height="46.93" fill="#fff3f3"/><rect x="516.88" y="203.1" width="1.03" height="46.93" fill="#fefeff"/><rect x="517.88" y="203.1" width="1.03" height="46.93" fill="#fff9f9"/><rect x="518.88" y="203.1" width="1.03" height="46.93" fill="#fcfcff"/><rect x="519.88" y="203.1" width="1.03" height="46.93" fill="#f7f7ff"/><rect x="520.88" y="203.1" width="1.03" height="46.93" fill="#f4f4ff"/><rect x="521.88" y="203.1" width="1.03" height="46.93" fill="#f3f3ff"/><rect x="522.88" y="203.1" width="1.03" height="46.93" fill="#f2f2ff"/><rect x="523.88" y="203.1" width="2.03" height="46.93" fill="#fff1f1"/><rect x="525.88" y="203.1" width="1.03" height="46.93" fill="#ffeaea"/><rect x="526.88" y="203.1" width="1.03" height="46.93" fill="#fff8f8"/><rect x="527.87" y="203.1" width="1.03" height="46.93" fill="#fafaff"/><rect x="528.87" y="203.1" width="1.03" height="46.93" fill="#f9f9ff"/><rect x="529.87" y="203.1" width="1.03" height="46.93" fill="#fff7f7"/><rect x="530.87" y="203.1" width="1.03" height="46.93" fill="#fefeff"/><rect x="531.87" y="203.1" width="1.03" height="46.93" fill="#fafaff"/><rect x="532.87" y="203.1" width="1.03" height="46.93" fill="#f9f9ff"/><rect x="533.87" y="203.1" width="1.03" height="46.93" fill="#f0f0ff"/><rect x="534.87" y="203.1" width="1.03" height="46.93" fill="#f8f8ff"/><rect x="535.87" y="203.1" width="1.03" height="46.93" fill="#f7f7ff"/><rect x="536.87" y="203.1" width="1.03" height="46.93" fill="#f6f6ff"/><rect x="537.87" y="203.1" width="1.03" height="46.93" fill="#fdfdff"/><rect x="538.87" y="203.1" width="1.03" height="46.93" fill="#fbfbff"/><rect x="539.86" y="203.1" width="1.03" height="46.93" fill="#ececff"/><rect x="540.86" y="203.1" width="1.03" height="46.93" fill="#ebebff"/><rect x="541.86" y="203.1" width="1.03" height="46.93" fill="#f6f6ff"/><rect x="542.86" y="203.1" width="1.03" height="46.93" fill="#e9e9ff"/><rect x="543.86" y="203.1" width="1.03" height="46.93" fill="#e3e3ff"/><rect x="544.86" y="203.1" width="1.03" height="46.93" fill="#e2e2ff"/><rect x="545.86" y="203.1" width="2.03" height="46.93" fill="#e1e1ff"/><rect x="547.86" y="203.1" width="1.03" height="46.93" fill="#e4e4ff"/><rect x="548.86" y="203.1" width="1.03" height="46.93" fill="#e3e3ff"/><rect x="549.86" y="203.1" width="1.03" height="46.93" fill="#e0e0ff"/><rect x="550.86" y="203.1" width="1.03" height="46.93" fill="#ddddff"/><rect x="551.85" y="203.1" width="1.03" height="46.93" fill="#dcdcff"/><rect x="552.85" y="203.1" width="1.03" height="46.93" fill="#dbdbff"/><rect x="553.85" y="203.1" width="1.03" height="46.93" fill="#d6d6ff"/><rect x="554.85" y="203.1" width="1.03" height="46.93" fill="#d5d5ff"/><rect x="555.85" y="203.1" width="1.03" height="46.93" fill="#d3d3ff"/><rect x="556.85" y="203.1" width="1.03" height="46.93" fill="#c9c9ff"/><rect x="557.85" y="203.1" width="1.03" height="46.93" fill="#e1e1ff"/><rect x="558.85" y="203.1" width="1.03" height="46.93" fill="#e7e7ff"/><rect x="559.85" y="203.1" width="1.03" height="46.93" fill="#dbdbff"/><rect x="560.85" y="203.1" width="1.03" height="46.93" fill="#d8d8ff"/><rect x="561.85" y="203.1" width="1.03" height="46.93" fill="#ddddff"/><rect x="562.85" y="203.1" width="1.03" height="46.93" fill="#c5c5ff"/><rect x="563.84" y="203.1" width="2.03" height="46.93" fill="#c4c4ff"/><rect x="565.84" y="203.1" width="1.03" height="46.93" fill="#e4e4ff"/><rect x="566.84" y="203.1" width="1.03" height="46.93" fill="#d3d3ff"/><rect x="567.84" y="203.1" width="1.03" height="46.93" fill="#d2d2ff"/><rect x="568.84" y="203.1" width="1.03" height="46.93" fill="#d8d8ff"/><rect x="569.84" y="203.1" width="2.03" height="46.93" fill="#dcdcff"/><rect x="571.84" y="203.1" width="1.03" height="46.93" fill="#dbdbff"/><rect x="572.84" y="203.1" width="1.03" height="46.93" fill="#c9c9ff"/><rect x="573.84" y="203.1" width="1.03" height="46.93" fill="#e6e6ff"/><rect x="574.84" y="203.1" width="1.03" height="46.93" fill="#dcdcff"/><rect x="575.83" y="203.1" width="1.03" height="46.93" fill="#c5c5ff"/><rect x="576.83" y="203.1" width="1.03" height="46.93" fill="#c4c4ff"/><rect x="577.83" y="203.1" width="1.03" height="46.93" fill="#c1c1ff"/><rect x="578.83" y="203.1" width="1.03" height="46.93" fill="#cacaff"/><rect x="579.83" y="203.1" width="1.03" height="46.93" fill="#b1b1ff"/><rect x="580.83" y="203.1" width="1.03" height="46.93" fill="#c9c9ff"/><rect x="581.83" y="203.1" width="1.03" height="46.93" fill="#c3c3ff"/><rect x="582.83" y="203.1" width="1.03" height="46.93" fill="#c4c4ff"/><rect x="583.83" y="203.1" width="1.03" height="46.93" fill="#b5b5ff"/><rect x="584.83" y="203.1" width="1.03" height="46.93" fill="#bfbfff"/><rect x="585.83" y="203.1" width="1.03" height="46.93" fill="#d0d0ff"/><rect x="586.83" y="203.1" width="1.03" height="46.93" fill="#c5c5ff"/><rect x="587.82" y="203.1" width="1.03" height="46.93" fill="#bcbcff"/><rect x="588.82" y="203.1" width="1.03" height="46.93" fill="#babaff"/><rect x="589.82" y="203.1" width="1.03" height="46.93" fill="#c0c0ff"/><rect x="590.82" y="203.1" width="1.03" height="46.93" fill="#b3b3ff"/><rect x="591.82" y="203.1" width="2.03" height="46.93" fill="#babaff"/><rect x="593.82" y="203.1" width="1.03" height="46.93" fill="#b9b9ff"/><rect x="594.82" y="203.1" width="1.03" height="46.93" fill="#c0c0ff"/><rect x="595.82" y="203.1" width="1.03" height="46.93" fill="#b7b7ff"/><rect x="596.82" y="203.1" width="1.03" height="46.93" fill="#9f9fff"/><rect x="597.82" y="203.1" width="1.03" height="46.93" fill="#9d9dff"/><rect x="598.82" y="203.1" width="1.03" height="46.93" fill="#9c9cff"/><rect x="599.81" y="203.1" width="1.03" height="46.93" fill="#acacff"/><rect x="600.81" y="203.1" width="1.03" height="46.93" fill="#ababff"/><rect x="601.81" y="203.1" width="1.03" height="46.93" fill="#b8b8ff"/><rect x="602.81" y="203.1" width="1.03" height="46.93" fill="#b6b6ff"/><rect x="603.81" y="203.1" width="1.03" height="46.93" fill="#c6c6ff"/><rect x="604.81" y="203.1" width="1.03" height="46.93" fill="#c5c5ff"/><rect x="605.81" y="203.1" width="1.03" height="46.93" fill="#c4c4ff"/><rect x="606.81" y="203.1" width="1.03" height="46.93" fill="#a5a5ff"/><rect x="607.81" y="203.1" width="1.03" height="46.93" fill="#bebeff"/><rect x="608.81" y="203.1" width="1.03" height="46.93" fill="#9a9aff"/><rect x="609.81" y="203.1" width="1.03" height="46.93" fill="#9292ff"/><rect x="610.81" y="203.1" width="1.03" height="46.93" fill="#9797ff"/><rect x="611.8" y="203.1" width="1.03" height="46.93" fill="#9f9fff"/><rect x="612.8" y="203.1" width="1.03" height="46.93" fill="#9e9eff"/><rect x="613.8" y="203.1" width="1.03" height="46.93" fill="#a2a2ff"/><rect x="614.8" y="203.1" width="1.03" height="46.93" fill="#a7a7ff"/><rect x="615.8" y="203.1" width="1.03" height="46.93" fill="#a3a3ff"/><rect x="616.8" y="203.1" width="1.03" height="46.93" fill="#a1a1ff"/></g>
<text x="620.8" y="41.15" font-size="8.0" font-family="Liberation Sans, sans-serif" fill="#000" text-anchor="start"  stroke="#000" stroke-width="0.18">HSP_Score</text>
<text x="620.8" y="88.05" font-size="8.0" font-family="Liberation Sans, sans-serif" fill="#000" text-anchor="start"  stroke="#000" stroke-width="0.18">HSPA5</text>
<text x="620.8" y="134.95" font-size="8.0" font-family="Liberation Sans, sans-serif" fill="#000" text-anchor="start"  stroke="#000" stroke-width="0.18">DNAJC5B</text>
<text x="620.8" y="181.7" font-size="8.0" font-family="Liberation Sans, sans-serif" fill="#000" text-anchor="start"  stroke="#000" stroke-width="0.18">DNAJC12</text>
<text x="620.8" y="228.45" font-size="8.0" font-family="Liberation Sans, sans-serif" fill="#000" text-anchor="start"  stroke="#000" stroke-width="0.18">DNAJB12</text>
<defs><linearGradient id="gB" x1="0" y1="0" x2="0" y2="1"><stop offset="0" stop-color="#ff0000"/><stop offset="0.5" stop-color="#ffffff"/><stop offset="1" stop-color="#0000ff"/></linearGradient></defs>
<rect x="670" y="15.9" width="5.4" height="61.6" fill="url(#gB)"/>
<text x="677.8" y="24.4" font-size="4.8" font-family="Liberation Sans, sans-serif" fill="#333">4</text>
<text x="677.8" y="36.6" font-size="4.8" font-family="Liberation Sans, sans-serif" fill="#333">2</text>
<text x="677.8" y="49" font-size="4.8" font-family="Liberation Sans, sans-serif" fill="#333">0</text>
<text x="677.8" y="61.2" font-size="4.8" font-family="Liberation Sans, sans-serif" fill="#333">&#8722;2</text>
<text x="677.8" y="73.6" font-size="4.8" font-family="Liberation Sans, sans-serif" fill="#333">&#8722;4</text>
<text transform="translate(354.9,274.9) scale(1.1,1)" font-size="18.5" font-family="Liberation Serif, serif" fill="#000">D</text>
<g shape-rendering="crispEdges" filter="url(#hblur)"><rect x="377.2" y="282.8" width="3.03" height="46.73" fill="#b8b8ff"/><rect x="380.2" y="282.8" width="1.03" height="46.73" fill="#c2c2ff"/><rect x="381.19" y="282.8" width="5.02" height="46.73" fill="#c7c7ff"/><rect x="386.19" y="282.8" width="1.03" height="46.73" fill="#c9c9ff"/><rect x="387.18" y="282.8" width="1.03" height="46.73" fill="#ccccff"/><rect x="388.18" y="282.8" width="1.03" height="46.73" fill="#cfcfff"/><rect x="389.18" y="282.8" width="1.03" height="46.73" fill="#d3d3ff"/><rect x="390.18" y="282.8" width="10.01" height="46.73" fill="#d4d4ff"/><rect x="400.16" y="282.8" width="12.01" height="46.73" fill="#d5d5ff"/><rect x="412.14" y="282.8" width="8.02" height="46.73" fill="#d6d6ff"/><rect x="420.13" y="282.8" width="2.03" height="46.73" fill="#d7d7ff"/><rect x="422.13" y="282.8" width="2.03" height="46.73" fill="#d8d8ff"/><rect x="424.12" y="282.8" width="2.03" height="46.73" fill="#d9d9ff"/><rect x="426.12" y="282.8" width="2.03" height="46.73" fill="#dadaff"/><rect x="428.12" y="282.8" width="3.03" height="46.73" fill="#dbdbff"/><rect x="431.11" y="282.8" width="3.03" height="46.73" fill="#dcdcff"/><rect x="434.11" y="282.8" width="3.03" height="46.73" fill="#ddddff"/><rect x="437.1" y="282.8" width="4.02" height="46.73" fill="#dedeff"/><rect x="441.09" y="282.8" width="3.03" height="46.73" fill="#dfdfff"/><rect x="444.09" y="282.8" width="4.02" height="46.73" fill="#e0e0ff"/><rect x="448.08" y="282.8" width="3.03" height="46.73" fill="#e1e1ff"/><rect x="451.08" y="282.8" width="3.03" height="46.73" fill="#e2e2ff"/><rect x="454.07" y="282.8" width="5.02" height="46.73" fill="#e3e3ff"/><rect x="459.06" y="282.8" width="4.02" height="46.73" fill="#e4e4ff"/><rect x="463.06" y="282.8" width="5.02" height="46.73" fill="#e5e5ff"/><rect x="468.05" y="282.8" width="5.02" height="46.73" fill="#e6e6ff"/><rect x="473.04" y="282.8" width="4.02" height="46.73" fill="#e7e7ff"/><rect x="477.03" y="282.8" width="4.02" height="46.73" fill="#e8e8ff"/><rect x="481.03" y="282.8" width="2.03" height="46.73" fill="#e9e9ff"/><rect x="483.02" y="282.8" width="2.03" height="46.73" fill="#eaeaff"/><rect x="485.02" y="282.8" width="2.03" height="46.73" fill="#ebebff"/><rect x="487.02" y="282.8" width="2.03" height="46.73" fill="#ececff"/><rect x="489.01" y="282.8" width="2.03" height="46.73" fill="#ededff"/><rect x="491.01" y="282.8" width="2.03" height="46.73" fill="#eeeeff"/><rect x="493.01" y="282.8" width="2.03" height="46.73" fill="#efefff"/><rect x="495" y="282.8" width="1.03" height="46.73" fill="#f0f0ff"/><rect x="496" y="282.8" width="1.03" height="46.73" fill="#f2f2ff"/><rect x="497" y="282.8" width="1.03" height="46.73" fill="#f4f4ff"/><rect x="498" y="282.8" width="1.03" height="46.73" fill="#f5f5ff"/><rect x="499" y="282.8" width="2.03" height="46.73" fill="#f7f7ff"/><rect x="501" y="282.8" width="5.02" height="46.73" fill="#f8f8ff"/><rect x="505.99" y="282.8" width="5.02" height="46.73" fill="#f9f9ff"/><rect x="510.98" y="282.8" width="6.02" height="46.73" fill="#fafaff"/><rect x="516.97" y="282.8" width="4.02" height="46.73" fill="#fbfbff"/><rect x="520.96" y="282.8" width="3.03" height="46.73" fill="#fcfcff"/><rect x="523.96" y="282.8" width="2.03" height="46.73" fill="#fdfdff"/><rect x="525.95" y="282.8" width="3.03" height="46.73" fill="#fefeff"/><rect x="528.95" y="282.8" width="2.03" height="46.73" fill="#ffffff"/><rect x="530.95" y="282.8" width="1.03" height="46.73" fill="#fffefe"/><rect x="531.94" y="282.8" width="1.03" height="46.73" fill="#fffdfd"/><rect x="532.94" y="282.8" width="1.03" height="46.73" fill="#fffcfc"/><rect x="533.94" y="282.8" width="1.03" height="46.73" fill="#fffbfb"/><rect x="534.94" y="282.8" width="2.03" height="46.73" fill="#fffafa"/><rect x="536.94" y="282.8" width="2.03" height="46.73" fill="#fff9f9"/><rect x="538.93" y="282.8" width="2.03" height="46.73" fill="#fff8f8"/><rect x="540.93" y="282.8" width="1.03" height="46.73" fill="#fff7f7"/><rect x="541.93" y="282.8" width="2.03" height="46.73" fill="#fff6f6"/><rect x="543.92" y="282.8" width="2.03" height="46.73" fill="#fff5f5"/><rect x="545.92" y="282.8" width="2.03" height="46.73" fill="#fff4f4"/><rect x="547.92" y="282.8" width="2.03" height="46.73" fill="#fff3f3"/><rect x="549.91" y="282.8" width="2.03" height="46.73" fill="#fff2f2"/><rect x="551.91" y="282.8" width="2.03" height="46.73" fill="#fff1f1"/><rect x="553.91" y="282.8" width="1.03" height="46.73" fill="#fff0f0"/><rect x="554.91" y="282.8" width="2.03" height="46.73" fill="#ffefef"/><rect x="556.9" y="282.8" width="1.03" height="46.73" fill="#ffeeee"/><rect x="557.9" y="282.8" width="1.03" height="46.73" fill="#ffeded"/><rect x="558.9" y="282.8" width="2.03" height="46.73" fill="#ffecec"/><rect x="560.9" y="282.8" width="1.03" height="46.73" fill="#ffebeb"/><rect x="561.89" y="282.8" width="1.03" height="46.73" fill="#ffeaea"/><rect x="562.89" y="282.8" width="2.03" height="46.73" fill="#ffe9e9"/><rect x="564.89" y="282.8" width="1.03" height="46.73" fill="#ffe8e8"/><rect x="565.89" y="282.8" width="1.03" height="46.73" fill="#ffe7e7"/><rect x="566.89" y="282.8" width="1.03" height="46.73" fill="#ffe6e6"/><rect x="567.88" y="282.8" width="2.03" height="46.73" fill="#ffe5e5"/><rect x="569.88" y="282.8" width="1.03" height="46.73" fill="#ffe4e4"/><rect x="570.88" y="282.8" width="1.03" height="46.73" fill="#ffe3e3"/><rect x="571.88" y="282.8" width="2.03" height="46.73" fill="#ffe2e2"/><rect x="573.87" y="282.8" width="1.03" height="46.73" fill="#ffe1e1"/><rect x="574.87" y="282.8" width="1.03" height="46.73" fill="#ffe0e0"/><rect x="575.87" y="282.8" width="1.03" height="46.73" fill="#ffdfdf"/><rect x="576.87" y="282.8" width="2.03" height="46.73" fill="#ffdede"/><rect x="578.87" y="282.8" width="1.03" height="46.73" fill="#ffdddd"/><rect x="579.86" y="282.8" width="1.03" height="46.73" fill="#ffdcdc"/><rect x="580.86" y="282.8" width="1.03" height="46.73" fill="#ffdbdb"/><rect x="581.86" y="282.8" width="1.03" height="46.73" fill="#ffdada"/><rect x="582.86" y="282.8" width="1.03" height="46.73" fill="#ffd9d9"/><rect x="583.86" y="282.8" width="2.03" height="46.73" fill="#ffd8d8"/><rect x="585.85" y="282.8" width="1.03" height="46.73" fill="#ffd7d7"/><rect x="586.85" y="282.8" width="1.03" height="46.73" fill="#ffd6d6"/><rect x="587.85" y="282.8" width="1.03" height="46.73" fill="#ffd5d5"/><rect x="588.85" y="282.8" width="1.03" height="46.73" fill="#ffd4d4"/><rect x="589.85" y="282.8" width="1.03" height="46.73" fill="#ffd3d3"/><rect x="590.85" y="282.8" width="1.03" height="46.73" fill="#ffd2d2"/><rect x="591.84" y="282.8" width="1.03" height="46.73" fill="#ffd1d1"/><rect x="592.84" y="282.8" width="1.03" height="46.73" fill="#ffcfcf"/><rect x="593.84" y="282.8" width="1.03" height="46.73" fill="#ffcece"/><rect x="594.84" y="282.8" width="1.03" height="46.73" fill="#ffcdcd"/><rect x="595.84" y="282.8" width="1.03" height="46.73" fill="#ffcccc"/><rect x="596.84" y="282.8" width="1.03" height="46.73" fill="#ffcaca"/><rect x="597.83" y="282.8" width="1.03" height="46.73" fill="#ffc9c9"/><rect x="598.83" y="282.8" width="1.03" height="46.73" fill="#ffc8c8"/><rect x="599.83" y="282.8" width="1.03" height="46.73" fill="#ffc6c6"/><rect x="600.83" y="282.8" width="1.03" height="46.73" fill="#ffc4c4"/><rect x="601.83" y="282.8" width="1.03" height="46.73" fill="#ffc2c2"/><rect x="602.83" y="282.8" width="1.03" height="46.73" fill="#ffc0c0"/><rect x="603.82" y="282.8" width="1.03" height="46.73" fill="#ffbebe"/><rect x="604.82" y="282.8" width="1.03" height="46.73" fill="#ffbcbc"/><rect x="605.82" y="282.8" width="1.03" height="46.73" fill="#ffbaba"/><rect x="606.82" y="282.8" width="1.03" height="46.73" fill="#ffb8b8"/><rect x="607.82" y="282.8" width="1.03" height="46.73" fill="#ffb6b6"/><rect x="608.82" y="282.8" width="1.03" height="46.73" fill="#ffb4b4"/><rect x="609.81" y="282.8" width="1.03" height="46.73" fill="#ffb0b0"/><rect x="610.81" y="282.8" width="1.03" height="46.73" fill="#ffa8a8"/><rect x="611.81" y="282.8" width="1.03" height="46.73" fill="#ffa1a1"/><rect x="612.81" y="282.8" width="1.03" height="46.73" fill="#ff9999"/><rect x="613.81" y="282.8" width="1.03" height="46.73" fill="#ff9292"/><rect x="614.81" y="282.8" width="1.03" height="46.73" fill="#ff8a8a"/><rect x="615.8" y="282.8" width="1.03" height="46.73" fill="#ff8484"/><rect x="616.8" y="282.8" width="2.03" height="46.73" fill="#ff2626"/></g>
<g shape-rendering="crispEdges" filter="url(#hblur)"><rect x="377.2" y="329.5" width="2.03" height="46.53" fill="#d0d0ff"/><rect x="379.2" y="329.5" width="2.03" height="46.53" fill="#d8d8ff"/><rect x="381.19" y="329.5" width="1.03" height="46.53" fill="#c8c8ff"/><rect x="382.19" y="329.5" width="1.03" height="46.53" fill="#d9d9ff"/><rect x="383.19" y="329.5" width="1.03" height="46.53" fill="#dadaff"/><rect x="384.19" y="329.5" width="1.03" height="46.53" fill="#dcdcff"/><rect x="385.19" y="329.5" width="1.03" height="46.53" fill="#dadaff"/><rect x="386.19" y="329.5" width="1.03" height="46.53" fill="#e3e3ff"/><rect x="387.18" y="329.5" width="1.03" height="46.53" fill="#e4e4ff"/><rect x="388.18" y="329.5" width="1.03" height="46.53" fill="#d6d6ff"/><rect x="389.18" y="329.5" width="2.03" height="46.53" fill="#ddddff"/><rect x="391.18" y="329.5" width="2.03" height="46.53" fill="#e1e1ff"/><rect x="393.17" y="329.5" width="1.03" height="46.53" fill="#e3e3ff"/><rect x="394.17" y="329.5" width="1.03" height="46.53" fill="#e8e8ff"/><rect x="395.17" y="329.5" width="2.03" height="46.53" fill="#dbdbff"/><rect x="397.17" y="329.5" width="1.03" height="46.53" fill="#d6d6ff"/><rect x="398.17" y="329.5" width="1.03" height="46.53" fill="#eeeeff"/><rect x="399.16" y="329.5" width="1.03" height="46.53" fill="#e0e0ff"/><rect x="400.16" y="329.5" width="1.03" height="46.53" fill="#ededff"/><rect x="401.16" y="329.5" width="2.03" height="46.53" fill="#e1e1ff"/><rect x="403.16" y="329.5" width="1.03" height="46.53" fill="#d8d8ff"/><rect x="404.16" y="329.5" width="1.03" height="46.53" fill="#dbdbff"/><rect x="405.15" y="329.5" width="1.03" height="46.53" fill="#e3e3ff"/><rect x="406.15" y="329.5" width="2.03" height="46.53" fill="#d2d2ff"/><rect x="408.15" y="329.5" width="1.03" height="46.53" fill="#d5d5ff"/><rect x="409.15" y="329.5" width="1.03" height="46.53" fill="#d6d6ff"/><rect x="410.15" y="329.5" width="1.03" height="46.53" fill="#ddddff"/><rect x="411.14" y="329.5" width="3.03" height="46.53" fill="#f0f0ff"/><rect x="414.14" y="329.5" width="2.03" height="46.53" fill="#e4e4ff"/><rect x="416.14" y="329.5" width="3.03" height="46.53" fill="#eaeaff"/><rect x="419.13" y="329.5" width="1.03" height="46.53" fill="#dfdfff"/><rect x="420.13" y="329.5" width="1.03" height="46.53" fill="#d2d2ff"/><rect x="421.13" y="329.5" width="1.03" height="46.53" fill="#e1e1ff"/><rect x="422.13" y="329.5" width="1.03" height="46.53" fill="#e2e2ff"/><rect x="423.12" y="329.5" width="1.03" height="46.53" fill="#e1e1ff"/><rect x="424.12" y="329.5" width="1.03" height="46.53" fill="#cdcdff"/><rect x="425.12" y="329.5" width="1.03" height="46.53" fill="#ceceff"/><rect x="426.12" y="329.5" width="1.03" height="46.53" fill="#dcdcff"/><rect x="427.12" y="329.5" width="2.03" height="46.53" fill="#ddddff"/><rect x="429.11" y="329.5" width="1.03" height="46.53" fill="#dfdfff"/><rect x="430.11" y="329.5" width="1.03" height="46.53" fill="#e0e0ff"/><rect x="431.11" y="329.5" width="1.03" height="46.53" fill="#d7d7ff"/><rect x="432.11" y="329.5" width="1.03" height="46.53" fill="#e4e4ff"/><rect x="433.11" y="329.5" width="1.03" height="46.53" fill="#e2e2ff"/><rect x="434.11" y="329.5" width="1.03" height="46.53" fill="#d5d5ff"/><rect x="435.1" y="329.5" width="2.03" height="46.53" fill="#ededff"/><rect x="437.1" y="329.5" width="1.03" height="46.53" fill="#dadaff"/><rect x="438.1" y="329.5" width="1.03" height="46.53" fill="#ececff"/><rect x="439.1" y="329.5" width="1.03" height="46.53" fill="#dcdcff"/><rect x="440.1" y="329.5" width="3.03" height="46.53" fill="#e7e7ff"/><rect x="443.09" y="329.5" width="3.03" height="46.53" fill="#d8d8ff"/><rect x="446.09" y="329.5" width="2.03" height="46.53" fill="#dedeff"/><rect x="448.08" y="329.5" width="3.03" height="46.53" fill="#d8d8ff"/><rect x="451.08" y="329.5" width="2.03" height="46.53" fill="#e2e2ff"/><rect x="453.07" y="329.5" width="1.03" height="46.53" fill="#dedeff"/><rect x="454.07" y="329.5" width="1.03" height="46.53" fill="#e5e5ff"/><rect x="455.07" y="329.5" width="1.03" height="46.53" fill="#ebebff"/><rect x="456.07" y="329.5" width="1.03" height="46.53" fill="#ededff"/><rect x="457.07" y="329.5" width="1.03" height="46.53" fill="#eeeeff"/><rect x="458.07" y="329.5" width="1.03" height="46.53" fill="#ececff"/><rect x="459.06" y="329.5" width="1.03" height="46.53" fill="#ededff"/><rect x="460.06" y="329.5" width="1.03" height="46.53" fill="#f1f1ff"/><rect x="461.06" y="329.5" width="1.03" height="46.53" fill="#e3e3ff"/><rect x="462.06" y="329.5" width="1.03" height="46.53" fill="#e5e5ff"/><rect x="463.06" y="329.5" width="1.03" height="46.53" fill="#e6e6ff"/><rect x="464.06" y="329.5" width="1.03" height="46.53" fill="#e8e8ff"/><rect x="465.05" y="329.5" width="1.03" height="46.53" fill="#e5e5ff"/><rect x="466.05" y="329.5" width="1.03" height="46.53" fill="#f0f0ff"/><rect x="467.05" y="329.5" width="1.03" height="46.53" fill="#f1f1ff"/><rect x="468.05" y="329.5" width="1.03" height="46.53" fill="#e5e5ff"/><rect x="469.05" y="329.5" width="2.03" height="46.53" fill="#e6e6ff"/><rect x="471.04" y="329.5" width="1.03" height="46.53" fill="#e3e3ff"/><rect x="472.04" y="329.5" width="2.03" height="46.53" fill="#ececff"/><rect x="474.04" y="329.5" width="1.03" height="46.53" fill="#eaeaff"/><rect x="475.04" y="329.5" width="1.03" height="46.53" fill="#e3e3ff"/><rect x="476.04" y="329.5" width="2.03" height="46.53" fill="#e4e4ff"/><rect x="478.03" y="329.5" width="3.03" height="46.53" fill="#e8e8ff"/><rect x="481.03" y="329.5" width="1.03" height="46.53" fill="#e3e3ff"/><rect x="482.03" y="329.5" width="2.03" height="46.53" fill="#f7f7ff"/><rect x="484.02" y="329.5" width="1.03" height="46.53" fill="#efefff"/><rect x="485.02" y="329.5" width="2.03" height="46.53" fill="#f2f2ff"/><rect x="487.02" y="329.5" width="1.03" height="46.53" fill="#ebebff"/><rect x="488.02" y="329.5" width="3.03" height="46.53" fill="#eaeaff"/><rect x="491.01" y="329.5" width="2.03" height="46.53" fill="#e8e8ff"/><rect x="493.01" y="329.5" width="1.03" height="46.53" fill="#eaeaff"/><rect x="494.01" y="329.5" width="1.03" height="46.53" fill="#ffffff"/><rect x="495" y="329.5" width="1.03" height="46.53" fill="#fff7f7"/><rect x="496" y="329.5" width="1.03" height="46.53" fill="#f1f1ff"/><rect x="497" y="329.5" width="1.03" height="46.53" fill="#fbfbff"/><rect x="498" y="329.5" width="1.03" height="46.53" fill="#fffdfd"/><rect x="499" y="329.5" width="1.03" height="46.53" fill="#f0f0ff"/><rect x="500" y="329.5" width="3.03" height="46.53" fill="#eaeaff"/><rect x="502.99" y="329.5" width="3.03" height="46.53" fill="#e4e4ff"/><rect x="505.99" y="329.5" width="1.03" height="46.53" fill="#f5f5ff"/><rect x="506.99" y="329.5" width="2.03" height="46.53" fill="#efefff"/><rect x="508.98" y="329.5" width="1.03" height="46.53" fill="#eeeeff"/><rect x="509.98" y="329.5" width="2.03" height="46.53" fill="#f4f4ff"/><rect x="511.98" y="329.5" width="2.03" height="46.53" fill="#f5f5ff"/><rect x="513.97" y="329.5" width="2.03" height="46.53" fill="#fffdfd"/><rect x="515.97" y="329.5" width="1.03" height="46.53" fill="#fbfbff"/><rect x="516.97" y="329.5" width="1.03" height="46.53" fill="#fff5f5"/><rect x="517.97" y="329.5" width="1.03" height="46.53" fill="#fff8f8"/><rect x="518.97" y="329.5" width="1.03" height="46.53" fill="#f4f4ff"/><rect x="519.96" y="329.5" width="1.03" height="46.53" fill="#fefeff"/><rect x="520.96" y="329.5" width="1.03" height="46.53" fill="#ffffff"/><rect x="521.96" y="329.5" width="1.03" height="46.53" fill="#fdfdff"/><rect x="522.96" y="329.5" width="1.03" height="46.53" fill="#fefeff"/><rect x="523.96" y="329.5" width="1.03" height="46.53" fill="#fff0f0"/><rect x="524.96" y="329.5" width="1.03" height="46.53" fill="#fff6f6"/><rect x="525.95" y="329.5" width="1.03" height="46.53" fill="#f3f3ff"/><rect x="526.95" y="329.5" width="1.03" height="46.53" fill="#fff5f5"/><rect x="527.95" y="329.5" width="1.03" height="46.53" fill="#fff4f4"/><rect x="528.95" y="329.5" width="1.03" height="46.53" fill="#ffffff"/><rect x="529.95" y="329.5" width="1.03" height="46.53" fill="#fdfdff"/><rect x="530.95" y="329.5" width="1.03" height="46.53" fill="#fff2f2"/><rect x="531.94" y="329.5" width="1.03" height="46.53" fill="#f8f8ff"/><rect x="532.94" y="329.5" width="1.03" height="46.53" fill="#fff3f3"/><rect x="533.94" y="329.5" width="1.03" height="46.53" fill="#fff2f2"/><rect x="534.94" y="329.5" width="1.03" height="46.53" fill="#fff4f4"/><rect x="535.94" y="329.5" width="1.03" height="46.53" fill="#fff1f1"/><rect x="536.94" y="329.5" width="1.03" height="46.53" fill="#fff2f2"/><rect x="537.93" y="329.5" width="2.03" height="46.53" fill="#ffffff"/><rect x="539.93" y="329.5" width="1.03" height="46.53" fill="#fefeff"/><rect x="540.93" y="329.5" width="1.03" height="46.53" fill="#fafaff"/><rect x="541.93" y="329.5" width="1.03" height="46.53" fill="#ffeeee"/><rect x="542.93" y="329.5" width="2.03" height="46.53" fill="#ffefef"/><rect x="544.92" y="329.5" width="2.03" height="46.53" fill="#f9f9ff"/><rect x="546.92" y="329.5" width="1.03" height="46.53" fill="#fff9f9"/><rect x="547.92" y="329.5" width="1.03" height="46.53" fill="#fdfdff"/><rect x="548.92" y="329.5" width="3.03" height="46.53" fill="#f8f8ff"/><rect x="551.91" y="329.5" width="1.03" height="46.53" fill="#fefeff"/><rect x="552.91" y="329.5" width="1.03" height="46.53" fill="#ffeaea"/><rect x="553.91" y="329.5" width="1.03" height="46.53" fill="#f6f6ff"/><rect x="554.91" y="329.5" width="1.03" height="46.53" fill="#ffeaea"/><rect x="555.9" y="329.5" width="1.03" height="46.53" fill="#ffe7e7"/><rect x="556.9" y="329.5" width="1.03" height="46.53" fill="#ffeded"/><rect x="557.9" y="329.5" width="1.03" height="46.53" fill="#fff3f3"/><rect x="558.9" y="329.5" width="1.03" height="46.53" fill="#fff1f1"/><rect x="559.9" y="329.5" width="1.03" height="46.53" fill="#ffecec"/><rect x="560.9" y="329.5" width="1.03" height="46.53" fill="#ffeaea"/><rect x="561.89" y="329.5" width="1.03" height="46.53" fill="#ffe7e7"/><rect x="562.89" y="329.5" width="1.03" height="46.53" fill="#fff8f8"/><rect x="563.89" y="329.5" width="2.03" height="46.53" fill="#ffe8e8"/><rect x="565.89" y="329.5" width="2.03" height="46.53" fill="#ffdede"/><rect x="567.88" y="329.5" width="1.03" height="46.53" fill="#ffe7e7"/><rect x="568.88" y="329.5" width="1.03" height="46.53" fill="#ffebeb"/><rect x="569.88" y="329.5" width="1.03" height="46.53" fill="#fff3f3"/><rect x="570.88" y="329.5" width="1.03" height="46.53" fill="#ffe5e5"/><rect x="571.88" y="329.5" width="1.03" height="46.53" fill="#ffdfdf"/><rect x="572.88" y="329.5" width="1.03" height="46.53" fill="#ffdede"/><rect x="573.87" y="329.5" width="1.03" height="46.53" fill="#ffdddd"/><rect x="574.87" y="329.5" width="4.02" height="46.53" fill="#ffe0e0"/><rect x="578.87" y="329.5" width="1.03" height="46.53" fill="#ffdfdf"/><rect x="579.86" y="329.5" width="1.03" height="46.53" fill="#ffe1e1"/><rect x="580.86" y="329.5" width="2.03" height="46.53" fill="#ffe0e0"/><rect x="582.86" y="329.5" width="1.03" height="46.53" fill="#ffdfdf"/><rect x="583.86" y="329.5" width="2.03" height="46.53" fill="#ffd4d4"/><rect x="585.85" y="329.5" width="1.03" height="46.53" fill="#ffd6d6"/><rect x="586.85" y="329.5" width="1.03" height="46.53" fill="#ffe6e6"/><rect x="587.85" y="329.5" width="1.03" height="46.53" fill="#ffd8d8"/><rect x="588.85" y="329.5" width="1.03" height="46.53" fill="#ffeded"/><rect x="589.85" y="329.5" width="1.03" height="46.53" fill="#ffecec"/><rect x="590.85" y="329.5" width="1.03" height="46.53" fill="#ffd9d9"/><rect x="591.84" y="329.5" width="1.03" height="46.53" fill="#ffdede"/><rect x="592.84" y="329.5" width="1.03" height="46.53" fill="#ffebeb"/><rect x="593.84" y="329.5" width="1.03" height="46.53" fill="#ffdbdb"/><rect x="594.84" y="329.5" width="1.03" height="46.53" fill="#ffdada"/><rect x="595.84" y="329.5" width="2.03" height="46.53" fill="#ffdfdf"/><rect x="597.83" y="329.5" width="1.03" height="46.53" fill="#ffe0e0"/><rect x="598.83" y="329.5" width="1.03" height="46.53" fill="#ffe2e2"/><rect x="599.83" y="329.5" width="1.03" height="46.53" fill="#ffe0e0"/><rect x="600.83" y="329.5" width="1.03" height="46.53" fill="#ffd8d8"/><rect x="601.83" y="329.5" width="1.03" height="46.53" fill="#ffd5d5"/><rect x="602.83" y="329.5" width="1.03" height="46.53" fill="#ffd1d1"/><rect x="603.82" y="329.5" width="1.03" height="46.53" fill="#ffcece"/><rect x="604.82" y="329.5" width="1.03" height="46.53" fill="#ffc8c8"/><rect x="605.82" y="329.5" width="1.03" height="46.53" fill="#ffc6c6"/><rect x="606.82" y="329.5" width="1.03" height="46.53" fill="#ffc3c3"/><rect x="607.82" y="329.5" width="1.03" height="46.53" fill="#ffcece"/><rect x="608.82" y="329.5" width="1.03" height="46.53" fill="#ffbaba"/><rect x="609.81" y="329.5" width="1.03" height="46.53" fill="#ffbbbb"/><rect x="610.81" y="329.5" width="1.03" height="46.53" fill="#ffb9b9"/><rect x="611.81" y="329.5" width="1.03" height="46.53" fill="#ffb7b7"/><rect x="612.81" y="329.5" width="1.03" height="46.53" fill="#ffacac"/><rect x="613.81" y="329.5" width="1.03" height="46.53" fill="#ffb0b0"/><rect x="614.81" y="329.5" width="2.03" height="46.53" fill="#ffaeae"/><rect x="616.8" y="329.5" width="2.03" height="46.53" fill="#ff2626"/></g>
<g shape-rendering="crispEdges" filter="url(#hblur)"><rect x="377.2" y="376" width="1.03" height="46.73" fill="#eeeeff"/><rect x="378.2" y="376" width="1.03" height="46.73" fill="#d1d1ff"/><rect x="379.2" y="376" width="1.03" height="46.73" fill="#fbfbff"/><rect x="380.2" y="376" width="1.03" height="46.73" fill="#e8e8ff"/><rect x="381.19" y="376" width="1.03" height="46.73" fill="#d9d9ff"/><rect x="382.19" y="376" width="1.03" height="46.73" fill="#f8f8ff"/><rect x="383.19" y="376" width="1.03" height="46.73" fill="#e7e7ff"/><rect x="384.19" y="376" width="1.03" height="46.73" fill="#dbdbff"/><rect x="385.19" y="376" width="1.03" height="46.73" fill="#eeeeff"/><rect x="386.19" y="376" width="1.03" height="46.73" fill="#f8f8ff"/><rect x="387.18" y="376" width="1.03" height="46.73" fill="#efefff"/><rect x="388.18" y="376" width="1.03" height="46.73" fill="#d6d6ff"/><rect x="389.18" y="376" width="1.03" height="46.73" fill="#fcfcff"/><rect x="390.18" y="376" width="1.03" height="46.73" fill="#f5f5ff"/><rect x="391.18" y="376" width="1.03" height="46.73" fill="#f0f0ff"/><rect x="392.18" y="376" width="1.03" height="46.73" fill="#ededff"/><rect x="393.17" y="376" width="1.03" height="46.73" fill="#f9f9ff"/><rect x="394.17" y="376" width="1.03" height="46.73" fill="#ffe0e0"/><rect x="395.17" y="376" width="1.03" height="46.73" fill="#d6d6ff"/><rect x="396.17" y="376" width="1.03" height="46.73" fill="#fffefe"/><rect x="397.17" y="376" width="1.03" height="46.73" fill="#ddddff"/><rect x="398.17" y="376" width="1.03" height="46.73" fill="#d9d9ff"/><rect x="399.16" y="376" width="1.03" height="46.73" fill="#f5f5ff"/><rect x="400.16" y="376" width="1.03" height="46.73" fill="#ffe6e6"/><rect x="401.16" y="376" width="1.03" height="46.73" fill="#e4e4ff"/><rect x="402.16" y="376" width="1.03" height="46.73" fill="#e6e6ff"/><rect x="403.16" y="376" width="1.03" height="46.73" fill="#f7f7ff"/><rect x="404.16" y="376" width="2.03" height="46.73" fill="#f6f6ff"/><rect x="406.15" y="376" width="1.03" height="46.73" fill="#ececff"/><rect x="407.15" y="376" width="1.03" height="46.73" fill="#fafaff"/><rect x="408.15" y="376" width="3.03" height="46.73" fill="#e1e1ff"/><rect x="411.14" y="376" width="1.03" height="46.73" fill="#e8e8ff"/><rect x="412.14" y="376" width="1.03" height="46.73" fill="#f8f8ff"/><rect x="413.14" y="376" width="1.03" height="46.73" fill="#dfdfff"/><rect x="414.14" y="376" width="1.03" height="46.73" fill="#e4e4ff"/><rect x="415.14" y="376" width="2.03" height="46.73" fill="#eeeeff"/><rect x="417.13" y="376" width="2.03" height="46.73" fill="#c4c4ff"/><rect x="419.13" y="376" width="1.03" height="46.73" fill="#d0d0ff"/><rect x="420.13" y="376" width="1.03" height="46.73" fill="#fffafa"/><rect x="421.13" y="376" width="1.03" height="46.73" fill="#e6e6ff"/><rect x="422.13" y="376" width="1.03" height="46.73" fill="#d3d3ff"/><rect x="423.12" y="376" width="1.03" height="46.73" fill="#f2f2ff"/><rect x="424.12" y="376" width="1.03" height="46.73" fill="#d6d6ff"/><rect x="425.12" y="376" width="3.03" height="46.73" fill="#ededff"/><rect x="428.12" y="376" width="1.03" height="46.73" fill="#e4e4ff"/><rect x="429.11" y="376" width="1.03" height="46.73" fill="#ddddff"/><rect x="430.11" y="376" width="1.03" height="46.73" fill="#fafaff"/><rect x="431.11" y="376" width="1.03" height="46.73" fill="#ececff"/><rect x="432.11" y="376" width="1.03" height="46.73" fill="#f0f0ff"/><rect x="433.11" y="376" width="1.03" height="46.73" fill="#f8f8ff"/><rect x="434.11" y="376" width="1.03" height="46.73" fill="#fff7f7"/><rect x="435.1" y="376" width="1.03" height="46.73" fill="#e7e7ff"/><rect x="436.1" y="376" width="1.03" height="46.73" fill="#dbdbff"/><rect x="437.1" y="376" width="1.03" height="46.73" fill="#dfdfff"/><rect x="438.1" y="376" width="1.03" height="46.73" fill="#d8d8ff"/><rect x="439.1" y="376" width="1.03" height="46.73" fill="#ebebff"/><rect x="440.1" y="376" width="1.03" height="46.73" fill="#f9f9ff"/><rect x="441.09" y="376" width="1.03" height="46.73" fill="#fffcfc"/><rect x="442.09" y="376" width="1.03" height="46.73" fill="#e9e9ff"/><rect x="443.09" y="376" width="2.03" height="46.73" fill="#ff8080"/><rect x="445.09" y="376" width="1.03" height="46.73" fill="#fefeff"/><rect x="446.09" y="376" width="1.03" height="46.73" fill="#f2f2ff"/><rect x="447.08" y="376" width="1.03" height="46.73" fill="#e9e9ff"/><rect x="448.08" y="376" width="1.03" height="46.73" fill="#e5e5ff"/><rect x="449.08" y="376" width="1.03" height="46.73" fill="#dfdfff"/><rect x="450.08" y="376" width="1.03" height="46.73" fill="#d2d2ff"/><rect x="451.08" y="376" width="1.03" height="46.73" fill="#d3d3ff"/><rect x="452.08" y="376" width="1.03" height="46.73" fill="#dcdcff"/><rect x="453.07" y="376" width="1.03" height="46.73" fill="#d7d7ff"/><rect x="454.07" y="376" width="1.03" height="46.73" fill="#f6f6ff"/><rect x="455.07" y="376" width="1.03" height="46.73" fill="#e6e6ff"/><rect x="456.07" y="376" width="3.03" height="46.73" fill="#ededff"/><rect x="459.06" y="376" width="3.03" height="46.73" fill="#ececff"/><rect x="462.06" y="376" width="2.03" height="46.73" fill="#f7f7ff"/><rect x="464.06" y="376" width="1.03" height="46.73" fill="#fafaff"/><rect x="465.05" y="376" width="1.03" height="46.73" fill="#f1f1ff"/><rect x="466.05" y="376" width="1.03" height="46.73" fill="#ffebeb"/><rect x="467.05" y="376" width="1.03" height="46.73" fill="#ebebff"/><rect x="468.05" y="376" width="1.03" height="46.73" fill="#e6e6ff"/><rect x="469.05" y="376" width="2.03" height="46.73" fill="#e7e7ff"/><rect x="471.04" y="376" width="2.03" height="46.73" fill="#e6e6ff"/><rect x="473.04" y="376" width="1.03" height="46.73" fill="#ebebff"/><rect x="474.04" y="376" width="1.03" height="46.73" fill="#eeeeff"/><rect x="475.04" y="376" width="1.03" height="46.73" fill="#f9f9ff"/><rect x="476.04" y="376" width="1.03" height="46.73" fill="#fff5f5"/><rect x="477.03" y="376" width="1.03" height="46.73" fill="#e0e0ff"/><rect x="478.03" y="376" width="1.03" height="46.73" fill="#e9e9ff"/><rect x="479.03" y="376" width="1.03" height="46.73" fill="#ebebff"/><rect x="480.03" y="376" width="1.03" height="46.73" fill="#fafaff"/><rect x="481.03" y="376" width="2.03" height="46.73" fill="#ff7373"/><rect x="483.02" y="376" width="1.03" height="46.73" fill="#f5f5ff"/><rect x="484.02" y="376" width="1.03" height="46.73" fill="#e7e7ff"/><rect x="485.02" y="376" width="3.03" height="46.73" fill="#f2f2ff"/><rect x="488.02" y="376" width="1.03" height="46.73" fill="#eeeeff"/><rect x="489.01" y="376" width="2.03" height="46.73" fill="#ececff"/><rect x="491.01" y="376" width="1.03" height="46.73" fill="#fff0f0"/><rect x="492.01" y="376" width="2.03" height="46.73" fill="#efefff"/><rect x="494.01" y="376" width="1.03" height="46.73" fill="#f3f3ff"/><rect x="495" y="376" width="1.03" height="46.73" fill="#d1d1ff"/><rect x="496" y="376" width="1.03" height="46.73" fill="#fffcfc"/><rect x="497" y="376" width="1.03" height="46.73" fill="#fffbfb"/><rect x="498" y="376" width="1.03" height="46.73" fill="#ffe0e0"/><rect x="499" y="376" width="3.03" height="46.73" fill="#fafaff"/><rect x="501.99" y="376" width="3.03" height="46.73" fill="#ececff"/><rect x="504.99" y="376" width="1.03" height="46.73" fill="#f1f1ff"/><rect x="505.99" y="376" width="3.03" height="46.73" fill="#f9f9ff"/><rect x="508.98" y="376" width="3.03" height="46.73" fill="#fffafa"/><rect x="511.98" y="376" width="1.03" height="46.73" fill="#ffffff"/><rect x="512.98" y="376" width="1.03" height="46.73" fill="#e0e0ff"/><rect x="513.97" y="376" width="1.03" height="46.73" fill="#ffcccc"/><rect x="514.97" y="376" width="1.03" height="46.73" fill="#ff6666"/><rect x="515.97" y="376" width="1.03" height="46.73" fill="#ff8080"/><rect x="516.97" y="376" width="2.03" height="46.73" fill="#fffbfb"/><rect x="518.97" y="376" width="1.03" height="46.73" fill="#f2f2ff"/><rect x="519.96" y="376" width="1.03" height="46.73" fill="#f5f5ff"/><rect x="520.96" y="376" width="3.03" height="46.73" fill="#dadaff"/><rect x="523.96" y="376" width="1.03" height="46.73" fill="#ffd9d9"/><rect x="524.96" y="376" width="1.03" height="46.73" fill="#eeeeff"/><rect x="525.95" y="376" width="1.03" height="46.73" fill="#f8f8ff"/><rect x="526.95" y="376" width="1.03" height="46.73" fill="#e8e8ff"/><rect x="527.95" y="376" width="1.03" height="46.73" fill="#ff7373"/><rect x="528.95" y="376" width="2.03" height="46.73" fill="#fffbfb"/><rect x="530.95" y="376" width="2.03" height="46.73" fill="#ff8c8c"/><rect x="532.94" y="376" width="2.03" height="46.73" fill="#ededff"/><rect x="534.94" y="376" width="1.03" height="46.73" fill="#e6e6ff"/><rect x="535.94" y="376" width="1.03" height="46.73" fill="#ffb2b2"/><rect x="536.94" y="376" width="1.03" height="46.73" fill="#fff9f9"/><rect x="537.93" y="376" width="1.03" height="46.73" fill="#e1e1ff"/><rect x="538.93" y="376" width="3.03" height="46.73" fill="#f9f9ff"/><rect x="541.93" y="376" width="1.03" height="46.73" fill="#d8d8ff"/><rect x="542.93" y="376" width="3.03" height="46.73" fill="#fffcfc"/><rect x="545.92" y="376" width="1.03" height="46.73" fill="#ff7373"/><rect x="546.92" y="376" width="1.03" height="46.73" fill="#ececff"/><rect x="547.92" y="376" width="1.03" height="46.73" fill="#f0f0ff"/><rect x="548.92" y="376" width="1.03" height="46.73" fill="#eeeeff"/><rect x="549.91" y="376" width="1.03" height="46.73" fill="#fffafa"/><rect x="550.91" y="376" width="1.03" height="46.73" fill="#e5e5ff"/><rect x="551.91" y="376" width="1.03" height="46.73" fill="#eeeeff"/><rect x="552.91" y="376" width="1.03" height="46.73" fill="#f1f1ff"/><rect x="553.91" y="376" width="1.03" height="46.73" fill="#fff3f3"/><rect x="554.91" y="376" width="1.03" height="46.73" fill="#f6f6ff"/><rect x="555.9" y="376" width="2.03" height="46.73" fill="#fff9f9"/><rect x="557.9" y="376" width="1.03" height="46.73" fill="#fffdfd"/><rect x="558.9" y="376" width="1.03" height="46.73" fill="#fbfbff"/><rect x="559.9" y="376" width="1.03" height="46.73" fill="#fff1f1"/><rect x="560.9" y="376" width="1.03" height="46.73" fill="#ededff"/><rect x="561.89" y="376" width="1.03" height="46.73" fill="#ffb2b2"/><rect x="562.89" y="376" width="1.03" height="46.73" fill="#fffbfb"/><rect x="563.89" y="376" width="1.03" height="46.73" fill="#fafaff"/><rect x="564.89" y="376" width="1.03" height="46.73" fill="#f6f6ff"/><rect x="565.89" y="376" width="1.03" height="46.73" fill="#fff3f3"/><rect x="566.89" y="376" width="1.03" height="46.73" fill="#fffbfb"/><rect x="567.88" y="376" width="1.03" height="46.73" fill="#fffafa"/><rect x="568.88" y="376" width="1.03" height="46.73" fill="#ffa6a6"/><rect x="569.88" y="376" width="1.03" height="46.73" fill="#f7f7ff"/><rect x="570.88" y="376" width="1.03" height="46.73" fill="#fffdfd"/><rect x="571.88" y="376" width="1.03" height="46.73" fill="#ff8080"/><rect x="572.88" y="376" width="1.03" height="46.73" fill="#f5f5ff"/><rect x="573.87" y="376" width="2.03" height="46.73" fill="#ffffff"/><rect x="575.87" y="376" width="1.03" height="46.73" fill="#fefeff"/><rect x="576.87" y="376" width="1.03" height="46.73" fill="#fff8f8"/><rect x="577.87" y="376" width="2.03" height="46.73" fill="#ff7373"/><rect x="579.86" y="376" width="1.03" height="46.73" fill="#ff6666"/><rect x="580.86" y="376" width="2.03" height="46.73" fill="#fff5f5"/><rect x="582.86" y="376" width="1.03" height="46.73" fill="#e3e3ff"/><rect x="583.86" y="376" width="1.03" height="46.73" fill="#fffbfb"/><rect x="584.86" y="376" width="1.03" height="46.73" fill="#f8f8ff"/><rect x="585.85" y="376" width="1.03" height="46.73" fill="#fdfdff"/><rect x="586.85" y="376" width="1.03" height="46.73" fill="#fbfbff"/><rect x="587.85" y="376" width="1.03" height="46.73" fill="#fffefe"/><rect x="588.85" y="376" width="1.03" height="46.73" fill="#ffe0e0"/><rect x="589.85" y="376" width="1.03" height="46.73" fill="#ffcccc"/><rect x="590.85" y="376" width="1.03" height="46.73" fill="#ffbfbf"/><rect x="591.84" y="376" width="1.03" height="46.73" fill="#fff0f0"/><rect x="592.84" y="376" width="1.03" height="46.73" fill="#ffdbdb"/><rect x="593.84" y="376" width="2.03" height="46.73" fill="#ffebeb"/><rect x="595.84" y="376" width="1.03" height="46.73" fill="#ffeaea"/><rect x="596.84" y="376" width="1.03" height="46.73" fill="#ffb2b2"/><rect x="597.83" y="376" width="1.03" height="46.73" fill="#fffbfb"/><rect x="598.83" y="376" width="1.03" height="46.73" fill="#ffd5d5"/><rect x="599.83" y="376" width="1.03" height="46.73" fill="#fffbfb"/><rect x="600.83" y="376" width="1.03" height="46.73" fill="#ffcccc"/><rect x="601.83" y="376" width="1.03" height="46.73" fill="#ffe1e1"/><rect x="602.83" y="376" width="1.03" height="46.73" fill="#ffeaea"/><rect x="603.82" y="376" width="1.03" height="46.73" fill="#ffd9d9"/><rect x="604.82" y="376" width="1.03" height="46.73" fill="#f4f4ff"/><rect x="605.82" y="376" width="1.03" height="46.73" fill="#ffdcdc"/><rect x="606.82" y="376" width="1.03" height="46.73" fill="#ffb2b2"/><rect x="607.82" y="376" width="2.03" height="46.73" fill="#fafaff"/><rect x="609.81" y="376" width="1.03" height="46.73" fill="#ffa6a6"/><rect x="610.81" y="376" width="1.03" height="46.73" fill="#fff0f0"/><rect x="611.81" y="376" width="1.03" height="46.73" fill="#ffdbdb"/><rect x="612.81" y="376" width="1.03" height="46.73" fill="#ffbfbf"/><rect x="613.81" y="376" width="1.03" height="46.73" fill="#ffd1d1"/><rect x="614.81" y="376" width="1.03" height="46.73" fill="#ffd0d0"/><rect x="615.8" y="376" width="1.03" height="46.73" fill="#ffe2e2"/><rect x="616.8" y="376" width="1.03" height="46.73" fill="#ff8c8c"/><rect x="617.8" y="376" width="1.03" height="46.73" fill="#ffebeb"/></g>
<g shape-rendering="crispEdges" filter="url(#hblur)"><rect x="377.2" y="422.7" width="1.03" height="46.83" fill="#ffcdcd"/><rect x="378.2" y="422.7" width="2.03" height="46.83" fill="#ffb0b0"/><rect x="380.2" y="422.7" width="2.03" height="46.83" fill="#ff4d4d"/><rect x="382.19" y="422.7" width="1.03" height="46.83" fill="#ffa8a8"/><rect x="383.19" y="422.7" width="1.03" height="46.83" fill="#ffa3a3"/><rect x="384.19" y="422.7" width="1.03" height="46.83" fill="#ffafaf"/><rect x="385.19" y="422.7" width="1.03" height="46.83" fill="#ff9898"/><rect x="386.19" y="422.7" width="1.03" height="46.83" fill="#ffb2b2"/><rect x="387.18" y="422.7" width="3.03" height="46.83" fill="#ffcece"/><rect x="390.18" y="422.7" width="1.03" height="46.83" fill="#ff8080"/><rect x="391.18" y="422.7" width="2.03" height="46.83" fill="#ffafaf"/><rect x="393.17" y="422.7" width="1.03" height="46.83" fill="#ffeded"/><rect x="394.17" y="422.7" width="3.03" height="46.83" fill="#ffd7d7"/><rect x="397.17" y="422.7" width="1.03" height="46.83" fill="#ffdada"/><rect x="398.17" y="422.7" width="2.03" height="46.83" fill="#ffdede"/><rect x="400.16" y="422.7" width="1.03" height="46.83" fill="#ffe3e3"/><rect x="401.16" y="422.7" width="1.03" height="46.83" fill="#ffe1e1"/><rect x="402.16" y="422.7" width="1.03" height="46.83" fill="#ebebff"/><rect x="403.16" y="422.7" width="1.03" height="46.83" fill="#ffb3b3"/><rect x="404.16" y="422.7" width="2.03" height="46.83" fill="#ffaaaa"/><rect x="406.15" y="422.7" width="1.03" height="46.83" fill="#ff8c8c"/><rect x="407.15" y="422.7" width="1.03" height="46.83" fill="#ff9c9c"/><rect x="408.15" y="422.7" width="1.03" height="46.83" fill="#ffeeee"/><rect x="409.15" y="422.7" width="1.03" height="46.83" fill="#ffaaaa"/><rect x="410.15" y="422.7" width="2.03" height="46.83" fill="#ffacac"/><rect x="412.14" y="422.7" width="3.03" height="46.83" fill="#e8e8ff"/><rect x="415.14" y="422.7" width="1.03" height="46.83" fill="#ff9a9a"/><rect x="416.14" y="422.7" width="1.03" height="46.83" fill="#ffb0b0"/><rect x="417.13" y="422.7" width="1.03" height="46.83" fill="#ffdcdc"/><rect x="418.13" y="422.7" width="1.03" height="46.83" fill="#ffe8e8"/><rect x="419.13" y="422.7" width="1.03" height="46.83" fill="#ffd9d9"/><rect x="420.13" y="422.7" width="3.03" height="46.83" fill="#fffafa"/><rect x="423.12" y="422.7" width="1.03" height="46.83" fill="#ffbcbc"/><rect x="424.12" y="422.7" width="1.03" height="46.83" fill="#fff6f6"/><rect x="425.12" y="422.7" width="1.03" height="46.83" fill="#ffe0e0"/><rect x="426.12" y="422.7" width="1.03" height="46.83" fill="#ffaeae"/><rect x="427.12" y="422.7" width="1.03" height="46.83" fill="#ffdcdc"/><rect x="428.12" y="422.7" width="1.03" height="46.83" fill="#ffe7e7"/><rect x="429.11" y="422.7" width="1.03" height="46.83" fill="#ffe2e2"/><rect x="430.11" y="422.7" width="1.03" height="46.83" fill="#ffd2d2"/><rect x="431.11" y="422.7" width="1.03" height="46.83" fill="#ffecec"/><rect x="432.11" y="422.7" width="1.03" height="46.83" fill="#ffb7b7"/><rect x="433.11" y="422.7" width="1.03" height="46.83" fill="#ffaaaa"/><rect x="434.11" y="422.7" width="1.03" height="46.83" fill="#ffabab"/><rect x="435.1" y="422.7" width="1.03" height="46.83" fill="#ffb8b8"/><rect x="436.1" y="422.7" width="1.03" height="46.83" fill="#ffe2e2"/><rect x="437.1" y="422.7" width="1.03" height="46.83" fill="#ff8a8a"/><rect x="438.1" y="422.7" width="1.03" height="46.83" fill="#ff8b8b"/><rect x="439.1" y="422.7" width="1.03" height="46.83" fill="#f4f4ff"/><rect x="440.1" y="422.7" width="1.03" height="46.83" fill="#f3f3ff"/><rect x="441.09" y="422.7" width="1.03" height="46.83" fill="#f2f2ff"/><rect x="442.09" y="422.7" width="1.03" height="46.83" fill="#ffc6c6"/><rect x="443.09" y="422.7" width="1.03" height="46.83" fill="#ffa9a9"/><rect x="444.09" y="422.7" width="1.03" height="46.83" fill="#ffadad"/><rect x="445.09" y="422.7" width="1.03" height="46.83" fill="#ffc9c9"/><rect x="446.09" y="422.7" width="1.03" height="46.83" fill="#ffa0a0"/><rect x="447.08" y="422.7" width="1.03" height="46.83" fill="#ffe5e5"/><rect x="448.08" y="422.7" width="1.03" height="46.83" fill="#ffe0e0"/><rect x="449.08" y="422.7" width="1.03" height="46.83" fill="#ffe1e1"/><rect x="450.08" y="422.7" width="1.03" height="46.83" fill="#ffaaaa"/><rect x="451.08" y="422.7" width="1.03" height="46.83" fill="#f9f9ff"/><rect x="452.08" y="422.7" width="2.03" height="46.83" fill="#ffb1b1"/><rect x="454.07" y="422.7" width="1.03" height="46.83" fill="#ffbcbc"/><rect x="455.07" y="422.7" width="1.03" height="46.83" fill="#ffebeb"/><rect x="456.07" y="422.7" width="1.03" height="46.83" fill="#ffd1d1"/><rect x="457.07" y="422.7" width="1.03" height="46.83" fill="#ffd2d2"/><rect x="458.07" y="422.7" width="1.03" height="46.83" fill="#ffd3d3"/><rect x="459.06" y="422.7" width="1.03" height="46.83" fill="#ffd4d4"/><rect x="460.06" y="422.7" width="1.03" height="46.83" fill="#ffd2d2"/><rect x="461.06" y="422.7" width="1.03" height="46.83" fill="#ffd3d3"/><rect x="462.06" y="422.7" width="1.03" height="46.83" fill="#fff2f2"/><rect x="463.06" y="422.7" width="1.03" height="46.83" fill="#fff4f4"/><rect x="464.06" y="422.7" width="1.03" height="46.83" fill="#fff6f6"/><rect x="465.05" y="422.7" width="1.03" height="46.83" fill="#ffe0e0"/><rect x="466.05" y="422.7" width="1.03" height="46.83" fill="#e4e4ff"/><rect x="467.05" y="422.7" width="1.03" height="46.83" fill="#e0e0ff"/><rect x="468.05" y="422.7" width="1.03" height="46.83" fill="#ffefef"/><rect x="469.05" y="422.7" width="1.03" height="46.83" fill="#f6f6ff"/><rect x="470.05" y="422.7" width="1.03" height="46.83" fill="#d6d6ff"/><rect x="471.04" y="422.7" width="1.03" height="46.83" fill="#ffe7e7"/><rect x="472.04" y="422.7" width="1.03" height="46.83" fill="#ffacac"/><rect x="473.04" y="422.7" width="1.03" height="46.83" fill="#ffcdcd"/><rect x="474.04" y="422.7" width="1.03" height="46.83" fill="#dedeff"/><rect x="475.04" y="422.7" width="1.03" height="46.83" fill="#ffc7c7"/><rect x="476.04" y="422.7" width="1.03" height="46.83" fill="#ffdcdc"/><rect x="477.03" y="422.7" width="1.03" height="46.83" fill="#ececff"/><rect x="478.03" y="422.7" width="1.03" height="46.83" fill="#ffefef"/><rect x="479.03" y="422.7" width="1.03" height="46.83" fill="#dbdbff"/><rect x="480.03" y="422.7" width="1.03" height="46.83" fill="#d5d5ff"/><rect x="481.03" y="422.7" width="1.03" height="46.83" fill="#fff9f9"/><rect x="482.03" y="422.7" width="1.03" height="46.83" fill="#ffebeb"/><rect x="483.02" y="422.7" width="1.03" height="46.83" fill="#fff8f8"/><rect x="484.02" y="422.7" width="1.03" height="46.83" fill="#ffdede"/><rect x="485.02" y="422.7" width="2.03" height="46.83" fill="#fffbfb"/><rect x="487.02" y="422.7" width="1.03" height="46.83" fill="#fffcfc"/><rect x="488.02" y="422.7" width="1.03" height="46.83" fill="#d0d0ff"/><rect x="489.01" y="422.7" width="1.03" height="46.83" fill="#a7a7ff"/><rect x="490.01" y="422.7" width="1.03" height="46.83" fill="#ffecec"/><rect x="491.01" y="422.7" width="1.03" height="46.83" fill="#e5e5ff"/><rect x="492.01" y="422.7" width="2.03" height="46.83" fill="#fff6f6"/><rect x="494.01" y="422.7" width="1.03" height="46.83" fill="#8e8eff"/><rect x="495" y="422.7" width="3.03" height="46.83" fill="#ffffff"/><rect x="498" y="422.7" width="1.03" height="46.83" fill="#d6d6ff"/><rect x="499" y="422.7" width="2.03" height="46.83" fill="#ffe1e1"/><rect x="501" y="422.7" width="1.03" height="46.83" fill="#fefeff"/><rect x="501.99" y="422.7" width="2.03" height="46.83" fill="#b7b7ff"/><rect x="503.99" y="422.7" width="1.03" height="46.83" fill="#b6b6ff"/><rect x="504.99" y="422.7" width="1.03" height="46.83" fill="#d1d1ff"/><rect x="505.99" y="422.7" width="1.03" height="46.83" fill="#ffd6d6"/><rect x="506.99" y="422.7" width="1.03" height="46.83" fill="#a9a9ff"/><rect x="507.98" y="422.7" width="2.03" height="46.83" fill="#ffdddd"/><rect x="509.98" y="422.7" width="1.03" height="46.83" fill="#ffe0e0"/><rect x="510.98" y="422.7" width="1.03" height="46.83" fill="#f9f9ff"/><rect x="511.98" y="422.7" width="1.03" height="46.83" fill="#c9c9ff"/><rect x="512.98" y="422.7" width="1.03" height="46.83" fill="#ceceff"/><rect x="513.97" y="422.7" width="3.03" height="46.83" fill="#fff8f8"/><rect x="516.97" y="422.7" width="1.03" height="46.83" fill="#ffeded"/><rect x="517.97" y="422.7" width="1.03" height="46.83" fill="#9a9aff"/><rect x="518.97" y="422.7" width="1.03" height="46.83" fill="#dedeff"/><rect x="519.96" y="422.7" width="1.03" height="46.83" fill="#f6f6ff"/><rect x="520.96" y="422.7" width="1.03" height="46.83" fill="#d5d5ff"/><rect x="521.96" y="422.7" width="1.03" height="46.83" fill="#f5f5ff"/><rect x="522.96" y="422.7" width="1.03" height="46.83" fill="#ffe5e5"/><rect x="523.96" y="422.7" width="1.03" height="46.83" fill="#ffdfdf"/><rect x="524.96" y="422.7" width="1.03" height="46.83" fill="#ffdbdb"/><rect x="525.95" y="422.7" width="1.03" height="46.83" fill="#a6a6ff"/><rect x="526.95" y="422.7" width="1.03" height="46.83" fill="#c2c2ff"/><rect x="527.95" y="422.7" width="1.03" height="46.83" fill="#bcbcff"/><rect x="528.95" y="422.7" width="2.03" height="46.83" fill="#ddddff"/><rect x="530.95" y="422.7" width="1.03" height="46.83" fill="#f2f2ff"/><rect x="531.94" y="422.7" width="1.03" height="46.83" fill="#b7b7ff"/><rect x="532.94" y="422.7" width="1.03" height="46.83" fill="#b6b6ff"/><rect x="533.94" y="422.7" width="1.03" height="46.83" fill="#adadff"/><rect x="534.94" y="422.7" width="1.03" height="46.83" fill="#f0f0ff"/><rect x="535.94" y="422.7" width="1.03" height="46.83" fill="#d1d1ff"/><rect x="536.94" y="422.7" width="1.03" height="46.83" fill="#e0e0ff"/><rect x="537.93" y="422.7" width="2.03" height="46.83" fill="#dfdfff"/><rect x="539.93" y="422.7" width="1.03" height="46.83" fill="#ededff"/><rect x="540.93" y="422.7" width="1.03" height="46.83" fill="#ececff"/><rect x="541.93" y="422.7" width="1.03" height="46.83" fill="#e7e7ff"/><rect x="542.93" y="422.7" width="1.03" height="46.83" fill="#c8c8ff"/><rect x="543.92" y="422.7" width="1.03" height="46.83" fill="#d7d7ff"/><rect x="544.92" y="422.7" width="1.03" height="46.83" fill="#d2d2ff"/><rect x="545.92" y="422.7" width="1.03" height="46.83" fill="#d4d4ff"/><rect x="546.92" y="422.7" width="1.03" height="46.83" fill="#ccccff"/><rect x="547.92" y="422.7" width="1.03" height="46.83" fill="#e5e5ff"/><rect x="548.92" y="422.7" width="1.03" height="46.83" fill="#d4d4ff"/><rect x="549.91" y="422.7" width="1.03" height="46.83" fill="#bfbfff"/><rect x="550.91" y="422.7" width="1.03" height="46.83" fill="#b9b9ff"/><rect x="551.91" y="422.7" width="1.03" height="46.83" fill="#cfcfff"/><rect x="552.91" y="422.7" width="1.03" height="46.83" fill="#ceceff"/><rect x="553.91" y="422.7" width="1.03" height="46.83" fill="#d1d1ff"/><rect x="554.91" y="422.7" width="1.03" height="46.83" fill="#e4e4ff"/><rect x="555.9" y="422.7" width="2.03" height="46.83" fill="#dfdfff"/><rect x="557.9" y="422.7" width="1.03" height="46.83" fill="#e7e7ff"/><rect x="558.9" y="422.7" width="1.03" height="46.83" fill="#d0d0ff"/><rect x="559.9" y="422.7" width="2.03" height="46.83" fill="#cdcdff"/><rect x="561.89" y="422.7" width="1.03" height="46.83" fill="#e0e0ff"/><rect x="562.89" y="422.7" width="1.03" height="46.83" fill="#fffefe"/><rect x="563.89" y="422.7" width="2.03" height="46.83" fill="#f7f7ff"/><rect x="565.89" y="422.7" width="1.03" height="46.83" fill="#d4d4ff"/><rect x="566.89" y="422.7" width="1.03" height="46.83" fill="#cbcbff"/><rect x="567.88" y="422.7" width="2.03" height="46.83" fill="#e2e2ff"/><rect x="569.88" y="422.7" width="1.03" height="46.83" fill="#ededff"/><rect x="570.88" y="422.7" width="2.03" height="46.83" fill="#ddddff"/><rect x="572.88" y="422.7" width="1.03" height="46.83" fill="#cbcbff"/><rect x="573.87" y="422.7" width="2.03" height="46.83" fill="#ff8080"/><rect x="575.87" y="422.7" width="1.03" height="46.83" fill="#dfdfff"/><rect x="576.87" y="422.7" width="3.03" height="46.83" fill="#d3d3ff"/><rect x="579.86" y="422.7" width="1.03" height="46.83" fill="#e0e0ff"/><rect x="580.86" y="422.7" width="3.03" height="46.83" fill="#ddddff"/><rect x="583.86" y="422.7" width="1.03" height="46.83" fill="#ccccff"/><rect x="584.86" y="422.7" width="3.03" height="46.83" fill="#d3d3ff"/><rect x="587.85" y="422.7" width="2.03" height="46.83" fill="#d1d1ff"/><rect x="589.85" y="422.7" width="2.03" height="46.83" fill="#d3d3ff"/><rect x="591.84" y="422.7" width="2.03" height="46.83" fill="#dcdcff"/><rect x="593.84" y="422.7" width="1.03" height="46.83" fill="#f4f4ff"/><rect x="594.84" y="422.7" width="1.03" height="46.83" fill="#e4e4ff"/><rect x="595.84" y="422.7" width="1.03" height="46.83" fill="#b4b4ff"/><rect x="596.84" y="422.7" width="3.03" height="46.83" fill="#cbcbff"/><rect x="599.83" y="422.7" width="1.03" height="46.83" fill="#cdcdff"/><rect x="600.83" y="422.7" width="1.03" height="46.83" fill="#b2b2ff"/><rect x="601.83" y="422.7" width="1.03" height="46.83" fill="#e7e7ff"/><rect x="602.83" y="422.7" width="1.03" height="46.83" fill="#f9f9ff"/><rect x="603.82" y="422.7" width="1.03" height="46.83" fill="#dcdcff"/><rect x="604.82" y="422.7" width="3.03" height="46.83" fill="#e8e8ff"/><rect x="607.82" y="422.7" width="1.03" height="46.83" fill="#a6a6ff"/><rect x="608.82" y="422.7" width="1.03" height="46.83" fill="#cdcdff"/><rect x="609.81" y="422.7" width="1.03" height="46.83" fill="#d2d2ff"/><rect x="610.81" y="422.7" width="1.03" height="46.83" fill="#eeeeff"/><rect x="611.81" y="422.7" width="1.03" height="46.83" fill="#e9e9ff"/><rect x="612.81" y="422.7" width="1.03" height="46.83" fill="#dfdfff"/><rect x="613.81" y="422.7" width="1.03" height="46.83" fill="#c9c9ff"/><rect x="614.81" y="422.7" width="1.03" height="46.83" fill="#e5e5ff"/><rect x="615.8" y="422.7" width="1.03" height="46.83" fill="#d1d1ff"/><rect x="616.8" y="422.7" width="1.03" height="46.83" fill="#cbcbff"/><rect x="617.8" y="422.7" width="1.03" height="46.83" fill="#cacaff"/></g>
<g shape-rendering="crispEdges" filter="url(#hblur)"><rect x="377.2" y="469.5" width="4.02" height="46.93" fill="#ff4747"/><rect x="381.19" y="469.5" width="1.03" height="46.93" fill="#ffb4b4"/><rect x="382.19" y="469.5" width="1.03" height="46.93" fill="#ffc4c4"/><rect x="383.19" y="469.5" width="1.03" height="46.93" fill="#ffaaaa"/><rect x="384.19" y="469.5" width="1.03" height="46.93" fill="#ffcfcf"/><rect x="385.19" y="469.5" width="2.03" height="46.93" fill="#ffc4c4"/><rect x="387.18" y="469.5" width="2.03" height="46.93" fill="#ffcaca"/><rect x="389.18" y="469.5" width="1.03" height="46.93" fill="#ffd0d0"/><rect x="390.18" y="469.5" width="1.03" height="46.93" fill="#ffcaca"/><rect x="391.18" y="469.5" width="2.03" height="46.93" fill="#ffffff"/><rect x="393.17" y="469.5" width="2.03" height="46.93" fill="#ffebeb"/><rect x="395.17" y="469.5" width="1.03" height="46.93" fill="#fefeff"/><rect x="396.17" y="469.5" width="1.03" height="46.93" fill="#e3e3ff"/><rect x="397.17" y="469.5" width="3.03" height="46.93" fill="#ffecec"/><rect x="400.16" y="469.5" width="1.03" height="46.93" fill="#ffe1e1"/><rect x="401.16" y="469.5" width="1.03" height="46.93" fill="#ffbdbd"/><rect x="402.16" y="469.5" width="1.03" height="46.93" fill="#ffe7e7"/><rect x="403.16" y="469.5" width="1.03" height="46.93" fill="#f9f9ff"/><rect x="404.16" y="469.5" width="2.03" height="46.93" fill="#ffdada"/><rect x="406.15" y="469.5" width="1.03" height="46.93" fill="#ffdbdb"/><rect x="407.15" y="469.5" width="1.03" height="46.93" fill="#ffd7d7"/><rect x="408.15" y="469.5" width="1.03" height="46.93" fill="#f0f0ff"/><rect x="409.15" y="469.5" width="1.03" height="46.93" fill="#ffdbdb"/><rect x="410.15" y="469.5" width="1.03" height="46.93" fill="#fcfcff"/><rect x="411.14" y="469.5" width="1.03" height="46.93" fill="#ffe2e2"/><rect x="412.14" y="469.5" width="1.03" height="46.93" fill="#ffe6e6"/><rect x="413.14" y="469.5" width="1.03" height="46.93" fill="#d7d7ff"/><rect x="414.14" y="469.5" width="1.03" height="46.93" fill="#e6e6ff"/><rect x="415.14" y="469.5" width="1.03" height="46.93" fill="#ffcaca"/><rect x="416.14" y="469.5" width="1.03" height="46.93" fill="#ffe6e6"/><rect x="417.13" y="469.5" width="1.03" height="46.93" fill="#ffefef"/><rect x="418.13" y="469.5" width="1.03" height="46.93" fill="#e5e5ff"/><rect x="419.13" y="469.5" width="2.03" height="46.93" fill="#e4e4ff"/><rect x="421.13" y="469.5" width="1.03" height="46.93" fill="#ffe7e7"/><rect x="422.13" y="469.5" width="1.03" height="46.93" fill="#ffb6b6"/><rect x="423.12" y="469.5" width="2.03" height="46.93" fill="#ffefef"/><rect x="425.12" y="469.5" width="1.03" height="46.93" fill="#fafaff"/><rect x="426.12" y="469.5" width="1.03" height="46.93" fill="#ffeded"/><rect x="427.12" y="469.5" width="1.03" height="46.93" fill="#ececff"/><rect x="428.12" y="469.5" width="1.03" height="46.93" fill="#ffecec"/><rect x="429.11" y="469.5" width="2.03" height="46.93" fill="#f9f9ff"/><rect x="431.11" y="469.5" width="1.03" height="46.93" fill="#fff0f0"/><rect x="432.11" y="469.5" width="1.03" height="46.93" fill="#f4f4ff"/><rect x="433.11" y="469.5" width="1.03" height="46.93" fill="#f8f8ff"/><rect x="434.11" y="469.5" width="1.03" height="46.93" fill="#ffe7e7"/><rect x="435.1" y="469.5" width="1.03" height="46.93" fill="#ffe0e0"/><rect x="436.1" y="469.5" width="2.03" height="46.93" fill="#eeeeff"/><rect x="438.1" y="469.5" width="1.03" height="46.93" fill="#ffdddd"/><rect x="439.1" y="469.5" width="1.03" height="46.93" fill="#fff2f2"/><rect x="440.1" y="469.5" width="1.03" height="46.93" fill="#f7f7ff"/><rect x="441.09" y="469.5" width="1.03" height="46.93" fill="#fff3f3"/><rect x="442.09" y="469.5" width="1.03" height="46.93" fill="#f7f7ff"/><rect x="443.09" y="469.5" width="1.03" height="46.93" fill="#ffdcdc"/><rect x="444.09" y="469.5" width="1.03" height="46.93" fill="#f7f7ff"/><rect x="445.09" y="469.5" width="1.03" height="46.93" fill="#f6f6ff"/><rect x="446.09" y="469.5" width="1.03" height="46.93" fill="#fff3f3"/><rect x="447.08" y="469.5" width="2.03" height="46.93" fill="#f2f2ff"/><rect x="449.08" y="469.5" width="1.03" height="46.93" fill="#f1f1ff"/><rect x="450.08" y="469.5" width="1.03" height="46.93" fill="#fff4f4"/><rect x="451.08" y="469.5" width="1.03" height="46.93" fill="#e7e7ff"/><rect x="452.08" y="469.5" width="2.03" height="46.93" fill="#dfdfff"/><rect x="454.07" y="469.5" width="1.03" height="46.93" fill="#d4d4ff"/><rect x="455.07" y="469.5" width="2.03" height="46.93" fill="#ededff"/><rect x="457.07" y="469.5" width="1.03" height="46.93" fill="#f3f3ff"/><rect x="458.07" y="469.5" width="1.03" height="46.93" fill="#fff5f5"/><rect x="459.06" y="469.5" width="2.03" height="46.93" fill="#f5f5ff"/><rect x="461.06" y="469.5" width="1.03" height="46.93" fill="#ffc7c7"/><rect x="462.06" y="469.5" width="1.03" height="46.93" fill="#ffdada"/><rect x="463.06" y="469.5" width="1.03" height="46.93" fill="#f5f5ff"/><rect x="464.06" y="469.5" width="1.03" height="46.93" fill="#efefff"/><rect x="465.05" y="469.5" width="3.03" height="46.93" fill="#f5f5ff"/><rect x="468.05" y="469.5" width="1.03" height="46.93" fill="#dadaff"/><rect x="469.05" y="469.5" width="1.03" height="46.93" fill="#ffebeb"/><rect x="470.05" y="469.5" width="1.03" height="46.93" fill="#fff4f4"/><rect x="471.04" y="469.5" width="2.03" height="46.93" fill="#f5f5ff"/><rect x="473.04" y="469.5" width="1.03" height="46.93" fill="#fff0f0"/><rect x="474.04" y="469.5" width="1.03" height="46.93" fill="#d8d8ff"/><rect x="475.04" y="469.5" width="1.03" height="46.93" fill="#fff3f3"/><rect x="476.04" y="469.5" width="1.03" height="46.93" fill="#eaeaff"/><rect x="477.03" y="469.5" width="1.03" height="46.93" fill="#ffe8e8"/><rect x="478.03" y="469.5" width="1.03" height="46.93" fill="#ffecec"/><rect x="479.03" y="469.5" width="1.03" height="46.93" fill="#fff0f0"/><rect x="480.03" y="469.5" width="1.03" height="46.93" fill="#f5f5ff"/><rect x="481.03" y="469.5" width="1.03" height="46.93" fill="#ffe4e4"/><rect x="482.03" y="469.5" width="2.03" height="46.93" fill="#f0f0ff"/><rect x="484.02" y="469.5" width="1.03" height="46.93" fill="#e1e1ff"/><rect x="485.02" y="469.5" width="2.03" height="46.93" fill="#fff2f2"/><rect x="487.02" y="469.5" width="3.03" height="46.93" fill="#e4e4ff"/><rect x="490.01" y="469.5" width="1.03" height="46.93" fill="#ffcccc"/><rect x="491.01" y="469.5" width="1.03" height="46.93" fill="#c6c6ff"/><rect x="492.01" y="469.5" width="1.03" height="46.93" fill="#ffdddd"/><rect x="493.01" y="469.5" width="1.03" height="46.93" fill="#bcbcff"/><rect x="494.01" y="469.5" width="1.03" height="46.93" fill="#f5f5ff"/><rect x="495" y="469.5" width="1.03" height="46.93" fill="#ffacac"/><rect x="496" y="469.5" width="1.03" height="46.93" fill="#fff5f5"/><rect x="497" y="469.5" width="1.03" height="46.93" fill="#ffecec"/><rect x="498" y="469.5" width="1.03" height="46.93" fill="#fff5f5"/><rect x="499" y="469.5" width="1.03" height="46.93" fill="#ffd1d1"/><rect x="500" y="469.5" width="1.03" height="46.93" fill="#f3f3ff"/><rect x="501" y="469.5" width="1.03" height="46.93" fill="#f2f2ff"/><rect x="501.99" y="469.5" width="1.03" height="46.93" fill="#fff6f6"/><rect x="502.99" y="469.5" width="1.03" height="46.93" fill="#fff1f1"/><rect x="503.99" y="469.5" width="1.03" height="46.93" fill="#aeaeff"/><rect x="504.99" y="469.5" width="1.03" height="46.93" fill="#ffeaea"/><rect x="505.99" y="469.5" width="1.03" height="46.93" fill="#ffe7e7"/><rect x="506.99" y="469.5" width="1.03" height="46.93" fill="#ffe8e8"/><rect x="507.98" y="469.5" width="1.03" height="46.93" fill="#d7d7ff"/><rect x="508.98" y="469.5" width="1.03" height="46.93" fill="#fff9f9"/><rect x="509.98" y="469.5" width="3.03" height="46.93" fill="#fff3f3"/><rect x="512.98" y="469.5" width="2.03" height="46.93" fill="#fffbfb"/><rect x="514.97" y="469.5" width="1.03" height="46.93" fill="#eeeeff"/><rect x="515.97" y="469.5" width="2.03" height="46.93" fill="#fff6f6"/><rect x="517.97" y="469.5" width="1.03" height="46.93" fill="#fffdfd"/><rect x="518.97" y="469.5" width="1.03" height="46.93" fill="#ededff"/><rect x="519.96" y="469.5" width="1.03" height="46.93" fill="#ececff"/><rect x="520.96" y="469.5" width="1.03" height="46.93" fill="#b3b3ff"/><rect x="521.96" y="469.5" width="1.03" height="46.93" fill="#e0e0ff"/><rect x="522.96" y="469.5" width="1.03" height="46.93" fill="#e4e4ff"/><rect x="523.96" y="469.5" width="2.03" height="46.93" fill="#fff1f1"/><rect x="525.95" y="469.5" width="1.03" height="46.93" fill="#fff2f2"/><rect x="526.95" y="469.5" width="1.03" height="46.93" fill="#ffeaea"/><rect x="527.95" y="469.5" width="1.03" height="46.93" fill="#e9e9ff"/><rect x="528.95" y="469.5" width="1.03" height="46.93" fill="#fffcfc"/><rect x="529.95" y="469.5" width="1.03" height="46.93" fill="#fffdfd"/><rect x="530.95" y="469.5" width="1.03" height="46.93" fill="#ffe2e2"/><rect x="531.94" y="469.5" width="1.03" height="46.93" fill="#fffdfd"/><rect x="532.94" y="469.5" width="1.03" height="46.93" fill="#e3e3ff"/><rect x="533.94" y="469.5" width="1.03" height="46.93" fill="#e0e0ff"/><rect x="534.94" y="469.5" width="2.03" height="46.93" fill="#ffefef"/><rect x="536.94" y="469.5" width="1.03" height="46.93" fill="#fff5f5"/><rect x="537.93" y="469.5" width="1.03" height="46.93" fill="#fefeff"/><rect x="538.93" y="469.5" width="1.03" height="46.93" fill="#ffffff"/><rect x="539.93" y="469.5" width="1.03" height="46.93" fill="#f8f8ff"/><rect x="540.93" y="469.5" width="1.03" height="46.93" fill="#e3e3ff"/><rect x="541.93" y="469.5" width="1.03" height="46.93" fill="#d9d9ff"/><rect x="542.93" y="469.5" width="1.03" height="46.93" fill="#dbdbff"/><rect x="543.92" y="469.5" width="1.03" height="46.93" fill="#ffe4e4"/><rect x="544.92" y="469.5" width="1.03" height="46.93" fill="#c9c9ff"/><rect x="545.92" y="469.5" width="1.03" height="46.93" fill="#d3d3ff"/><rect x="546.92" y="469.5" width="1.03" height="46.93" fill="#f5f5ff"/><rect x="547.92" y="469.5" width="1.03" height="46.93" fill="#ddddff"/><rect x="548.92" y="469.5" width="1.03" height="46.93" fill="#fff0f0"/><rect x="549.91" y="469.5" width="1.03" height="46.93" fill="#fff1f1"/><rect x="550.91" y="469.5" width="1.03" height="46.93" fill="#a5a5ff"/><rect x="551.91" y="469.5" width="1.03" height="46.93" fill="#f3f3ff"/><rect x="552.91" y="469.5" width="1.03" height="46.93" fill="#dedeff"/><rect x="553.91" y="469.5" width="1.03" height="46.93" fill="#f9f9ff"/><rect x="554.91" y="469.5" width="2.03" height="46.93" fill="#f8f8ff"/><rect x="556.9" y="469.5" width="1.03" height="46.93" fill="#c6c6ff"/><rect x="557.9" y="469.5" width="1.03" height="46.93" fill="#c5c5ff"/><rect x="558.9" y="469.5" width="1.03" height="46.93" fill="#d0d0ff"/><rect x="559.9" y="469.5" width="2.03" height="46.93" fill="#dbdbff"/><rect x="561.89" y="469.5" width="1.03" height="46.93" fill="#efefff"/><rect x="562.89" y="469.5" width="1.03" height="46.93" fill="#dbdbff"/><rect x="563.89" y="469.5" width="1.03" height="46.93" fill="#fff0f0"/><rect x="564.89" y="469.5" width="1.03" height="46.93" fill="#d7d7ff"/><rect x="565.89" y="469.5" width="1.03" height="46.93" fill="#b7b7ff"/><rect x="566.89" y="469.5" width="1.03" height="46.93" fill="#ccccff"/><rect x="567.88" y="469.5" width="1.03" height="46.93" fill="#fff1f1"/><rect x="568.88" y="469.5" width="1.03" height="46.93" fill="#dadaff"/><rect x="569.88" y="469.5" width="2.03" height="46.93" fill="#f6f6ff"/><rect x="571.88" y="469.5" width="1.03" height="46.93" fill="#f2f2ff"/><rect x="572.88" y="469.5" width="1.03" height="46.93" fill="#c3c3ff"/><rect x="573.87" y="469.5" width="1.03" height="46.93" fill="#eeeeff"/><rect x="574.87" y="469.5" width="1.03" height="46.93" fill="#bebeff"/><rect x="575.87" y="469.5" width="1.03" height="46.93" fill="#f5f5ff"/><rect x="576.87" y="469.5" width="1.03" height="46.93" fill="#fff9f9"/><rect x="577.87" y="469.5" width="2.03" height="46.93" fill="#d3d3ff"/><rect x="579.86" y="469.5" width="1.03" height="46.93" fill="#c6c6ff"/><rect x="580.86" y="469.5" width="1.03" height="46.93" fill="#d8d8ff"/><rect x="581.86" y="469.5" width="2.03" height="46.93" fill="#efefff"/><rect x="583.86" y="469.5" width="1.03" height="46.93" fill="#f2f2ff"/><rect x="584.86" y="469.5" width="1.03" height="46.93" fill="#d1d1ff"/><rect x="585.85" y="469.5" width="1.03" height="46.93" fill="#d8d8ff"/><rect x="586.85" y="469.5" width="1.03" height="46.93" fill="#f4f4ff"/><rect x="587.85" y="469.5" width="1.03" height="46.93" fill="#ccccff"/><rect x="588.85" y="469.5" width="1.03" height="46.93" fill="#d4d4ff"/><rect x="589.85" y="469.5" width="1.03" height="46.93" fill="#ceceff"/><rect x="590.85" y="469.5" width="1.03" height="46.93" fill="#cbcbff"/><rect x="591.84" y="469.5" width="1.03" height="46.93" fill="#fcfcff"/><rect x="592.84" y="469.5" width="1.03" height="46.93" fill="#c9c9ff"/><rect x="593.84" y="469.5" width="1.03" height="46.93" fill="#f6f6ff"/><rect x="594.84" y="469.5" width="2.03" height="46.93" fill="#fefeff"/><rect x="596.84" y="469.5" width="1.03" height="46.93" fill="#fdfdff"/><rect x="597.83" y="469.5" width="1.03" height="46.93" fill="#fff8f8"/><rect x="598.83" y="469.5" width="1.03" height="46.93" fill="#ebebff"/><rect x="599.83" y="469.5" width="1.03" height="46.93" fill="#fffafa"/><rect x="600.83" y="469.5" width="3.03" height="46.93" fill="#eaeaff"/><rect x="603.82" y="469.5" width="1.03" height="46.93" fill="#ececff"/><rect x="604.82" y="469.5" width="2.03" height="46.93" fill="#d5d5ff"/><rect x="606.82" y="469.5" width="1.03" height="46.93" fill="#e9e9ff"/><rect x="607.82" y="469.5" width="2.03" height="46.93" fill="#bfbfff"/><rect x="609.81" y="469.5" width="1.03" height="46.93" fill="#ceceff"/><rect x="610.81" y="469.5" width="1.03" height="46.93" fill="#efefff"/><rect x="611.81" y="469.5" width="2.03" height="46.93" fill="#cacaff"/><rect x="613.81" y="469.5" width="1.03" height="46.93" fill="#c9c9ff"/><rect x="614.81" y="469.5" width="1.03" height="46.93" fill="#f7f7ff"/><rect x="615.8" y="469.5" width="1.03" height="46.93" fill="#efefff"/><rect x="616.8" y="469.5" width="1.03" height="46.93" fill="#cfcfff"/><rect x="617.8" y="469.5" width="1.03" height="46.93" fill="#9797ff"/></g>
<text x="621" y="308.55" font-size="8.4" font-family="Liberation Sans, sans-serif" fill="#000" text-anchor="start"  stroke="#000" stroke-width="0.18">HSP_Score</text>
<text x="621" y="355.15" font-size="8.4" font-family="Liberation Sans, sans-serif" fill="#000" text-anchor="start"  stroke="#000" stroke-width="0.18">HSPA5</text>
<text x="621" y="401.75" font-size="8.4" font-family="Liberation Sans, sans-serif" fill="#000" text-anchor="start"  stroke="#000" stroke-width="0.18">DNAJC5B</text>
<text x="621" y="448.5" font-size="8.4" font-family="Liberation Sans, sans-serif" fill="#000" text-anchor="start"  stroke="#000" stroke-width="0.18">DNAJC12</text>
<text x="621" y="495.35" font-size="8.4" font-family="Liberation Sans, sans-serif" fill="#000" text-anchor="start"  stroke="#000" stroke-width="0.18">DNAJB12</text>
<defs><linearGradient id="gD" x1="0" y1="0" x2="0" y2="1"><stop offset="0" stop-color="#ff0000"/><stop offset="0.5" stop-color="#ffffff"/><stop offset="1" stop-color="#0000ff"/></linearGradient></defs>
<rect x="670" y="282.8" width="5.4" height="61.8" fill="url(#gD)"/>
<text x="677.8" y="290.7" font-size="4.8" font-family="Liberation Sans, sans-serif" fill="#333">4</text>
<text x="677.8" y="303" font-size="4.8" font-family="Liberation Sans, sans-serif" fill="#333">2</text>
<text x="677.8" y="315.8" font-size="4.8" font-family="Liberation Sans, sans-serif" fill="#333">0</text>
<text x="677.8" y="328.1" font-size="4.8" font-family="Liberation Sans, sans-serif" fill="#333">&#8722;2</text>
<text x="677.8" y="340" font-size="4.8" font-family="Liberation Sans, sans-serif" fill="#333">&#8722;4</text>
</svg></body></html>
